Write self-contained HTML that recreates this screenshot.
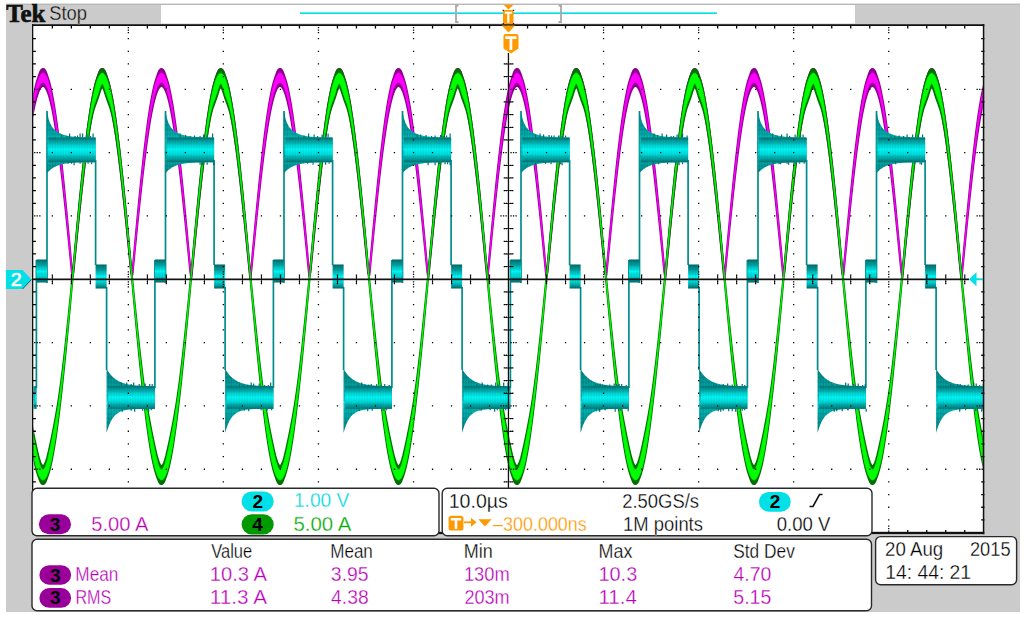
<!DOCTYPE html>
<html><head><meta charset="utf-8"><title>Tek</title><style>
html,body{margin:0;padding:0;background:#fff;width:1024px;height:617px;overflow:hidden}
svg{display:block}
</style></head><body>
<svg width="1024" height="617" viewBox="0 0 1024 617">
<rect x="6" y="4" width="1014" height="608" fill="#cbcbcb"/>
<rect x="6" y="3.6" width="1014" height="1.2" fill="#b4b4b4"/>
<rect x="161" y="5" width="694" height="18.5" fill="#fff"/>
<rect x="32" y="24" width="952.5" height="510" fill="#fff"/>
<clipPath id="gc"><rect x="33.3" y="26" width="949.5" height="506"/></clipPath>
<g clip-path="url(#gc)">
<path d="M31.3 109.9l1-6.2 1-5.7 1-5.1 1-4.7 1-4.1 1-3.6 1-3 1-2.9 1-2.7 1-1.8 1-0.9 1-0.1 1 0.5 1 1.4 1 2.4 1 2.9 1 3 1 3.3 1 3.9 1 4.4 1 5 1 5.5 1 6 1 6.4 1 7 1 7.3 1 7.8 1 8.2 1 8.6 1 9 1 9.2 1 9.6 1 9.9 1 10.1 1 10.3 1 10.5 1 10.7 1 10.8 1 10.9 1 11 1 11 1-3.8 1-11.1 1-10.9 1-10.9 1-10.8 1-10.6 1-10.5 1-10.2 1-10 1-9.8 1-9.5 1-9.1 1-8.8 1-8.5 1-8 1-7.7 1-7.2 1-6.8 1-6.3 1-5.8 1-5.3 1-4.8 1-4.2 1-3.7 1-3.2 1-2.9 1-2.8 1-2.1 1-1 1-0.3 1 0.3 1 1.2 1 2.1 1 2.9 1 2.9 1 3.2 1 3.8 1 4.3 1 4.8 1 5.4 1 5.8 1 6.4 1 6.8 1 7.3 1 7.6 1 8.2 1 8.4 1 8.9 1 9.2 1 9.5 1 9.8 1 10 1 10.3 1 10.4 1 10.7 1 10.8 1 10.9 1 10.9 1 11.1 1 1.6 1-11 1-11 1-10.9 1-10.8 1-10.7 1-10.5 1-10.3 1-10 1-9.9 1-9.5 1-9.3 1-8.9 1-8.5 1-8.2 1-7.7 1-7.4 1-6.8 1-6.5 1-5.9 1-5.4 1-4.9 1-4.4 1-3.9 1-3.2 1-3 1-2.9 1-2.3 1-1.2 1-0.5 1 0.2 1 0.9 1 1.9 1 2.8 1 2.9 1 3.1 1 3.6 1 4.2 1 4.7 1 5.2 1 5.7 1 6.2 1 6.7 1 7.2 1 7.6 1 8 1 8.4 1 8.7 1 9.2 1 9.4 1 9.7 1 10 1 10.2 1 10.4 1 10.6 1 10.8 1 10.8 1 11 1 11 1 7.2 1-11.1 1-11 1-10.9 1-10.8 1-10.7 1-10.6 1-10.3 1-10.1 1-9.9 1-9.7 1-9.3 1-9 1-8.6 1-8.3 1-7.8 1-7.5 1-7 1-6.5 1-6 1-5.6 1-5.1 1-4.5 1-3.9 1-3.5 1-3 1-2.9 1-2.5 1-1.5 1-0.6 1 0 1 0.7 1 1.6 1 2.6 1 2.9 1 3 1 3.5 1 4.1 1 4.5 1 5.1 1 5.6 1 6.1 1 6.6 1 7.1 1 7.4 1 7.9 1 8.3 1 8.7 1 9 1 9.4 1 9.6 1 10 1 10.1 1 10.4 1 10.5 1 10.8 1 10.8 1 10.9 1 11 1 11.1 1-9.4 1-11 1-11 1-10.8 1-10.8 1-10.5 1-10.4 1-10.2 1-10 1-9.7 1-9.4 1-9 1-8.8 1-8.3 1-8 1-7.5 1-7.2 1-6.6 1-6.2 1-5.7 1-5.1 1-4.7 1-4.1 1-3.6 1-3 1-2.9 1-2.7 1-1.8 1-0.9 1-0.1 1 0.5 1 1.4 1 2.4 1 2.9 1 3 1 3.3 1 3.9 1 4.4 1 5 1 5.5 1 6 1 6.4 1 7 1 7.3 1 7.8 1 8.2 1 8.6 1 9 1 9.2 1 9.6 1 9.9 1 10.1 1 10.3 1 10.5 1 10.7 1 10.8 1 10.9 1 11 1 11 1-3.8 1-11.1 1-10.9 1-10.9 1-10.8 1-10.6 1-10.5 1-10.2 1-10 1-9.8 1-9.5 1-9.1 1-8.8 1-8.5 1-8 1-7.7 1-7.2 1-6.8 1-6.3 1-5.8 1-5.3 1-4.8 1-4.2 1-3.7 1-3.2 1-2.9 1-2.8 1-2.1 1-1 1-0.3 1 0.3 1 1.2 1 2.1 1 2.9 1 2.9 1 3.2 1 3.8 1 4.3 1 4.8 1 5.4 1 5.8 1 6.4 1 6.8 1 7.3 1 7.6 1 8.2 1 8.4 1 8.9 1 9.2 1 9.5 1 9.8 1 10 1 10.3 1 10.4 1 10.7 1 10.8 1 10.9 1 10.9 1 11.1 1 1.6 1-11 1-11 1-10.9 1-10.8 1-10.7 1-10.5 1-10.3 1-10 1-9.9 1-9.5 1-9.3 1-8.9 1-8.5 1-8.2 1-7.7 1-7.4 1-6.8 1-6.5 1-5.9 1-5.4 1-4.9 1-4.4 1-3.9 1-3.2 1-3 1-2.9 1-2.3 1-1.2 1-0.5 1 0.2 1 0.9 1 1.9 1 2.8 1 2.9 1 3.1 1 3.6 1 4.2 1 4.7 1 5.2 1 5.7 1 6.2 1 6.7 1 7.2 1 7.6 1 8 1 8.4 1 8.7 1 9.2 1 9.4 1 9.7 1 10 1 10.2 1 10.4 1 10.6 1 10.8 1 10.8 1 11 1 11 1 7.2 1-11.1 1-11 1-10.9 1-10.8 1-10.7 1-10.6 1-10.3 1-10.1 1-9.9 1-9.7 1-9.3 1-9 1-8.6 1-8.3 1-7.8 1-7.5 1-7 1-6.5 1-6 1-5.6 1-5.1 1-4.5 1-3.9 1-3.5 1-3 1-2.9 1-2.5 1-1.5 1-0.6 1 0 1 0.7 1 1.6 1 2.6 1 2.9 1 3 1 3.5 1 4.1 1 4.5 1 5.1 1 5.6 1 6.1 1 6.6 1 7.1 1 7.4 1 7.9 1 8.3 1 8.7 1 9 1 9.4 1 9.6 1 10 1 10.1 1 10.4 1 10.5 1 10.8 1 10.8 1 10.9 1 11 1 11.1 1-9.4 1-11 1-11 1-10.8 1-10.8 1-10.5 1-10.4 1-10.2 1-10 1-9.7 1-9.4 1-9 1-8.8 1-8.3 1-8 1-7.5 1-7.2 1-6.6 1-6.2 1-5.7 1-5.1 1-4.7 1-4.1 1-3.6 1-3 1-2.9 1-2.7 1-1.8 1-0.9 1-0.1 1 0.5 1 1.4 1 2.4 1 2.9 1 3 1 3.3 1 3.9 1 4.4 1 5 1 5.5 1 6 1 6.4 1 7 1 7.3 1 7.8 1 8.2 1 8.6 1 9 1 9.2 1 9.6 1 9.9 1 10.1 1 10.3 1 10.5 1 10.7 1 10.8 1 10.9 1 11 1 11 1-3.8 1-11.1 1-10.9 1-10.9 1-10.8 1-10.6 1-10.5 1-10.2 1-10 1-9.8 1-9.5 1-9.1 1-8.8 1-8.5 1-8 1-7.7 1-7.2 1-6.8 1-6.3 1-5.8 1-5.3 1-4.8 1-4.2 1-3.7 1-3.2 1-2.9 1-2.8 1-2.1 1-1 1-0.3 1 0.3 1 1.2 1 2.1 1 2.9 1 2.9 1 3.2 1 3.8 1 4.3 1 4.8 1 5.4 1 5.8 1 6.4 1 6.8 1 7.3 1 7.6 1 8.2 1 8.4 1 8.9 1 9.2 1 9.5 1 9.8 1 10 1 10.3 1 10.4 1 10.7 1 10.8 1 10.9 1 10.9 1 11.1 1 1.6 1-11 1-11 1-10.9 1-10.8 1-10.7 1-10.5 1-10.3 1-10 1-9.9 1-9.5 1-9.3 1-8.9 1-8.5 1-8.2 1-7.7 1-7.4 1-6.8 1-6.5 1-5.9 1-5.4 1-4.9 1-4.4 1-3.9 1-3.2 1-3 1-2.9 1-2.3 1-1.2 1-0.5 1 0.2 1 0.9 1 1.9 1 2.8 1 2.9 1 3.1 1 3.6 1 4.2 1 4.7 1 5.2 1 5.7 1 6.2 1 6.7 1 7.2 1 7.6 1 8 1 8.4 1 8.7 1 9.2 1 9.4 1 9.7 1 10 1 10.2 1 10.4 1 10.6 1 10.8 1 10.8 1 11 1 11 1 7.2 1-11.1 1-11 1-10.9 1-10.8 1-10.7 1-10.6 1-10.3 1-10.1 1-9.9 1-9.7 1-9.3 1-9 1-8.6 1-8.3 1-7.8 1-7.5 1-7 1-6.5 1-6 1-5.6 1-5.1 1-4.5 1-3.9 1-3.5 1-3 1-2.9 1-2.5 1-1.5 1-0.6 1 0 1 0.7 1 1.6 1 2.6 1 2.9 1 3 1 3.5 1 4.1 1 4.5 1 5.1 1 5.6 1 6.1 1 6.6 1 7.1 1 7.4 1 7.9 1 8.3 1 8.7 1 9 1 9.4 1 9.6 1 10 1 10.1 1 10.4 1 10.5 1 10.8 1 10.8 1 10.9 1 11 1 11.1 1-9.4 1-11 1-11 1-10.8 1-10.8 1-10.5 1-10.4 1-10.2 1-10 1-9.7 1-9.4 1-9 1-8.8 1-8.3 1-8 1-7.5 1-7.2 1-6.6 1-6.2 1-5.7 1-5.1 1-4.7 1-4.1 1-3.6 1-3 1-2.9 1-2.7 1-1.8 1-0.9 1-0.1 1 0.5 1 1.4 1 2.4 1 2.9 1 3 1 3.3 1 3.9 1 4.4 1 5 1 5.5 1 6 1 6.4 1 7 1 7.3 1 7.8 1 8.2 1 8.6 1 9 1 9.2 1 9.6 1 9.9 1 10.1 1 10.3 1 10.5 1 10.7 1 10.8 1 10.9 1 11 1 11 1-3.8 1-11.1 1-10.9 1-10.9 1-10.8 1-10.6 1-10.5 1-10.2 1-10 1-9.8 1-9.5 1-9.1 1-8.8 1-8.5 1-8 1-7.7 1-7.2 1-6.8 1-6.3 1-5.8 1-5.3 1-4.8 1-4.2 1-3.7 1-3.2 1-2.9 1-2.8 1-2.1 1-1 1-0.3 1 0.3 1 1.2 1 2.1 1 2.9 1 2.9 1 3.2 1 3.8 1 4.3 1 4.8 1 5.4 1 5.8 1 6.4 1 6.8 1 7.3 1 7.6 1 8.2 1 8.4 1 8.9 1 9.2 1 9.5 1 9.8 1 10 1 10.3 1 10.4 1 10.7 1 10.8 1 10.9 1 10.9 1 11.1 1 1.6 1-11 1-11 1-10.9 1-10.8 1-10.7 1-10.5 1-10.3 1-10 1-9.9 1-9.5 1-9.3 1-8.9 1-8.5 1-8.2 1-7.7 1-7.4 1-6.8 1-6.5 1-5.9 1-5.4 1-4.9 1-4.4 1-3.9 1-3.2 1-3 1-2.9 1-2.3 1-1.2 1-0.5 1 0.2 1 0.9 1 1.9 1 2.8 1 2.9 1 3.1 1 3.6 1 4.2 1 4.7 1 5.2 1 5.7 1 6.2 1 6.7 1 7.2 1 7.6 1 8 1 8.4 1 8.7 1 9.2 1 9.4 1 9.7 1 10 1 10.2 1 10.4 1 10.6 1 10.8 1 10.8 1 11 1 11 1 7.2 1-11.1 1-11 1-10.9 1-10.8 1-10.7 1-10.6 1-10.3 1-10.1 1-9.9 1-9.7 1-9.3 1-9 1-8.6 1-8.3 1-7.8 1-7.5 1-7 1-6.5 1-6 1-5.6 1-5.1 1-4.5 1-3.9 1-3.5 1-3 1-2.9 1-2.5 1-1.5 1-0.6 1 0 1 0.7 1 1.6 1 2.6 1 2.9 1 3 1 3.5 1 4.1 1 4.5 1 5.1 1 5.6 1 6.1 1 6.6 1 7.1 1 7.4 1 7.9 1 8.3 1 8.7 1 9 1 9.4 1 9.6 1 10 1 10.1 1 10.4 1 10.5 1 10.8 1 10.8 1 10.9 1 11 1 11.1 1-9.4 1-11 1-11 1-10.8 1-10.8 1-10.5 1-10.4 1-10.2 1-10 1-9.7 1-9.4 1-9 1-8.8 1-8.3 1-8 1-7.5 1-7.2 1-6.6 1-6.2 1-5.7 1-5.1 1-4.7 1-4.1 1-3.6 0 14.1-1 3.3-1 3.8-1 4.3-1 4.8-1 5.3-1 5.8-1 6.1-1 6.6-1 7.1-1 7.4-1 7.7-1 8.1-1 8.5-1 8.7-1 9-1 9.3-1 9.4-1 9.7-1 9.8-1 10-1 10.1-1 10.2-1 10.2-1 8.7-1-10.2-1-10.2-1-10.2-1-10.1-1-9.9-1-9.9-1-9.6-1-9.4-1-9.3-1-8.9-1-8.7-1-8.4-1-8.1-1-7.7-1-7.3-1-7-1-6.5-1-6.1-1-5.7-1-5.2-1-4.8-1-4.2-1-3.7-1-3.3-1-2.7-1-2.2-1-1.6-1-1.1-1-0.6-1 0-1 0.5-1 1-1 1.6-1 2.2-1 2.6-1 3.2-1 3.7-1 4.2-1 4.7-1 5.2-1 5.6-1 6.1-1 6.5-1 6.9-1 7.3-1 7.7-1 8-1 8.3-1 8.7-1 8.9-1 9.2-1 9.4-1 9.7-1 9.8-1 9.9-1 10.1-1 10.1-1 10.3-1 10.2-1-6.7-1-10.2-1-10.2-1-10.1-1-10-1-9.8-1-9.7-1-9.5-1-9.3-1-9-1-8.8-1-8.4-1-8.2-1-7.8-1-7.4-1-7.1-1-6.6-1-6.2-1-5.8-1-5.4-1-4.8-1-4.4-1-3.9-1-3.3-1-2.9-1-2.3-1-1.8-1-1.2-1-0.7-1-0.2-1 0.4-1 0.9-1 1.5-1 2-1 2.5-1 3.1-1 3.5-1 4.1-1 4.6-1 5-1 5.5-1 6-1 6.4-1 6.8-1 7.2-1 7.6-1 7.9-1 8.3-1 8.6-1 8.9-1 9.1-1 9.4-1 9.5-1 9.8-1 9.9-1 10.1-1 10.1-1 10.2-1 10.2-1-1.5-1-10.2-1-10.2-1-10.2-1-10-1-9.9-1-9.7-1-9.5-1-9.4-1-9.1-1-8.8-1-8.5-1-8.3-1-7.9-1-7.5-1-7.1-1-6.8-1-6.3-1-5.9-1-5.5-1-4.9-1-4.5-1-4-1-3.5-1-3-1-2.5-1-1.9-1-1.4-1-0.8-1-0.3-1 0.2-1 0.8-1 1.4-1 1.8-1 2.4-1 2.9-1 3.5-1 3.9-1 4.5-1 4.9-1 5.4-1 5.9-1 6.3-1 6.7-1 7.1-1 7.5-1 7.8-1 8.2-1 8.5-1 8.8-1 9.1-1 9.3-1 9.5-1 9.7-1 9.9-1 10-1 10.1-1 10.2-1 10.3-1 3.6-1-10.3-1-10.2-1-10.1-1-10.1-1-9.9-1-9.8-1-9.6-1-9.4-1-9.1-1-8.9-1-8.6-1-8.3-1-8-1-7.6-1-7.3-1-6.8-1-6.5-1-6-1-5.6-1-5-1-4.7-1-4.1-1-3.6-1-3.1-1-2.6-1-2-1-1.6-1-0.9-1-0.5-1 0.1-1 0.7-1 1.2-1 1.7-1 2.3-1 2.8-1 3.3-1 3.8-1 4.3-1 4.8-1 5.3-1 5.8-1 6.1-1 6.6-1 7.1-1 7.4-1 7.7-1 8.1-1 8.5-1 8.7-1 9-1 9.3-1 9.4-1 9.7-1 9.8-1 10-1 10.1-1 10.2-1 10.2-1 8.7-1-10.2-1-10.2-1-10.2-1-10.1-1-9.9-1-9.9-1-9.6-1-9.4-1-9.3-1-8.9-1-8.7-1-8.4-1-8.1-1-7.7-1-7.3-1-7-1-6.5-1-6.1-1-5.7-1-5.2-1-4.8-1-4.2-1-3.7-1-3.3-1-2.7-1-2.2-1-1.6-1-1.1-1-0.6-1 0-1 0.5-1 1-1 1.6-1 2.2-1 2.6-1 3.2-1 3.7-1 4.2-1 4.7-1 5.2-1 5.6-1 6.1-1 6.5-1 6.9-1 7.3-1 7.7-1 8-1 8.3-1 8.7-1 8.9-1 9.2-1 9.4-1 9.7-1 9.8-1 9.9-1 10.1-1 10.1-1 10.3-1 10.2-1-6.7-1-10.2-1-10.2-1-10.1-1-10-1-9.8-1-9.7-1-9.5-1-9.3-1-9-1-8.8-1-8.4-1-8.2-1-7.8-1-7.4-1-7.1-1-6.6-1-6.2-1-5.8-1-5.4-1-4.8-1-4.4-1-3.9-1-3.3-1-2.9-1-2.3-1-1.8-1-1.2-1-0.7-1-0.2-1 0.4-1 0.9-1 1.5-1 2-1 2.5-1 3.1-1 3.5-1 4.1-1 4.6-1 5-1 5.5-1 6-1 6.4-1 6.8-1 7.2-1 7.6-1 7.9-1 8.3-1 8.6-1 8.9-1 9.1-1 9.4-1 9.5-1 9.8-1 9.9-1 10.1-1 10.1-1 10.2-1 10.2-1-1.5-1-10.2-1-10.2-1-10.2-1-10-1-9.9-1-9.7-1-9.5-1-9.4-1-9.1-1-8.8-1-8.5-1-8.3-1-7.9-1-7.5-1-7.1-1-6.8-1-6.3-1-5.9-1-5.5-1-4.9-1-4.5-1-4-1-3.5-1-3-1-2.5-1-1.9-1-1.4-1-0.8-1-0.3-1 0.2-1 0.8-1 1.4-1 1.8-1 2.4-1 2.9-1 3.5-1 3.9-1 4.5-1 4.9-1 5.4-1 5.9-1 6.3-1 6.7-1 7.1-1 7.5-1 7.8-1 8.2-1 8.5-1 8.8-1 9.1-1 9.3-1 9.5-1 9.7-1 9.9-1 10-1 10.1-1 10.2-1 10.3-1 3.6-1-10.3-1-10.2-1-10.1-1-10.1-1-9.9-1-9.8-1-9.6-1-9.4-1-9.1-1-8.9-1-8.6-1-8.3-1-8-1-7.6-1-7.3-1-6.8-1-6.5-1-6-1-5.6-1-5-1-4.7-1-4.1-1-3.6-1-3.1-1-2.6-1-2-1-1.6-1-0.9-1-0.5-1 0.1-1 0.7-1 1.2-1 1.7-1 2.3-1 2.8-1 3.3-1 3.8-1 4.3-1 4.8-1 5.3-1 5.8-1 6.1-1 6.6-1 7.1-1 7.4-1 7.7-1 8.1-1 8.5-1 8.7-1 9-1 9.3-1 9.4-1 9.7-1 9.8-1 10-1 10.1-1 10.2-1 10.2-1 8.7-1-10.2-1-10.2-1-10.2-1-10.1-1-9.9-1-9.9-1-9.6-1-9.4-1-9.3-1-8.9-1-8.7-1-8.4-1-8.1-1-7.7-1-7.3-1-7-1-6.5-1-6.1-1-5.7-1-5.2-1-4.8-1-4.2-1-3.7-1-3.3-1-2.7-1-2.2-1-1.6-1-1.1-1-0.6-1 0-1 0.5-1 1-1 1.6-1 2.2-1 2.6-1 3.2-1 3.7-1 4.2-1 4.7-1 5.2-1 5.6-1 6.1-1 6.5-1 6.9-1 7.3-1 7.7-1 8-1 8.3-1 8.7-1 8.9-1 9.2-1 9.4-1 9.7-1 9.8-1 9.9-1 10.1-1 10.1-1 10.3-1 10.2-1-6.7-1-10.2-1-10.2-1-10.1-1-10-1-9.8-1-9.7-1-9.5-1-9.3-1-9-1-8.8-1-8.4-1-8.2-1-7.8-1-7.4-1-7.1-1-6.6-1-6.2-1-5.8-1-5.4-1-4.8-1-4.4-1-3.9-1-3.3-1-2.9-1-2.3-1-1.8-1-1.2-1-0.7-1-0.2-1 0.4-1 0.9-1 1.5-1 2-1 2.5-1 3.1-1 3.5-1 4.1-1 4.6-1 5-1 5.5-1 6-1 6.4-1 6.8-1 7.2-1 7.6-1 7.9-1 8.3-1 8.6-1 8.9-1 9.1-1 9.4-1 9.5-1 9.8-1 9.9-1 10.1-1 10.1-1 10.2-1 10.2-1-1.5-1-10.2-1-10.2-1-10.2-1-10-1-9.9-1-9.7-1-9.5-1-9.4-1-9.1-1-8.8-1-8.5-1-8.3-1-7.9-1-7.5-1-7.1-1-6.8-1-6.3-1-5.9-1-5.5-1-4.9-1-4.5-1-4-1-3.5-1-3-1-2.5-1-1.9-1-1.4-1-0.8-1-0.3-1 0.2-1 0.8-1 1.4-1 1.8-1 2.4-1 2.9-1 3.5-1 3.9-1 4.5-1 4.9-1 5.4-1 5.9-1 6.3-1 6.7-1 7.1-1 7.5-1 7.8-1 8.2-1 8.5-1 8.8-1 9.1-1 9.3-1 9.5-1 9.7-1 9.9-1 10-1 10.1-1 10.2-1 10.3-1 3.6-1-10.3-1-10.2-1-10.1-1-10.1-1-9.9-1-9.8-1-9.6-1-9.4-1-9.1-1-8.9-1-8.6-1-8.3-1-8-1-7.6-1-7.3-1-6.8-1-6.5-1-6-1-5.6-1-5-1-4.7-1-4.1-1-3.6-1-3.1-1-2.6-1-2-1-1.6-1-0.9-1-0.5-1 0.1-1 0.7-1 1.2-1 1.7-1 2.3-1 2.8-1 3.3-1 3.8-1 4.3-1 4.8-1 5.3-1 5.8-1 6.1-1 6.6-1 7.1-1 7.4-1 7.7-1 8.1-1 8.5-1 8.7-1 9-1 9.3-1 9.4-1 9.7-1 9.8-1 10-1 10.1-1 10.2-1 10.2-1 8.7-1-10.2-1-10.2-1-10.2-1-10.1-1-9.9-1-9.9-1-9.6-1-9.4-1-9.3-1-8.9-1-8.7-1-8.4-1-8.1-1-7.7-1-7.3-1-7-1-6.5-1-6.1-1-5.7-1-5.2-1-4.8-1-4.2-1-3.7-1-3.3-1-2.7-1-2.2-1-1.6-1-1.1-1-0.6-1 0-1 0.5-1 1-1 1.6-1 2.2-1 2.6-1 3.2-1 3.7-1 4.2-1 4.7-1 5.2-1 5.6-1 6.1-1 6.5-1 6.9-1 7.3-1 7.7-1 8-1 8.3-1 8.7-1 8.9-1 9.2-1 9.4-1 9.7-1 9.8-1 9.9-1 10.1-1 10.1-1 10.3-1 10.2-1-6.7-1-10.2-1-10.2-1-10.1-1-10-1-9.8-1-9.7-1-9.5-1-9.3-1-9-1-8.8-1-8.4-1-8.2-1-7.8-1-7.4-1-7.1-1-6.6-1-6.2-1-5.8-1-5.4-1-4.8-1-4.4-1-3.9-1-3.3-1-2.9-1-2.3-1-1.8-1-1.2-1-0.7-1-0.2-1 0.4-1 0.9-1 1.5-1 2-1 2.5-1 3.1-1 3.5-1 4.1-1 4.6-1 5-1 5.5-1 6-1 6.4-1 6.8-1 7.2-1 7.6-1 7.9-1 8.3-1 8.6-1 8.9-1 9.1-1 9.4-1 9.5-1 9.8-1 9.9-1 10.1-1 10.1-1 10.2-1 10.2-1-1.5-1-10.2-1-10.2-1-10.2-1-10-1-9.9-1-9.7-1-9.5-1-9.4-1-9.1-1-8.8-1-8.5-1-8.3-1-7.9-1-7.5-1-7.1-1-6.8-1-6.3-1-5.9-1-5.5-1-4.9-1-4.5-1-4-1-3.5-1-3-1-2.5-1-1.9-1-1.4-1-0.8-1-0.3-1 0.2-1 0.8-1 1.4-1 1.8-1 2.4-1 2.9-1 3.5-1 3.9-1 4.5-1 4.9-1 5.4-1 5.9-1 6.3-1 6.7-1 7.1-1 7.5-1 7.8-1 8.2-1 8.5-1 8.8-1 9.1-1 9.3-1 9.5-1 9.7-1 9.9-1 10-1 10.1-1 10.2-1 10.3-1 3.6-1-10.3-1-10.2-1-10.1-1-10.1-1-9.9-1-9.8-1-9.6-1-9.4-1-9.1-1-8.9-1-8.6-1-8.3-1-8-1-7.6-1-7.3-1-6.8-1-6.5-1-6-1-5.6-1-5-1-4.7-1-4.1-1-3.6-1-3.1-1-2.6-1-2-1-1.6-1-0.9-1-0.5-1 0.1-1 0.7-1 1.2-1 1.7-1 2.3-1 2.8-1 3.3-1 3.8-1 4.3-1 4.8-1 5.3-1 5.8z" fill="#900090" stroke="#900090" stroke-width="2.2" stroke-linejoin="round"/>
<path d="M31.3 111.5l1-6.1 1-5.6 1-5.1 1-4.7 1-4 1-3.6 1-2.9 1-2.4 1-1.9 1-1.3 1-0.7 1-0.1 1 0.5 1 1 1 1.6 1 2.2 1 2.8 1 3.3 1 3.9 1 4.3 1 5 1 5.4 1 5.9 1 6.4 1 6.9 1 7.3 1 7.7 1 8.1 1 8.5 1 8.9 1 9.2 1 9.5 1 9.7 1 10 1 10.2 1 10.5 1 10.5 1 10.7 1 10.8 1 10.9 1 10.9 1-3.8 1-10.9 1-10.8 1-10.8 1-10.7 1-10.5 1-10.4 1-10.1 1-9.9 1-9.7 1-9.4 1-9 1-8.8 1-8.4 1-7.9 1-7.6 1-7.2 1-6.7 1-6.2 1-5.8 1-5.2 1-4.8 1-4.2 1-3.6 1-3.1 1-2.6 1-2 1-1.4 1-0.8 1-0.3 1 0.3 1 0.9 1 1.5 1 2 1 2.6 1 3.2 1 3.7 1 4.3 1 4.8 1 5.3 1 5.8 1 6.3 1 6.7 1 7.2 1 7.6 1 8.1 1 8.4 1 8.7 1 9.1 1 9.5 1 9.6 1 10 1 10.2 1 10.3 1 10.6 1 10.6 1 10.8 1 10.9 1 10.9 1 1.7 1-11 1-10.8 1-10.8 1-10.7 1-10.6 1-10.4 1-10.2 1-10 1-9.7 1-9.5 1-9.1 1-8.8 1-8.5 1-8.1 1-7.7 1-7.2 1-6.8 1-6.4 1-5.9 1-5.3 1-4.9 1-4.4 1-3.8 1-3.2 1-2.7 1-2.1 1-1.6 1-1 1-0.4 1 0.2 1 0.7 1 1.4 1 1.9 1 2.4 1 3.1 1 3.6 1 4.1 1 4.6 1 5.2 1 5.7 1 6.2 1 6.6 1 7.1 1 7.5 1 7.9 1 8.3 1 8.7 1 9 1 9.4 1 9.6 1 9.9 1 10.1 1 10.3 1 10.5 1 10.7 1 10.7 1 10.9 1 10.9 1 7.1 1-10.9 1-10.9 1-10.8 1-10.8 1-10.6 1-10.4 1-10.3 1-10 1-9.8 1-9.5 1-9.3 1-8.9 1-8.5 1-8.2 1-7.8 1-7.3 1-7 1-6.5 1-5.9 1-5.6 1-4.9 1-4.5 1-4 1-3.4 1-2.8 1-2.3 1-1.7 1-1.1 1-0.5 1 0 1 0.6 1 1.2 1 1.7 1 2.4 1 2.9 1 3.4 1 4 1 4.5 1 5.1 1 5.5 1 6.1 1 6.5 1 7 1 7.4 1 7.8 1 8.2 1 8.6 1 9 1 9.2 1 9.6 1 9.8 1 10 1 10.3 1 10.5 1 10.6 1 10.7 1 10.9 1 10.9 1 10.9 1-9.3 1-10.9 1-10.9 1-10.7 1-10.6 1-10.5 1-10.3 1-10.1 1-9.9 1-9.6 1-9.3 1-9 1-8.6 1-8.3 1-7.9 1-7.4 1-7.1 1-6.6 1-6.1 1-5.6 1-5.1 1-4.7 1-4 1-3.6 1-2.9 1-2.4 1-1.9 1-1.3 1-0.7 1-0.1 1 0.5 1 1 1 1.6 1 2.2 1 2.8 1 3.3 1 3.9 1 4.3 1 5 1 5.4 1 5.9 1 6.4 1 6.9 1 7.3 1 7.7 1 8.1 1 8.5 1 8.9 1 9.2 1 9.5 1 9.7 1 10 1 10.2 1 10.5 1 10.5 1 10.7 1 10.8 1 10.9 1 10.9 1-3.8 1-10.9 1-10.8 1-10.8 1-10.7 1-10.5 1-10.4 1-10.1 1-9.9 1-9.7 1-9.4 1-9 1-8.8 1-8.4 1-7.9 1-7.6 1-7.2 1-6.7 1-6.2 1-5.8 1-5.2 1-4.8 1-4.2 1-3.6 1-3.1 1-2.6 1-2 1-1.4 1-0.8 1-0.3 1 0.3 1 0.9 1 1.5 1 2 1 2.6 1 3.2 1 3.7 1 4.3 1 4.8 1 5.3 1 5.8 1 6.3 1 6.7 1 7.2 1 7.6 1 8.1 1 8.4 1 8.7 1 9.1 1 9.5 1 9.6 1 10 1 10.2 1 10.3 1 10.6 1 10.6 1 10.8 1 10.9 1 10.9 1 1.7 1-11 1-10.8 1-10.8 1-10.7 1-10.6 1-10.4 1-10.2 1-10 1-9.7 1-9.5 1-9.1 1-8.8 1-8.5 1-8.1 1-7.7 1-7.2 1-6.8 1-6.4 1-5.9 1-5.3 1-4.9 1-4.4 1-3.8 1-3.2 1-2.7 1-2.1 1-1.6 1-1 1-0.4 1 0.2 1 0.7 1 1.4 1 1.9 1 2.4 1 3.1 1 3.6 1 4.1 1 4.6 1 5.2 1 5.7 1 6.2 1 6.6 1 7.1 1 7.5 1 7.9 1 8.3 1 8.7 1 9 1 9.4 1 9.6 1 9.9 1 10.1 1 10.3 1 10.5 1 10.7 1 10.7 1 10.9 1 10.9 1 7.1 1-10.9 1-10.9 1-10.8 1-10.8 1-10.6 1-10.4 1-10.3 1-10 1-9.8 1-9.5 1-9.3 1-8.9 1-8.5 1-8.2 1-7.8 1-7.3 1-7 1-6.5 1-5.9 1-5.6 1-4.9 1-4.5 1-4 1-3.4 1-2.8 1-2.3 1-1.7 1-1.1 1-0.5 1 0 1 0.6 1 1.2 1 1.7 1 2.4 1 2.9 1 3.4 1 4 1 4.5 1 5.1 1 5.5 1 6.1 1 6.5 1 7 1 7.4 1 7.8 1 8.2 1 8.6 1 9 1 9.2 1 9.6 1 9.8 1 10 1 10.3 1 10.5 1 10.6 1 10.7 1 10.9 1 10.9 1 10.9 1-9.3 1-10.9 1-10.9 1-10.7 1-10.6 1-10.5 1-10.3 1-10.1 1-9.9 1-9.6 1-9.3 1-9 1-8.6 1-8.3 1-7.9 1-7.4 1-7.1 1-6.6 1-6.1 1-5.6 1-5.1 1-4.7 1-4 1-3.6 1-2.9 1-2.4 1-1.9 1-1.3 1-0.7 1-0.1 1 0.5 1 1 1 1.6 1 2.2 1 2.8 1 3.3 1 3.9 1 4.3 1 5 1 5.4 1 5.9 1 6.4 1 6.9 1 7.3 1 7.7 1 8.1 1 8.5 1 8.9 1 9.2 1 9.5 1 9.7 1 10 1 10.2 1 10.5 1 10.5 1 10.7 1 10.8 1 10.9 1 10.9 1-3.8 1-10.9 1-10.8 1-10.8 1-10.7 1-10.5 1-10.4 1-10.1 1-9.9 1-9.7 1-9.4 1-9 1-8.8 1-8.4 1-7.9 1-7.6 1-7.2 1-6.7 1-6.2 1-5.8 1-5.2 1-4.8 1-4.2 1-3.6 1-3.1 1-2.6 1-2 1-1.4 1-0.8 1-0.3 1 0.3 1 0.9 1 1.5 1 2 1 2.6 1 3.2 1 3.7 1 4.3 1 4.8 1 5.3 1 5.8 1 6.3 1 6.7 1 7.2 1 7.6 1 8.1 1 8.4 1 8.7 1 9.1 1 9.5 1 9.6 1 10 1 10.2 1 10.3 1 10.6 1 10.6 1 10.8 1 10.9 1 10.9 1 1.7 1-11 1-10.8 1-10.8 1-10.7 1-10.6 1-10.4 1-10.2 1-10 1-9.7 1-9.5 1-9.1 1-8.8 1-8.5 1-8.1 1-7.7 1-7.2 1-6.8 1-6.4 1-5.9 1-5.3 1-4.9 1-4.4 1-3.8 1-3.2 1-2.7 1-2.1 1-1.6 1-1 1-0.4 1 0.2 1 0.7 1 1.4 1 1.9 1 2.4 1 3.1 1 3.6 1 4.1 1 4.6 1 5.2 1 5.7 1 6.2 1 6.6 1 7.1 1 7.5 1 7.9 1 8.3 1 8.7 1 9 1 9.4 1 9.6 1 9.9 1 10.1 1 10.3 1 10.5 1 10.7 1 10.7 1 10.9 1 10.9 1 7.1 1-10.9 1-10.9 1-10.8 1-10.8 1-10.6 1-10.4 1-10.3 1-10 1-9.8 1-9.5 1-9.3 1-8.9 1-8.5 1-8.2 1-7.8 1-7.3 1-7 1-6.5 1-5.9 1-5.6 1-4.9 1-4.5 1-4 1-3.4 1-2.8 1-2.3 1-1.7 1-1.1 1-0.5 1 0 1 0.6 1 1.2 1 1.7 1 2.4 1 2.9 1 3.4 1 4 1 4.5 1 5.1 1 5.5 1 6.1 1 6.5 1 7 1 7.4 1 7.8 1 8.2 1 8.6 1 9 1 9.2 1 9.6 1 9.8 1 10 1 10.3 1 10.5 1 10.6 1 10.7 1 10.9 1 10.9 1 10.9 1-9.3 1-10.9 1-10.9 1-10.7 1-10.6 1-10.5 1-10.3 1-10.1 1-9.9 1-9.6 1-9.3 1-9 1-8.6 1-8.3 1-7.9 1-7.4 1-7.1 1-6.6 1-6.1 1-5.6 1-5.1 1-4.7 1-4 1-3.6 1-2.9 1-2.4 1-1.9 1-1.3 1-0.7 1-0.1 1 0.5 1 1 1 1.6 1 2.2 1 2.8 1 3.3 1 3.9 1 4.3 1 5 1 5.4 1 5.9 1 6.4 1 6.9 1 7.3 1 7.7 1 8.1 1 8.5 1 8.9 1 9.2 1 9.5 1 9.7 1 10 1 10.2 1 10.5 1 10.5 1 10.7 1 10.8 1 10.9 1 10.9 1-3.8 1-10.9 1-10.8 1-10.8 1-10.7 1-10.5 1-10.4 1-10.1 1-9.9 1-9.7 1-9.4 1-9 1-8.8 1-8.4 1-7.9 1-7.6 1-7.2 1-6.7 1-6.2 1-5.8 1-5.2 1-4.8 1-4.2 1-3.6 1-3.1 1-2.6 1-2 1-1.4 1-0.8 1-0.3 1 0.3 1 0.9 1 1.5 1 2 1 2.6 1 3.2 1 3.7 1 4.3 1 4.8 1 5.3 1 5.8 1 6.3 1 6.7 1 7.2 1 7.6 1 8.1 1 8.4 1 8.7 1 9.1 1 9.5 1 9.6 1 10 1 10.2 1 10.3 1 10.6 1 10.6 1 10.8 1 10.9 1 10.9 1 1.7 1-11 1-10.8 1-10.8 1-10.7 1-10.6 1-10.4 1-10.2 1-10 1-9.7 1-9.5 1-9.1 1-8.8 1-8.5 1-8.1 1-7.7 1-7.2 1-6.8 1-6.4 1-5.9 1-5.3 1-4.9 1-4.4 1-3.8 1-3.2 1-2.7 1-2.1 1-1.6 1-1 1-0.4 1 0.2 1 0.7 1 1.4 1 1.9 1 2.4 1 3.1 1 3.6 1 4.1 1 4.6 1 5.2 1 5.7 1 6.2 1 6.6 1 7.1 1 7.5 1 7.9 1 8.3 1 8.7 1 9 1 9.4 1 9.6 1 9.9 1 10.1 1 10.3 1 10.5 1 10.7 1 10.7 1 10.9 1 10.9 1 7.1 1-10.9 1-10.9 1-10.8 1-10.8 1-10.6 1-10.4 1-10.3 1-10 1-9.8 1-9.5 1-9.3 1-8.9 1-8.5 1-8.2 1-7.8 1-7.3 1-7 1-6.5 1-5.9 1-5.6 1-4.9 1-4.5 1-4 1-3.4 1-2.8 1-2.3 1-1.7 1-1.1 1-0.5 1 0 1 0.6 1 1.2 1 1.7 1 2.4 1 2.9 1 3.4 1 4 1 4.5 1 5.1 1 5.5 1 6.1 1 6.5 1 7 1 7.4 1 7.8 1 8.2 1 8.6 1 9 1 9.2 1 9.6 1 9.8 1 10 1 10.3 1 10.5 1 10.6 1 10.7 1 10.9 1 10.9 1 10.9 1-9.3 1-10.9 1-10.9 1-10.7 1-10.6 1-10.5 1-10.3 1-10.1 1-9.9 1-9.6 1-9.3 1-9 1-8.6 1-8.3 1-7.9 1-7.4 1-7.1 1-6.6 1-6.1 1-5.6 1-5.1 1-4.7 1-4 1-3.6 0 8.8-1 3.4-1 3.9-1 4.4-1 4.9-1 5.4-1 5.8-1 6.3-1 6.7-1 7.2-1 7.5-1 7.9-1 8.3-1 8.6-1 8.8-1 9.2-1 9.4-1 9.7-1 9.8-1 10-1 10.2-1 10.3-1 10.3-1 10.4-1 8.9-1-10.4-1-10.4-1-10.4-1-10.2-1-10.2-1-10-1-9.8-1-9.6-1-9.4-1-9.1-1-8.8-1-8.6-1-8.2-1-7.8-1-7.5-1-7.1-1-6.7-1-6.2-1-5.8-1-5.3-1-4.8-1-4.3-1-3.8-1-3.3-1-2.8-1-2.2-1-1.7-1-1.1-1-0.6-1 0-1 0.5-1 1.1-1 1.6-1 2.2-1 2.7-1 3.2-1 3.8-1 4.2-1 4.8-1 5.3-1 5.7-1 6.2-1 6.6-1 7-1 7.5-1 7.8-1 8.2-1 8.5-1 8.8-1 9.1-1 9.4-1 9.5-1 9.8-1 10-1 10.1-1 10.3-1 10.3-1 10.4-1 10.5-1-6.8-1-10.4-1-10.4-1-10.3-1-10.2-1-10-1-9.8-1-9.7-1-9.5-1-9.1-1-9-1-8.6-1-8.3-1-7.9-1-7.6-1-7.2-1-6.7-1-6.4-1-5.9-1-5.4-1-4.9-1-4.5-1-3.9-1-3.5-1-2.9-1-2.3-1-1.8-1-1.3-1-0.7-1-0.2-1 0.4-1 0.9-1 1.5-1 2.1-1 2.5-1 3.1-1 3.7-1 4.1-1 4.7-1 5.1-1 5.6-1 6.1-1 6.5-1 7-1 7.3-1 7.7-1 8.1-1 8.4-1 8.8-1 9-1 9.3-1 9.5-1 9.8-1 9.9-1 10.1-1 10.2-1 10.3-1 10.4-1 10.5-1-1.6-1-10.4-1-10.4-1-10.3-1-10.2-1-10.1-1-9.9-1-9.7-1-9.5-1-9.3-1-9-1-8.7-1-8.3-1-8.1-1-7.6-1-7.3-1-6.9-1-6.4-1-6-1-5.6-1-5.1-1-4.5-1-4.1-1-3.6-1-3-1-2.5-1-1.9-1-1.4-1-0.9-1-0.3-1 0.2-1 0.9-1 1.3-1 1.9-1 2.4-1 3-1 3.5-1 4-1 4.6-1 5-1 5.5-1 5.9-1 6.4-1 6.9-1 7.2-1 7.6-1 8-1 8.4-1 8.7-1 8.9-1 9.2-1 9.5-1 9.7-1 9.9-1 10.1-1 10.2-1 10.3-1 10.3-1 10.5-1 3.6-1-10.4-1-10.4-1-10.4-1-10.2-1-10.1-1-9.9-1-9.8-1-9.6-1-9.3-1-9-1-8.8-1-8.5-1-8.1-1-7.8-1-7.3-1-7-1-6.6-1-6.1-1-5.6-1-5.2-1-4.7-1-4.2-1-3.7-1-3.2-1-2.6-1-2.1-1-1.5-1-1-1-0.5-1 0.1-1 0.7-1 1.2-1 1.8-1 2.3-1 2.8-1 3.4-1 3.9-1 4.4-1 4.9-1 5.4-1 5.8-1 6.3-1 6.7-1 7.2-1 7.5-1 7.9-1 8.3-1 8.6-1 8.8-1 9.2-1 9.4-1 9.7-1 9.8-1 10-1 10.2-1 10.3-1 10.3-1 10.4-1 8.9-1-10.4-1-10.4-1-10.4-1-10.2-1-10.2-1-10-1-9.8-1-9.6-1-9.4-1-9.1-1-8.8-1-8.6-1-8.2-1-7.8-1-7.5-1-7.1-1-6.7-1-6.2-1-5.8-1-5.3-1-4.8-1-4.3-1-3.8-1-3.3-1-2.8-1-2.2-1-1.7-1-1.1-1-0.6-1 0-1 0.5-1 1.1-1 1.6-1 2.2-1 2.7-1 3.2-1 3.8-1 4.2-1 4.8-1 5.3-1 5.7-1 6.2-1 6.6-1 7-1 7.5-1 7.8-1 8.2-1 8.5-1 8.8-1 9.1-1 9.4-1 9.5-1 9.8-1 10-1 10.1-1 10.3-1 10.3-1 10.4-1 10.5-1-6.8-1-10.4-1-10.4-1-10.3-1-10.2-1-10-1-9.8-1-9.7-1-9.5-1-9.1-1-9-1-8.6-1-8.3-1-7.9-1-7.6-1-7.2-1-6.7-1-6.4-1-5.9-1-5.4-1-4.9-1-4.5-1-3.9-1-3.5-1-2.9-1-2.3-1-1.8-1-1.3-1-0.7-1-0.2-1 0.4-1 0.9-1 1.5-1 2.1-1 2.5-1 3.1-1 3.7-1 4.1-1 4.7-1 5.1-1 5.6-1 6.1-1 6.5-1 7-1 7.3-1 7.7-1 8.1-1 8.4-1 8.8-1 9-1 9.3-1 9.5-1 9.8-1 9.9-1 10.1-1 10.2-1 10.3-1 10.4-1 10.5-1-1.6-1-10.4-1-10.4-1-10.3-1-10.2-1-10.1-1-9.9-1-9.7-1-9.5-1-9.3-1-9-1-8.7-1-8.3-1-8.1-1-7.6-1-7.3-1-6.9-1-6.4-1-6-1-5.6-1-5.1-1-4.5-1-4.1-1-3.6-1-3-1-2.5-1-1.9-1-1.4-1-0.9-1-0.3-1 0.2-1 0.9-1 1.3-1 1.9-1 2.4-1 3-1 3.5-1 4-1 4.6-1 5-1 5.5-1 5.9-1 6.4-1 6.9-1 7.2-1 7.6-1 8-1 8.4-1 8.7-1 8.9-1 9.2-1 9.5-1 9.7-1 9.9-1 10.1-1 10.2-1 10.3-1 10.3-1 10.5-1 3.6-1-10.4-1-10.4-1-10.4-1-10.2-1-10.1-1-9.9-1-9.8-1-9.6-1-9.3-1-9-1-8.8-1-8.5-1-8.1-1-7.8-1-7.3-1-7-1-6.6-1-6.1-1-5.6-1-5.2-1-4.7-1-4.2-1-3.7-1-3.2-1-2.6-1-2.1-1-1.5-1-1-1-0.5-1 0.1-1 0.7-1 1.2-1 1.8-1 2.3-1 2.8-1 3.4-1 3.9-1 4.4-1 4.9-1 5.4-1 5.8-1 6.3-1 6.7-1 7.2-1 7.5-1 7.9-1 8.3-1 8.6-1 8.8-1 9.2-1 9.4-1 9.7-1 9.8-1 10-1 10.2-1 10.3-1 10.3-1 10.4-1 8.9-1-10.4-1-10.4-1-10.4-1-10.2-1-10.2-1-10-1-9.8-1-9.6-1-9.4-1-9.1-1-8.8-1-8.6-1-8.2-1-7.8-1-7.5-1-7.1-1-6.7-1-6.2-1-5.8-1-5.3-1-4.8-1-4.3-1-3.8-1-3.3-1-2.8-1-2.2-1-1.7-1-1.1-1-0.6-1 0-1 0.5-1 1.1-1 1.6-1 2.2-1 2.7-1 3.2-1 3.8-1 4.2-1 4.8-1 5.3-1 5.7-1 6.2-1 6.6-1 7-1 7.5-1 7.8-1 8.2-1 8.5-1 8.8-1 9.1-1 9.4-1 9.5-1 9.8-1 10-1 10.1-1 10.3-1 10.3-1 10.4-1 10.5-1-6.8-1-10.4-1-10.4-1-10.3-1-10.2-1-10-1-9.8-1-9.7-1-9.5-1-9.1-1-9-1-8.6-1-8.3-1-7.9-1-7.6-1-7.2-1-6.7-1-6.4-1-5.9-1-5.4-1-4.9-1-4.5-1-3.9-1-3.5-1-2.9-1-2.3-1-1.8-1-1.3-1-0.7-1-0.2-1 0.4-1 0.9-1 1.5-1 2.1-1 2.5-1 3.1-1 3.7-1 4.1-1 4.7-1 5.1-1 5.6-1 6.1-1 6.5-1 7-1 7.3-1 7.7-1 8.1-1 8.4-1 8.8-1 9-1 9.3-1 9.5-1 9.8-1 9.9-1 10.1-1 10.2-1 10.3-1 10.4-1 10.5-1-1.6-1-10.4-1-10.4-1-10.3-1-10.2-1-10.1-1-9.9-1-9.7-1-9.5-1-9.3-1-9-1-8.7-1-8.3-1-8.1-1-7.6-1-7.3-1-6.9-1-6.4-1-6-1-5.6-1-5.1-1-4.5-1-4.1-1-3.6-1-3-1-2.5-1-1.9-1-1.4-1-0.9-1-0.3-1 0.2-1 0.9-1 1.3-1 1.9-1 2.4-1 3-1 3.5-1 4-1 4.6-1 5-1 5.5-1 5.9-1 6.4-1 6.9-1 7.2-1 7.6-1 8-1 8.4-1 8.7-1 8.9-1 9.2-1 9.5-1 9.7-1 9.9-1 10.1-1 10.2-1 10.3-1 10.3-1 10.5-1 3.6-1-10.4-1-10.4-1-10.4-1-10.2-1-10.1-1-9.9-1-9.8-1-9.6-1-9.3-1-9-1-8.8-1-8.5-1-8.1-1-7.8-1-7.3-1-7-1-6.6-1-6.1-1-5.6-1-5.2-1-4.7-1-4.2-1-3.7-1-3.2-1-2.6-1-2.1-1-1.5-1-1-1-0.5-1 0.1-1 0.7-1 1.2-1 1.8-1 2.3-1 2.8-1 3.4-1 3.9-1 4.4-1 4.9-1 5.4-1 5.8-1 6.3-1 6.7-1 7.2-1 7.5-1 7.9-1 8.3-1 8.6-1 8.8-1 9.2-1 9.4-1 9.7-1 9.8-1 10-1 10.2-1 10.3-1 10.3-1 10.4-1 8.9-1-10.4-1-10.4-1-10.4-1-10.2-1-10.2-1-10-1-9.8-1-9.6-1-9.4-1-9.1-1-8.8-1-8.6-1-8.2-1-7.8-1-7.5-1-7.1-1-6.7-1-6.2-1-5.8-1-5.3-1-4.8-1-4.3-1-3.8-1-3.3-1-2.8-1-2.2-1-1.7-1-1.1-1-0.6-1 0-1 0.5-1 1.1-1 1.6-1 2.2-1 2.7-1 3.2-1 3.8-1 4.2-1 4.8-1 5.3-1 5.7-1 6.2-1 6.6-1 7-1 7.5-1 7.8-1 8.2-1 8.5-1 8.8-1 9.1-1 9.4-1 9.5-1 9.8-1 10-1 10.1-1 10.3-1 10.3-1 10.4-1 10.5-1-6.8-1-10.4-1-10.4-1-10.3-1-10.2-1-10-1-9.8-1-9.7-1-9.5-1-9.1-1-9-1-8.6-1-8.3-1-7.9-1-7.6-1-7.2-1-6.7-1-6.4-1-5.9-1-5.4-1-4.9-1-4.5-1-3.9-1-3.5-1-2.9-1-2.3-1-1.8-1-1.3-1-0.7-1-0.2-1 0.4-1 0.9-1 1.5-1 2.1-1 2.5-1 3.1-1 3.7-1 4.1-1 4.7-1 5.1-1 5.6-1 6.1-1 6.5-1 7-1 7.3-1 7.7-1 8.1-1 8.4-1 8.8-1 9-1 9.3-1 9.5-1 9.8-1 9.9-1 10.1-1 10.2-1 10.3-1 10.4-1 10.5-1-1.6-1-10.4-1-10.4-1-10.3-1-10.2-1-10.1-1-9.9-1-9.7-1-9.5-1-9.3-1-9-1-8.7-1-8.3-1-8.1-1-7.6-1-7.3-1-6.9-1-6.4-1-6-1-5.6-1-5.1-1-4.5-1-4.1-1-3.6-1-3-1-2.5-1-1.9-1-1.4-1-0.9-1-0.3-1 0.2-1 0.9-1 1.3-1 1.9-1 2.4-1 3-1 3.5-1 4-1 4.6-1 5-1 5.5-1 5.9-1 6.4-1 6.9-1 7.2-1 7.6-1 8-1 8.4-1 8.7-1 8.9-1 9.2-1 9.5-1 9.7-1 9.9-1 10.1-1 10.2-1 10.3-1 10.3-1 10.5-1 3.6-1-10.4-1-10.4-1-10.4-1-10.2-1-10.1-1-9.9-1-9.8-1-9.6-1-9.3-1-9-1-8.8-1-8.5-1-8.1-1-7.8-1-7.3-1-7-1-6.6-1-6.1-1-5.6-1-5.2-1-4.7-1-4.2-1-3.7-1-3.2-1-2.6-1-2.1-1-1.5-1-1-1-0.5-1 0.1-1 0.7-1 1.2-1 1.8-1 2.3-1 2.8-1 3.4-1 3.9-1 4.4-1 4.9-1 5.4-1 5.8z" fill="#ff00ff" stroke="#ff00ff" stroke-width="0.8" stroke-linejoin="round"/>
<path d="M31.3 443.6l1 6.1 1 5.6 1 5.1 1 4.6 1 4.1 1 3.5 1 3 1 2.9 1 2.7 1 1.8 1 0.8 1 0.1 1-0.5 1-1.4 1-2.4 1-2.8 1-2.9 1-3.3 1-3.9 1-4.4 1-4.9 1-5.4 1-5.9 1-6.3 1-6.9 1-7.2 1-7.7 1-8.1 1-8.5 1-8.8 1-9.1 1-9.5 1-9.7 1-10 1-10.1 1-10.4 1-10.5 1-10.7 1-10.8 1-10.8 1-10.9 1-10.8 1-10.9 1-10.8 1-10.8 1-10.6 1-10.4 1-10.4 1-10.1 1-9.8 1-9.7 1-9.3 1-9 1-8.7 1-8.4 1-7.9 1-7.6 1-7.1 1-6.6 1-6.3 1-5.7 1-5.2 1-4.7 1-4.2 1-3.7 1-3.1 1-2.9 1-2.8 1-2 1-1 1-0.3 1 0.3 1 1.1 1 2.2 1 2.8 1 2.9 1 3.2 1 3.7 1 4.2 1 4.8 1 5.3 1 5.7 1 6.3 1 6.7 1 7.2 1 7.6 1 8 1 8.3 1 8.8 1 9 1 9.4 1 9.6 1 9.9 1 10.2 1 10.3 1 10.5 1 10.6 1 10.8 1 10.8 1 10.8 1 10.9 1 10.9 1 10.8 1 10.8 1 10.6 1 10.5 1 10.4 1 10.2 1 9.9 1 9.7 1 9.4 1 9.1 1 8.8 1 8.4 1 8.1 1 7.6 1 7.2 1 6.8 1 6.4 1 5.8 1 5.4 1 4.8 1 4.3 1 3.8 1 3.3 1 2.9 1 2.8 1 2.3 1 1.3 1 0.4 1-0.2 1-0.9 1-1.9 1-2.7 1-2.9 1-3 1-3.6 1-4.1 1-4.6 1-5.2 1-5.7 1-6.1 1-6.6 1-7.1 1-7.4 1-7.9 1-8.3 1-8.6 1-9 1-9.3 1-9.6 1-9.8 1-10.1 1-10.3 1-10.4 1-10.6 1-10.8 1-10.8 1-10.8 1-10.9 1-10.9 1-10.8 1-10.8 1-10.7 1-10.5 1-10.4 1-10.2 1-10 1-9.8 1-9.5 1-9.2 1-8.8 1-8.5 1-8.2 1-7.7 1-7.4 1-6.9 1-6.4 1-6 1-5.5 1-4.9 1-4.5 1-3.9 1-3.4 1-2.9 1-2.9 1-2.5 1-1.5 1-0.6 1 0 1 0.7 1 1.6 1 2.6 1 2.8 1 3 1 3.5 1 3.9 1 4.5 1 5.1 1 5.5 1 6 1 6.5 1 6.9 1 7.4 1 7.8 1 8.2 1 8.6 1 8.9 1 9.2 1 9.5 1 9.8 1 10 1 10.2 1 10.4 1 10.6 1 10.7 1 10.8 1 10.8 1 10.9 1 10.9 1 10.8 1 10.8 1 10.7 1 10.6 1 10.4 1 10.3 1 10.1 1 9.8 1 9.5 1 9.3 1 8.9 1 8.6 1 8.3 1 7.8 1 7.5 1 7 1 6.5 1 6.1 1 5.6 1 5.1 1 4.6 1 4.1 1 3.5 1 3 1 2.9 1 2.7 1 1.8 1 0.8 1 0.1 1-0.5 1-1.4 1-2.4 1-2.8 1-2.9 1-3.3 1-3.9 1-4.4 1-4.9 1-5.4 1-5.9 1-6.3 1-6.9 1-7.2 1-7.7 1-8.1 1-8.5 1-8.8 1-9.1 1-9.5 1-9.7 1-10 1-10.1 1-10.4 1-10.5 1-10.7 1-10.8 1-10.8 1-10.9 1-10.8 1-10.9 1-10.8 1-10.8 1-10.6 1-10.4 1-10.4 1-10.1 1-9.8 1-9.7 1-9.3 1-9 1-8.7 1-8.4 1-7.9 1-7.6 1-7.1 1-6.6 1-6.3 1-5.7 1-5.2 1-4.7 1-4.2 1-3.7 1-3.1 1-2.9 1-2.8 1-2 1-1 1-0.3 1 0.3 1 1.1 1 2.2 1 2.8 1 2.9 1 3.2 1 3.7 1 4.2 1 4.8 1 5.3 1 5.7 1 6.3 1 6.7 1 7.2 1 7.6 1 8 1 8.3 1 8.8 1 9 1 9.4 1 9.6 1 9.9 1 10.2 1 10.3 1 10.5 1 10.6 1 10.8 1 10.8 1 10.8 1 10.9 1 10.9 1 10.8 1 10.8 1 10.6 1 10.5 1 10.4 1 10.2 1 9.9 1 9.7 1 9.4 1 9.1 1 8.8 1 8.4 1 8.1 1 7.6 1 7.2 1 6.8 1 6.4 1 5.8 1 5.4 1 4.8 1 4.3 1 3.8 1 3.3 1 2.9 1 2.8 1 2.3 1 1.3 1 0.4 1-0.2 1-0.9 1-1.9 1-2.7 1-2.9 1-3 1-3.6 1-4.1 1-4.6 1-5.2 1-5.7 1-6.1 1-6.6 1-7.1 1-7.4 1-7.9 1-8.3 1-8.6 1-9 1-9.3 1-9.6 1-9.8 1-10.1 1-10.3 1-10.4 1-10.6 1-10.8 1-10.8 1-10.8 1-10.9 1-10.9 1-10.8 1-10.8 1-10.7 1-10.5 1-10.4 1-10.2 1-10 1-9.8 1-9.5 1-9.2 1-8.8 1-8.5 1-8.2 1-7.7 1-7.4 1-6.9 1-6.4 1-6 1-5.5 1-4.9 1-4.5 1-3.9 1-3.4 1-2.9 1-2.9 1-2.5 1-1.5 1-0.6 1 0 1 0.7 1 1.6 1 2.6 1 2.8 1 3 1 3.5 1 3.9 1 4.5 1 5.1 1 5.5 1 6 1 6.5 1 6.9 1 7.4 1 7.8 1 8.2 1 8.6 1 8.9 1 9.2 1 9.5 1 9.8 1 10 1 10.2 1 10.4 1 10.6 1 10.7 1 10.8 1 10.8 1 10.9 1 10.9 1 10.8 1 10.8 1 10.7 1 10.6 1 10.4 1 10.3 1 10.1 1 9.8 1 9.5 1 9.3 1 8.9 1 8.6 1 8.3 1 7.8 1 7.5 1 7 1 6.5 1 6.1 1 5.6 1 5.1 1 4.6 1 4.1 1 3.5 1 3 1 2.9 1 2.7 1 1.8 1 0.8 1 0.1 1-0.5 1-1.4 1-2.4 1-2.8 1-2.9 1-3.3 1-3.9 1-4.4 1-4.9 1-5.4 1-5.9 1-6.3 1-6.9 1-7.2 1-7.7 1-8.1 1-8.5 1-8.8 1-9.1 1-9.5 1-9.7 1-10 1-10.1 1-10.4 1-10.5 1-10.7 1-10.8 1-10.8 1-10.9 1-10.8 1-10.9 1-10.8 1-10.8 1-10.6 1-10.4 1-10.4 1-10.1 1-9.8 1-9.7 1-9.3 1-9 1-8.7 1-8.4 1-7.9 1-7.6 1-7.1 1-6.6 1-6.3 1-5.7 1-5.2 1-4.7 1-4.2 1-3.7 1-3.1 1-2.9 1-2.8 1-2 1-1 1-0.3 1 0.3 1 1.1 1 2.2 1 2.8 1 2.9 1 3.2 1 3.7 1 4.2 1 4.8 1 5.3 1 5.7 1 6.3 1 6.7 1 7.2 1 7.6 1 8 1 8.3 1 8.8 1 9 1 9.4 1 9.6 1 9.9 1 10.2 1 10.3 1 10.5 1 10.6 1 10.8 1 10.8 1 10.8 1 10.9 1 10.9 1 10.8 1 10.8 1 10.6 1 10.5 1 10.4 1 10.2 1 9.9 1 9.7 1 9.4 1 9.1 1 8.8 1 8.4 1 8.1 1 7.6 1 7.2 1 6.8 1 6.4 1 5.8 1 5.4 1 4.8 1 4.3 1 3.8 1 3.3 1 2.9 1 2.8 1 2.3 1 1.3 1 0.4 1-0.2 1-0.9 1-1.9 1-2.7 1-2.9 1-3 1-3.6 1-4.1 1-4.6 1-5.2 1-5.7 1-6.1 1-6.6 1-7.1 1-7.4 1-7.9 1-8.3 1-8.6 1-9 1-9.3 1-9.6 1-9.8 1-10.1 1-10.3 1-10.4 1-10.6 1-10.8 1-10.8 1-10.8 1-10.9 1-10.9 1-10.8 1-10.8 1-10.7 1-10.5 1-10.4 1-10.2 1-10 1-9.8 1-9.5 1-9.2 1-8.8 1-8.5 1-8.2 1-7.7 1-7.4 1-6.9 1-6.4 1-6 1-5.5 1-4.9 1-4.5 1-3.9 1-3.4 1-2.9 1-2.9 1-2.5 1-1.5 1-0.6 1 0 1 0.7 1 1.6 1 2.6 1 2.8 1 3 1 3.5 1 3.9 1 4.5 1 5.1 1 5.5 1 6 1 6.5 1 6.9 1 7.4 1 7.8 1 8.2 1 8.6 1 8.9 1 9.2 1 9.5 1 9.8 1 10 1 10.2 1 10.4 1 10.6 1 10.7 1 10.8 1 10.8 1 10.9 1 10.9 1 10.8 1 10.8 1 10.7 1 10.6 1 10.4 1 10.3 1 10.1 1 9.8 1 9.5 1 9.3 1 8.9 1 8.6 1 8.3 1 7.8 1 7.5 1 7 1 6.5 1 6.1 1 5.6 1 5.1 1 4.6 1 4.1 1 3.5 1 3 1 2.9 1 2.7 1 1.8 1 0.8 1 0.1 1-0.5 1-1.4 1-2.4 1-2.8 1-2.9 1-3.3 1-3.9 1-4.4 1-4.9 1-5.4 1-5.9 1-6.3 1-6.9 1-7.2 1-7.7 1-8.1 1-8.5 1-8.8 1-9.1 1-9.5 1-9.7 1-10 1-10.1 1-10.4 1-10.5 1-10.7 1-10.8 1-10.8 1-10.9 1-10.8 1-10.9 1-10.8 1-10.8 1-10.6 1-10.4 1-10.4 1-10.1 1-9.8 1-9.7 1-9.3 1-9 1-8.7 1-8.4 1-7.9 1-7.6 1-7.1 1-6.6 1-6.3 1-5.7 1-5.2 1-4.7 1-4.2 1-3.7 1-3.1 1-2.9 1-2.8 1-2 1-1 1-0.3 1 0.3 1 1.1 1 2.2 1 2.8 1 2.9 1 3.2 1 3.7 1 4.2 1 4.8 1 5.3 1 5.7 1 6.3 1 6.7 1 7.2 1 7.6 1 8 1 8.3 1 8.8 1 9 1 9.4 1 9.6 1 9.9 1 10.2 1 10.3 1 10.5 1 10.6 1 10.8 1 10.8 1 10.8 1 10.9 1 10.9 1 10.8 1 10.8 1 10.6 1 10.5 1 10.4 1 10.2 1 9.9 1 9.7 1 9.4 1 9.1 1 8.8 1 8.4 1 8.1 1 7.6 1 7.2 1 6.8 1 6.4 1 5.8 1 5.4 1 4.8 1 4.3 1 3.8 1 3.3 1 2.9 1 2.8 1 2.3 1 1.3 1 0.4 1-0.2 1-0.9 1-1.9 1-2.7 1-2.9 1-3 1-3.6 1-4.1 1-4.6 1-5.2 1-5.7 1-6.1 1-6.6 1-7.1 1-7.4 1-7.9 1-8.3 1-8.6 1-9 1-9.3 1-9.6 1-9.8 1-10.1 1-10.3 1-10.4 1-10.6 1-10.8 1-10.8 1-10.8 1-10.9 1-10.9 1-10.8 1-10.8 1-10.7 1-10.5 1-10.4 1-10.2 1-10 1-9.8 1-9.5 1-9.2 1-8.8 1-8.5 1-8.2 1-7.7 1-7.4 1-6.9 1-6.4 1-6 1-5.5 1-4.9 1-4.5 1-3.9 1-3.4 1-2.9 1-2.9 1-2.5 1-1.5 1-0.6 1 0 1 0.7 1 1.6 1 2.6 1 2.8 1 3 1 3.5 1 3.9 1 4.5 1 5.1 1 5.5 1 6 1 6.5 1 6.9 1 7.4 1 7.8 1 8.2 1 8.6 1 8.9 1 9.2 1 9.5 1 9.8 1 10 1 10.2 1 10.4 1 10.6 1 10.7 1 10.8 1 10.8 1 10.9 1 10.9 1 10.8 1 10.8 1 10.7 1 10.6 1 10.4 1 10.3 1 10.1 1 9.8 1 9.5 1 9.3 1 8.9 1 8.6 1 8.3 1 7.8 1 7.5 1 7 1 6.5 1 6.1 1 5.6 1 5.1 1 4.6 1 4.1 1 3.5 0-20.7-1-4.4-1-4.6-1-4.8-1-4.9-1-5.1-1-5.2-1-5.4-1-5.7-1-6-1-6.3-1-6.8-1-7.1-1-7.6-1-8-1-8.3-1-8.7-1-9-1-9.3-1-9.5-1-9.6-1-9.8-1-10-1-10-1-10-1-10-1-10-1-10-1-9.9-1-9.7-1-9.7-1-9.4-1-9.3-1-9-1-8.8-1-8.5-1-8.2-1-7.9-1-7.5-1-7.2-1-6.7-1-6.2-1-5.6-1-4.9-1-4.3-1-3.7-1-3-1-2.8-1-2.6-1-2.8-1-3.2-1-3.2-1-2.8-1-1.7-1-0.1-1 1.5-1 2.8-1 3.2-1 3.2-1 2.8-1 2.7-1 2.7-1 3-1 3.6-1 4.2-1 4.9-1 5.6-1 6.1-1 6.6-1 7.1-1 7.5-1 7.9-1 8.2-1 8.4-1 8.8-1 9-1 9.3-1 9.4-1 9.6-1 9.7-1 9.9-1 10-1 10-1 10-1 10-1 10-1 10-1 9.8-1 9.7-1 9.5-1 9.3-1 9-1 8.7-1 8.4-1 8-1 7.6-1 7.2-1 6.8-1 6.4-1 6.1-1 5.7-1 5.4-1 5.2-1 5.1-1 4.9-1 4.8-1 4.7-1 4.4-1 4.1-1 3.7-1 3.1-1 2.2-1 1.4-1 0.3-1-0.7-1-1.8-1-2.6-1-3.3-1-3.9-1-4.2-1-4.6-1-4.7-1-4.9-1-4.9-1-5.2-1-5.3-1-5.5-1-5.8-1-6.2-1-6.5-1-7-1-7.4-1-7.7-1-8.2-1-8.5-1-8.9-1-9.1-1-9.4-1-9.6-1-9.7-1-9.9-1-10-1-10-1-10-1-10-1-10-1-9.9-1-9.9-1-9.7-1-9.5-1-9.4-1-9.1-1-8.9-1-8.7-1-8.3-1-8.1-1-7.7-1-7.4-1-6.9-1-6.4-1-5.9-1-5.3-1-4.7-1-3.9-1-3.4-1-2.8-1-2.7-1-2.7-1-3-1-3.2-1-3.1-1-2.4-1-0.9-1 0.8-1 2.2-1 3.1-1 3.2-1 3-1 2.8-1 2.6-1 2.8-1 3.3-1 3.9-1 4.6-1 5.2-1 5.9-1 6.3-1 6.9-1 7.3-1 7.7-1 8-1 8.4-1 8.6-1 8.9-1 9.1-1 9.4-1 9.5-1 9.7-1 9.8-1 9.9-1 10-1 10-1 10-1 10-1 10-1 9.9-1 9.8-1 9.6-1 9.4-1 9.1-1 8.9-1 8.6-1 8.2-1 7.8-1 7.4-1 7-1 6.6-1 6.2-1 5.8-1 5.6-1 5.3-1 5.1-1 5-1 4.9-1 4.7-1 4.6-1 4.3-1 4-1 3.3-1 2.7-1 1.8-1 0.9-1-0.3-1-1.2-1-2.2-1-2.9-1-3.7-1-4.1-1-4.4-1-4.6-1-4.8-1-4.9-1-5.1-1-5.2-1-5.4-1-5.7-1-6-1-6.3-1-6.8-1-7.1-1-7.6-1-8-1-8.3-1-8.7-1-9-1-9.3-1-9.5-1-9.6-1-9.8-1-10-1-10-1-10-1-10-1-10-1-10-1-9.9-1-9.7-1-9.7-1-9.4-1-9.3-1-9-1-8.8-1-8.5-1-8.2-1-7.9-1-7.5-1-7.2-1-6.7-1-6.2-1-5.6-1-4.9-1-4.3-1-3.7-1-3-1-2.8-1-2.6-1-2.8-1-3.2-1-3.2-1-2.8-1-1.7-1-0.1-1 1.5-1 2.8-1 3.2-1 3.2-1 2.8-1 2.7-1 2.7-1 3-1 3.6-1 4.2-1 4.9-1 5.6-1 6.1-1 6.6-1 7.1-1 7.5-1 7.9-1 8.2-1 8.4-1 8.8-1 9-1 9.3-1 9.4-1 9.6-1 9.7-1 9.9-1 10-1 10-1 10-1 10-1 10-1 10-1 9.8-1 9.7-1 9.5-1 9.3-1 9-1 8.7-1 8.4-1 8-1 7.6-1 7.2-1 6.8-1 6.4-1 6.1-1 5.7-1 5.4-1 5.2-1 5.1-1 4.9-1 4.8-1 4.7-1 4.4-1 4.1-1 3.7-1 3.1-1 2.2-1 1.4-1 0.3-1-0.7-1-1.8-1-2.6-1-3.3-1-3.9-1-4.2-1-4.6-1-4.7-1-4.9-1-4.9-1-5.2-1-5.3-1-5.5-1-5.8-1-6.2-1-6.5-1-7-1-7.4-1-7.7-1-8.2-1-8.5-1-8.9-1-9.1-1-9.4-1-9.6-1-9.7-1-9.9-1-10-1-10-1-10-1-10-1-10-1-9.9-1-9.9-1-9.7-1-9.5-1-9.4-1-9.1-1-8.9-1-8.7-1-8.3-1-8.1-1-7.7-1-7.4-1-6.9-1-6.4-1-5.9-1-5.3-1-4.7-1-3.9-1-3.4-1-2.8-1-2.7-1-2.7-1-3-1-3.2-1-3.1-1-2.4-1-0.9-1 0.8-1 2.2-1 3.1-1 3.2-1 3-1 2.8-1 2.6-1 2.8-1 3.3-1 3.9-1 4.6-1 5.2-1 5.9-1 6.3-1 6.9-1 7.3-1 7.7-1 8-1 8.4-1 8.6-1 8.9-1 9.1-1 9.4-1 9.5-1 9.7-1 9.8-1 9.9-1 10-1 10-1 10-1 10-1 10-1 9.9-1 9.8-1 9.6-1 9.4-1 9.1-1 8.9-1 8.6-1 8.2-1 7.8-1 7.4-1 7-1 6.6-1 6.2-1 5.8-1 5.6-1 5.3-1 5.1-1 5-1 4.9-1 4.7-1 4.6-1 4.3-1 4-1 3.3-1 2.7-1 1.8-1 0.9-1-0.3-1-1.2-1-2.2-1-2.9-1-3.7-1-4.1-1-4.4-1-4.6-1-4.8-1-4.9-1-5.1-1-5.2-1-5.4-1-5.7-1-6-1-6.3-1-6.8-1-7.1-1-7.6-1-8-1-8.3-1-8.7-1-9-1-9.3-1-9.5-1-9.6-1-9.8-1-10-1-10-1-10-1-10-1-10-1-10-1-9.9-1-9.7-1-9.7-1-9.4-1-9.3-1-9-1-8.8-1-8.5-1-8.2-1-7.9-1-7.5-1-7.2-1-6.7-1-6.2-1-5.6-1-4.9-1-4.3-1-3.7-1-3-1-2.8-1-2.6-1-2.8-1-3.2-1-3.2-1-2.8-1-1.7-1-0.1-1 1.5-1 2.8-1 3.2-1 3.2-1 2.8-1 2.7-1 2.7-1 3-1 3.6-1 4.2-1 4.9-1 5.6-1 6.1-1 6.6-1 7.1-1 7.5-1 7.9-1 8.2-1 8.4-1 8.8-1 9-1 9.3-1 9.4-1 9.6-1 9.7-1 9.9-1 10-1 10-1 10-1 10-1 10-1 10-1 9.8-1 9.7-1 9.5-1 9.3-1 9-1 8.7-1 8.4-1 8-1 7.6-1 7.2-1 6.8-1 6.4-1 6.1-1 5.7-1 5.4-1 5.2-1 5.1-1 4.9-1 4.8-1 4.7-1 4.4-1 4.1-1 3.7-1 3.1-1 2.2-1 1.4-1 0.3-1-0.7-1-1.8-1-2.6-1-3.3-1-3.9-1-4.2-1-4.6-1-4.7-1-4.9-1-4.9-1-5.2-1-5.3-1-5.5-1-5.8-1-6.2-1-6.5-1-7-1-7.4-1-7.7-1-8.2-1-8.5-1-8.9-1-9.1-1-9.4-1-9.6-1-9.7-1-9.9-1-10-1-10-1-10-1-10-1-10-1-9.9-1-9.9-1-9.7-1-9.5-1-9.4-1-9.1-1-8.9-1-8.7-1-8.3-1-8.1-1-7.7-1-7.4-1-6.9-1-6.4-1-5.9-1-5.3-1-4.7-1-3.9-1-3.4-1-2.8-1-2.7-1-2.7-1-3-1-3.2-1-3.1-1-2.4-1-0.9-1 0.8-1 2.2-1 3.1-1 3.2-1 3-1 2.8-1 2.6-1 2.8-1 3.3-1 3.9-1 4.6-1 5.2-1 5.9-1 6.3-1 6.9-1 7.3-1 7.7-1 8-1 8.4-1 8.6-1 8.9-1 9.1-1 9.4-1 9.5-1 9.7-1 9.8-1 9.9-1 10-1 10-1 10-1 10-1 10-1 9.9-1 9.8-1 9.6-1 9.4-1 9.1-1 8.9-1 8.6-1 8.2-1 7.8-1 7.4-1 7-1 6.6-1 6.2-1 5.8-1 5.6-1 5.3-1 5.1-1 5-1 4.9-1 4.7-1 4.6-1 4.3-1 4-1 3.3-1 2.7-1 1.8-1 0.9-1-0.3-1-1.2-1-2.2-1-2.9-1-3.7-1-4.1-1-4.4-1-4.6-1-4.8-1-4.9-1-5.1-1-5.2-1-5.4-1-5.7-1-6-1-6.3-1-6.8-1-7.1-1-7.6-1-8-1-8.3-1-8.7-1-9-1-9.3-1-9.5-1-9.6-1-9.8-1-10-1-10-1-10-1-10-1-10-1-10-1-9.9-1-9.7-1-9.7-1-9.4-1-9.3-1-9-1-8.8-1-8.5-1-8.2-1-7.9-1-7.5-1-7.2-1-6.7-1-6.2-1-5.6-1-4.9-1-4.3-1-3.7-1-3-1-2.8-1-2.6-1-2.8-1-3.2-1-3.2-1-2.8-1-1.7-1-0.1-1 1.5-1 2.8-1 3.2-1 3.2-1 2.8-1 2.7-1 2.7-1 3-1 3.6-1 4.2-1 4.9-1 5.6-1 6.1-1 6.6-1 7.1-1 7.5-1 7.9-1 8.2-1 8.4-1 8.8-1 9-1 9.3-1 9.4-1 9.6-1 9.7-1 9.9-1 10-1 10-1 10-1 10-1 10-1 10-1 9.8-1 9.7-1 9.5-1 9.3-1 9-1 8.7-1 8.4-1 8-1 7.6-1 7.2-1 6.8-1 6.4-1 6.1-1 5.7-1 5.4-1 5.2-1 5.1-1 4.9-1 4.8-1 4.7-1 4.4-1 4.1-1 3.7-1 3.1-1 2.2-1 1.4-1 0.3-1-0.7-1-1.8-1-2.6-1-3.3-1-3.9-1-4.2-1-4.6-1-4.7-1-4.9-1-4.9-1-5.2-1-5.3-1-5.5-1-5.8-1-6.2-1-6.5-1-7-1-7.4-1-7.7-1-8.2-1-8.5-1-8.9-1-9.1-1-9.4-1-9.6-1-9.7-1-9.9-1-10-1-10-1-10-1-10-1-10-1-9.9-1-9.9-1-9.7-1-9.5-1-9.4-1-9.1-1-8.9-1-8.7-1-8.3-1-8.1-1-7.7-1-7.4-1-6.9-1-6.4-1-5.9-1-5.3-1-4.7-1-3.9-1-3.4-1-2.8-1-2.7-1-2.7-1-3-1-3.2-1-3.1-1-2.4-1-0.9-1 0.8-1 2.2-1 3.1-1 3.2-1 3-1 2.8-1 2.6-1 2.8-1 3.3-1 3.9-1 4.6-1 5.2-1 5.9-1 6.3-1 6.9-1 7.3-1 7.7-1 8-1 8.4-1 8.6-1 8.9-1 9.1-1 9.4-1 9.5-1 9.7-1 9.8-1 9.9-1 10-1 10-1 10-1 10-1 10-1 9.9-1 9.8-1 9.6-1 9.4-1 9.1-1 8.9-1 8.6-1 8.2-1 7.8-1 7.4-1 7-1 6.6-1 6.2-1 5.8-1 5.6-1 5.3-1 5.1-1 5-1 4.9-1 4.7-1 4.6-1 4.3-1 4-1 3.3-1 2.7-1 1.8-1 0.9-1-0.3-1-1.2-1-2.2-1-2.9-1-3.7-1-4.1-1-4.4-1-4.6-1-4.8-1-4.9-1-5.1-1-5.2z" fill="#007000" stroke="#007000" stroke-width="2.2" stroke-linejoin="round"/>
<path d="M31.3 442l1 6 1 5.6 1 5.1 1 4.5 1 4 1 3.5 1 2.9 1 2.4 1 1.8 1 1.3 1 0.7 1 0.1 1-0.5 1-1 1-1.6 1-2.2 1-2.7 1-3.2 1-3.8 1-4.4 1-4.8 1-5.4 1-5.8 1-6.3 1-6.8 1-7.2 1-7.6 1-8 1-8.4 1-8.7 1-9.1 1-9.3 1-9.6 1-9.9 1-10.1 1-10.3 1-10.4 1-10.5 1-10.7 1-10.7 1-10.8 1-10.8 1-10.7 1-10.7 1-10.7 1-10.5 1-10.4 1-10.2 1-10 1-9.7 1-9.6 1-9.2 1-9 1-8.6 1-8.2 1-7.9 1-7.5 1-7 1-6.6 1-6.2 1-5.7 1-5.1 1-4.7 1-4.2 1-3.6 1-3 1-2.6 1-1.9 1-1.4 1-0.8 1-0.3 1 0.3 1 0.9 1 1.5 1 2 1 2.5 1 3.2 1 3.6 1 4.2 1 4.8 1 5.2 1 5.7 1 6.2 1 6.7 1 7.1 1 7.5 1 7.9 1 8.3 1 8.6 1 9 1 9.3 1 9.5 1 9.8 1 10.1 1 10.2 1 10.4 1 10.5 1 10.6 1 10.7 1 10.8 1 10.8 1 10.7 1 10.8 1 10.6 1 10.6 1 10.4 1 10.2 1 10.1 1 9.8 1 9.6 1 9.3 1 9.1 1 8.7 1 8.3 1 8 1 7.5 1 7.2 1 6.7 1 6.3 1 5.8 1 5.3 1 4.8 1 4.3 1 3.7 1 3.2 1 2.7 1 2.1 1 1.5 1 1 1 0.4 1-0.2 1-0.7 1-1.3 1-1.9 1-2.4 1-3 1-3.6 1-4 1-4.6 1-5.1 1-5.6 1-6.1 1-6.6 1-6.9 1-7.4 1-7.9 1-8.2 1-8.5 1-8.9 1-9.2 1-9.5 1-9.7 1-10 1-10.2 1-10.4 1-10.5 1-10.6 1-10.7 1-10.7 1-10.8 1-10.8 1-10.7 1-10.7 1-10.5 1-10.5 1-10.3 1-10.1 1-9.9 1-9.6 1-9.4 1-9.1 1-8.8 1-8.4 1-8.1 1-7.7 1-7.3 1-6.8 1-6.4 1-5.9 1-5.4 1-4.9 1-4.4 1-3.9 1-3.4 1-2.8 1-2.2 1-1.7 1-1.1 1-0.5 1 0 1 0.6 1 1.2 1 1.7 1 2.3 1 2.8 1 3.4 1 4 1 4.4 1 5 1 5.5 1 5.9 1 6.5 1 6.9 1 7.3 1 7.7 1 8.1 1 8.4 1 8.9 1 9.1 1 9.4 1 9.7 1 9.9 1 10.1 1 10.4 1 10.4 1 10.6 1 10.7 1 10.7 1 10.8 1 10.8 1 10.7 1 10.7 1 10.6 1 10.5 1 10.3 1 10.2 1 9.9 1 9.8 1 9.4 1 9.2 1 8.8 1 8.6 1 8.1 1 7.8 1 7.4 1 6.9 1 6.5 1 6 1 5.6 1 5.1 1 4.5 1 4 1 3.5 1 2.9 1 2.4 1 1.8 1 1.3 1 0.7 1 0.1 1-0.5 1-1 1-1.6 1-2.2 1-2.7 1-3.2 1-3.8 1-4.4 1-4.8 1-5.4 1-5.8 1-6.3 1-6.8 1-7.2 1-7.6 1-8 1-8.4 1-8.7 1-9.1 1-9.3 1-9.6 1-9.9 1-10.1 1-10.3 1-10.4 1-10.5 1-10.7 1-10.7 1-10.8 1-10.8 1-10.7 1-10.7 1-10.7 1-10.5 1-10.4 1-10.2 1-10 1-9.7 1-9.6 1-9.2 1-9 1-8.6 1-8.2 1-7.9 1-7.5 1-7 1-6.6 1-6.2 1-5.7 1-5.1 1-4.7 1-4.2 1-3.6 1-3 1-2.6 1-1.9 1-1.4 1-0.8 1-0.3 1 0.3 1 0.9 1 1.5 1 2 1 2.5 1 3.2 1 3.6 1 4.2 1 4.8 1 5.2 1 5.7 1 6.2 1 6.7 1 7.1 1 7.5 1 7.9 1 8.3 1 8.6 1 9 1 9.3 1 9.5 1 9.8 1 10.1 1 10.2 1 10.4 1 10.5 1 10.6 1 10.7 1 10.8 1 10.8 1 10.7 1 10.8 1 10.6 1 10.6 1 10.4 1 10.2 1 10.1 1 9.8 1 9.6 1 9.3 1 9.1 1 8.7 1 8.3 1 8 1 7.5 1 7.2 1 6.7 1 6.3 1 5.8 1 5.3 1 4.8 1 4.3 1 3.7 1 3.2 1 2.7 1 2.1 1 1.5 1 1 1 0.4 1-0.2 1-0.7 1-1.3 1-1.9 1-2.4 1-3 1-3.6 1-4 1-4.6 1-5.1 1-5.6 1-6.1 1-6.6 1-6.9 1-7.4 1-7.9 1-8.2 1-8.5 1-8.9 1-9.2 1-9.5 1-9.7 1-10 1-10.2 1-10.4 1-10.5 1-10.6 1-10.7 1-10.7 1-10.8 1-10.8 1-10.7 1-10.7 1-10.5 1-10.5 1-10.3 1-10.1 1-9.9 1-9.6 1-9.4 1-9.1 1-8.8 1-8.4 1-8.1 1-7.7 1-7.3 1-6.8 1-6.4 1-5.9 1-5.4 1-4.9 1-4.4 1-3.9 1-3.4 1-2.8 1-2.2 1-1.7 1-1.1 1-0.5 1 0 1 0.6 1 1.2 1 1.7 1 2.3 1 2.8 1 3.4 1 4 1 4.4 1 5 1 5.5 1 5.9 1 6.5 1 6.9 1 7.3 1 7.7 1 8.1 1 8.4 1 8.9 1 9.1 1 9.4 1 9.7 1 9.9 1 10.1 1 10.4 1 10.4 1 10.6 1 10.7 1 10.7 1 10.8 1 10.8 1 10.7 1 10.7 1 10.6 1 10.5 1 10.3 1 10.2 1 9.9 1 9.8 1 9.4 1 9.2 1 8.8 1 8.6 1 8.1 1 7.8 1 7.4 1 6.9 1 6.5 1 6 1 5.6 1 5.1 1 4.5 1 4 1 3.5 1 2.9 1 2.4 1 1.8 1 1.3 1 0.7 1 0.1 1-0.5 1-1 1-1.6 1-2.2 1-2.7 1-3.2 1-3.8 1-4.4 1-4.8 1-5.4 1-5.8 1-6.3 1-6.8 1-7.2 1-7.6 1-8 1-8.4 1-8.7 1-9.1 1-9.3 1-9.6 1-9.9 1-10.1 1-10.3 1-10.4 1-10.5 1-10.7 1-10.7 1-10.8 1-10.8 1-10.7 1-10.7 1-10.7 1-10.5 1-10.4 1-10.2 1-10 1-9.7 1-9.6 1-9.2 1-9 1-8.6 1-8.2 1-7.9 1-7.5 1-7 1-6.6 1-6.2 1-5.7 1-5.1 1-4.7 1-4.2 1-3.6 1-3 1-2.6 1-1.9 1-1.4 1-0.8 1-0.3 1 0.3 1 0.9 1 1.5 1 2 1 2.5 1 3.2 1 3.6 1 4.2 1 4.8 1 5.2 1 5.7 1 6.2 1 6.7 1 7.1 1 7.5 1 7.9 1 8.3 1 8.6 1 9 1 9.3 1 9.5 1 9.8 1 10.1 1 10.2 1 10.4 1 10.5 1 10.6 1 10.7 1 10.8 1 10.8 1 10.7 1 10.8 1 10.6 1 10.6 1 10.4 1 10.2 1 10.1 1 9.8 1 9.6 1 9.3 1 9.1 1 8.7 1 8.3 1 8 1 7.5 1 7.2 1 6.7 1 6.3 1 5.8 1 5.3 1 4.8 1 4.3 1 3.7 1 3.2 1 2.7 1 2.1 1 1.5 1 1 1 0.4 1-0.2 1-0.7 1-1.3 1-1.9 1-2.4 1-3 1-3.6 1-4 1-4.6 1-5.1 1-5.6 1-6.1 1-6.6 1-6.9 1-7.4 1-7.9 1-8.2 1-8.5 1-8.9 1-9.2 1-9.5 1-9.7 1-10 1-10.2 1-10.4 1-10.5 1-10.6 1-10.7 1-10.7 1-10.8 1-10.8 1-10.7 1-10.7 1-10.5 1-10.5 1-10.3 1-10.1 1-9.9 1-9.6 1-9.4 1-9.1 1-8.8 1-8.4 1-8.1 1-7.7 1-7.3 1-6.8 1-6.4 1-5.9 1-5.4 1-4.9 1-4.4 1-3.9 1-3.4 1-2.8 1-2.2 1-1.7 1-1.1 1-0.5 1 0 1 0.6 1 1.2 1 1.7 1 2.3 1 2.8 1 3.4 1 4 1 4.4 1 5 1 5.5 1 5.9 1 6.5 1 6.9 1 7.3 1 7.7 1 8.1 1 8.4 1 8.9 1 9.1 1 9.4 1 9.7 1 9.9 1 10.1 1 10.4 1 10.4 1 10.6 1 10.7 1 10.7 1 10.8 1 10.8 1 10.7 1 10.7 1 10.6 1 10.5 1 10.3 1 10.2 1 9.9 1 9.8 1 9.4 1 9.2 1 8.8 1 8.6 1 8.1 1 7.8 1 7.4 1 6.9 1 6.5 1 6 1 5.6 1 5.1 1 4.5 1 4 1 3.5 1 2.9 1 2.4 1 1.8 1 1.3 1 0.7 1 0.1 1-0.5 1-1 1-1.6 1-2.2 1-2.7 1-3.2 1-3.8 1-4.4 1-4.8 1-5.4 1-5.8 1-6.3 1-6.8 1-7.2 1-7.6 1-8 1-8.4 1-8.7 1-9.1 1-9.3 1-9.6 1-9.9 1-10.1 1-10.3 1-10.4 1-10.5 1-10.7 1-10.7 1-10.8 1-10.8 1-10.7 1-10.7 1-10.7 1-10.5 1-10.4 1-10.2 1-10 1-9.7 1-9.6 1-9.2 1-9 1-8.6 1-8.2 1-7.9 1-7.5 1-7 1-6.6 1-6.2 1-5.7 1-5.1 1-4.7 1-4.2 1-3.6 1-3 1-2.6 1-1.9 1-1.4 1-0.8 1-0.3 1 0.3 1 0.9 1 1.5 1 2 1 2.5 1 3.2 1 3.6 1 4.2 1 4.8 1 5.2 1 5.7 1 6.2 1 6.7 1 7.1 1 7.5 1 7.9 1 8.3 1 8.6 1 9 1 9.3 1 9.5 1 9.8 1 10.1 1 10.2 1 10.4 1 10.5 1 10.6 1 10.7 1 10.8 1 10.8 1 10.7 1 10.8 1 10.6 1 10.6 1 10.4 1 10.2 1 10.1 1 9.8 1 9.6 1 9.3 1 9.1 1 8.7 1 8.3 1 8 1 7.5 1 7.2 1 6.7 1 6.3 1 5.8 1 5.3 1 4.8 1 4.3 1 3.7 1 3.2 1 2.7 1 2.1 1 1.5 1 1 1 0.4 1-0.2 1-0.7 1-1.3 1-1.9 1-2.4 1-3 1-3.6 1-4 1-4.6 1-5.1 1-5.6 1-6.1 1-6.6 1-6.9 1-7.4 1-7.9 1-8.2 1-8.5 1-8.9 1-9.2 1-9.5 1-9.7 1-10 1-10.2 1-10.4 1-10.5 1-10.6 1-10.7 1-10.7 1-10.8 1-10.8 1-10.7 1-10.7 1-10.5 1-10.5 1-10.3 1-10.1 1-9.9 1-9.6 1-9.4 1-9.1 1-8.8 1-8.4 1-8.1 1-7.7 1-7.3 1-6.8 1-6.4 1-5.9 1-5.4 1-4.9 1-4.4 1-3.9 1-3.4 1-2.8 1-2.2 1-1.7 1-1.1 1-0.5 1 0 1 0.6 1 1.2 1 1.7 1 2.3 1 2.8 1 3.4 1 4 1 4.4 1 5 1 5.5 1 5.9 1 6.5 1 6.9 1 7.3 1 7.7 1 8.1 1 8.4 1 8.9 1 9.1 1 9.4 1 9.7 1 9.9 1 10.1 1 10.4 1 10.4 1 10.6 1 10.7 1 10.7 1 10.8 1 10.8 1 10.7 1 10.7 1 10.6 1 10.5 1 10.3 1 10.2 1 9.9 1 9.8 1 9.4 1 9.2 1 8.8 1 8.6 1 8.1 1 7.8 1 7.4 1 6.9 1 6.5 1 6 1 5.6 1 5.1 1 4.5 1 4 1 3.5 0-15.5-1-4.5-1-4.8-1-4.9-1-5-1-5.1-1-5.3-1-5.5-1-5.8-1-6.1-1-6.5-1-6.8-1-7.3-1-7.7-1-8.2-1-8.5-1-8.8-1-9.2-1-9.4-1-9.7-1-9.8-1-10-1-10.1-1-10.2-1-10.2-1-10.2-1-10.2-1-10.2-1-10-1-10-1-9.8-1-9.6-1-9.4-1-9.2-1-9-1-8.6-1-8.4-1-8-1-7.7-1-7.3-1-6.8-1-6.3-1-5.7-1-5.1-1-4.4-1-3.7-1-3.1-1-2.8-1-2.7-1-2.8-1-3.2-1-3.3-1-2.9-1-1.7-1-0.1-1 1.6-1 2.8-1 3.3-1 3.2-1 2.9-1 2.7-1 2.7-1 3.1-1 3.6-1 4.3-1 5-1 5.7-1 6.2-1 6.8-1 7.2-1 7.7-1 8-1 8.3-1 8.7-1 8.9-1 9.2-1 9.4-1 9.6-1 9.8-1 9.9-1 10-1 10.2-1 10.2-1 10.2-1 10.2-1 10.2-1 10.1-1 10-1 9.9-1 9.6-1 9.5-1 9.2-1 8.9-1 8.5-1 8.2-1 7.7-1 7.4-1 6.9-1 6.5-1 6.1-1 5.8-1 5.6-1 5.3-1 5.1-1 5-1 4.9-1 4.8-1 4.5-1 4.3-1 3.7-1 3.1-1 2.3-1 1.4-1 0.3-1-0.8-1-1.7-1-2.6-1-3.4-1-4-1-4.3-1-4.7-1-4.8-1-4.9-1-5.1-1-5.2-1-5.4-1-5.6-1-6-1-6.3-1-6.6-1-7.1-1-7.5-1-7.9-1-8.4-1-8.6-1-9.1-1-9.3-1-9.5-1-9.8-1-9.9-1-10-1-10.2-1-10.2-1-10.2-1-10.2-1-10.2-1-10.1-1-10-1-9.9-1-9.7-1-9.5-1-9.3-1-9.1-1-8.8-1-8.6-1-8.2-1-7.8-1-7.5-1-7.1-1-6.5-1-6-1-5.4-1-4.8-1-4-1-3.4-1-2.9-1-2.7-1-2.8-1-3-1-3.3-1-3.1-1-2.4-1-1-1 0.8-1 2.3-1 3.1-1 3.3-1 3.1-1 2.7-1 2.7-1 2.9-1 3.3-1 4-1 4.7-1 5.3-1 5.9-1 6.6-1 7-1 7.4-1 7.8-1 8.2-1 8.5-1 8.8-1 9-1 9.3-1 9.5-1 9.7-1 9.9-1 10-1 10.1-1 10.2-1 10.2-1 10.2-1 10.2-1 10.1-1 10.1-1 10-1 9.7-1 9.6-1 9.3-1 9.1-1 8.7-1 8.3-1 8-1 7.5-1 7.2-1 6.7-1 6.3-1 6-1 5.6-1 5.5-1 5.2-1 5.1-1 4.9-1 4.8-1 4.7-1 4.4-1 4-1 3.4-1 2.8-1 1.8-1 0.9-1-0.3-1-1.2-1-2.2-1-3.1-1-3.6-1-4.2-1-4.5-1-4.8-1-4.9-1-5-1-5.1-1-5.3-1-5.5-1-5.8-1-6.1-1-6.5-1-6.8-1-7.3-1-7.7-1-8.2-1-8.5-1-8.8-1-9.2-1-9.4-1-9.7-1-9.8-1-10-1-10.1-1-10.2-1-10.2-1-10.2-1-10.2-1-10.2-1-10-1-10-1-9.8-1-9.6-1-9.4-1-9.2-1-9-1-8.6-1-8.4-1-8-1-7.7-1-7.3-1-6.8-1-6.3-1-5.7-1-5.1-1-4.4-1-3.7-1-3.1-1-2.8-1-2.7-1-2.8-1-3.2-1-3.3-1-2.9-1-1.7-1-0.1-1 1.6-1 2.8-1 3.3-1 3.2-1 2.9-1 2.7-1 2.7-1 3.1-1 3.6-1 4.3-1 5-1 5.7-1 6.2-1 6.8-1 7.2-1 7.7-1 8-1 8.3-1 8.7-1 8.9-1 9.2-1 9.4-1 9.6-1 9.8-1 9.9-1 10-1 10.2-1 10.2-1 10.2-1 10.2-1 10.2-1 10.1-1 10-1 9.9-1 9.6-1 9.5-1 9.2-1 8.9-1 8.5-1 8.2-1 7.7-1 7.4-1 6.9-1 6.5-1 6.1-1 5.8-1 5.6-1 5.3-1 5.1-1 5-1 4.9-1 4.8-1 4.5-1 4.3-1 3.7-1 3.1-1 2.3-1 1.4-1 0.3-1-0.8-1-1.7-1-2.6-1-3.4-1-4-1-4.3-1-4.7-1-4.8-1-4.9-1-5.1-1-5.2-1-5.4-1-5.6-1-6-1-6.3-1-6.6-1-7.1-1-7.5-1-7.9-1-8.4-1-8.6-1-9.1-1-9.3-1-9.5-1-9.8-1-9.9-1-10-1-10.2-1-10.2-1-10.2-1-10.2-1-10.2-1-10.1-1-10-1-9.9-1-9.7-1-9.5-1-9.3-1-9.1-1-8.8-1-8.6-1-8.2-1-7.8-1-7.5-1-7.1-1-6.5-1-6-1-5.4-1-4.8-1-4-1-3.4-1-2.9-1-2.7-1-2.8-1-3-1-3.3-1-3.1-1-2.4-1-1-1 0.8-1 2.3-1 3.1-1 3.3-1 3.1-1 2.7-1 2.7-1 2.9-1 3.3-1 4-1 4.7-1 5.3-1 5.9-1 6.6-1 7-1 7.4-1 7.8-1 8.2-1 8.5-1 8.8-1 9-1 9.3-1 9.5-1 9.7-1 9.9-1 10-1 10.1-1 10.2-1 10.2-1 10.2-1 10.2-1 10.1-1 10.1-1 10-1 9.7-1 9.6-1 9.3-1 9.1-1 8.7-1 8.3-1 8-1 7.5-1 7.2-1 6.7-1 6.3-1 6-1 5.6-1 5.5-1 5.2-1 5.1-1 4.9-1 4.8-1 4.7-1 4.4-1 4-1 3.4-1 2.8-1 1.8-1 0.9-1-0.3-1-1.2-1-2.2-1-3.1-1-3.6-1-4.2-1-4.5-1-4.8-1-4.9-1-5-1-5.1-1-5.3-1-5.5-1-5.8-1-6.1-1-6.5-1-6.8-1-7.3-1-7.7-1-8.2-1-8.5-1-8.8-1-9.2-1-9.4-1-9.7-1-9.8-1-10-1-10.1-1-10.2-1-10.2-1-10.2-1-10.2-1-10.2-1-10-1-10-1-9.8-1-9.6-1-9.4-1-9.2-1-9-1-8.6-1-8.4-1-8-1-7.7-1-7.3-1-6.8-1-6.3-1-5.7-1-5.1-1-4.4-1-3.7-1-3.1-1-2.8-1-2.7-1-2.8-1-3.2-1-3.3-1-2.9-1-1.7-1-0.1-1 1.6-1 2.8-1 3.3-1 3.2-1 2.9-1 2.7-1 2.7-1 3.1-1 3.6-1 4.3-1 5-1 5.7-1 6.2-1 6.8-1 7.2-1 7.7-1 8-1 8.3-1 8.7-1 8.9-1 9.2-1 9.4-1 9.6-1 9.8-1 9.9-1 10-1 10.2-1 10.2-1 10.2-1 10.2-1 10.2-1 10.1-1 10-1 9.9-1 9.6-1 9.5-1 9.2-1 8.9-1 8.5-1 8.2-1 7.7-1 7.4-1 6.9-1 6.5-1 6.1-1 5.8-1 5.6-1 5.3-1 5.1-1 5-1 4.9-1 4.8-1 4.5-1 4.3-1 3.7-1 3.1-1 2.3-1 1.4-1 0.3-1-0.8-1-1.7-1-2.6-1-3.4-1-4-1-4.3-1-4.7-1-4.8-1-4.9-1-5.1-1-5.2-1-5.4-1-5.6-1-6-1-6.3-1-6.6-1-7.1-1-7.5-1-7.9-1-8.4-1-8.6-1-9.1-1-9.3-1-9.5-1-9.8-1-9.9-1-10-1-10.2-1-10.2-1-10.2-1-10.2-1-10.2-1-10.1-1-10-1-9.9-1-9.7-1-9.5-1-9.3-1-9.1-1-8.8-1-8.6-1-8.2-1-7.8-1-7.5-1-7.1-1-6.5-1-6-1-5.4-1-4.8-1-4-1-3.4-1-2.9-1-2.7-1-2.8-1-3-1-3.3-1-3.1-1-2.4-1-1-1 0.8-1 2.3-1 3.1-1 3.3-1 3.1-1 2.7-1 2.7-1 2.9-1 3.3-1 4-1 4.7-1 5.3-1 5.9-1 6.6-1 7-1 7.4-1 7.8-1 8.2-1 8.5-1 8.8-1 9-1 9.3-1 9.5-1 9.7-1 9.9-1 10-1 10.1-1 10.2-1 10.2-1 10.2-1 10.2-1 10.1-1 10.1-1 10-1 9.7-1 9.6-1 9.3-1 9.1-1 8.7-1 8.3-1 8-1 7.5-1 7.2-1 6.7-1 6.3-1 6-1 5.6-1 5.5-1 5.2-1 5.1-1 4.9-1 4.8-1 4.7-1 4.4-1 4-1 3.4-1 2.8-1 1.8-1 0.9-1-0.3-1-1.2-1-2.2-1-3.1-1-3.6-1-4.2-1-4.5-1-4.8-1-4.9-1-5-1-5.1-1-5.3-1-5.5-1-5.8-1-6.1-1-6.5-1-6.8-1-7.3-1-7.7-1-8.2-1-8.5-1-8.8-1-9.2-1-9.4-1-9.7-1-9.8-1-10-1-10.1-1-10.2-1-10.2-1-10.2-1-10.2-1-10.2-1-10-1-10-1-9.8-1-9.6-1-9.4-1-9.2-1-9-1-8.6-1-8.4-1-8-1-7.7-1-7.3-1-6.8-1-6.3-1-5.7-1-5.1-1-4.4-1-3.7-1-3.1-1-2.8-1-2.7-1-2.8-1-3.2-1-3.3-1-2.9-1-1.7-1-0.1-1 1.6-1 2.8-1 3.3-1 3.2-1 2.9-1 2.7-1 2.7-1 3.1-1 3.6-1 4.3-1 5-1 5.7-1 6.2-1 6.8-1 7.2-1 7.7-1 8-1 8.3-1 8.7-1 8.9-1 9.2-1 9.4-1 9.6-1 9.8-1 9.9-1 10-1 10.2-1 10.2-1 10.2-1 10.2-1 10.2-1 10.1-1 10-1 9.9-1 9.6-1 9.5-1 9.2-1 8.9-1 8.5-1 8.2-1 7.7-1 7.4-1 6.9-1 6.5-1 6.1-1 5.8-1 5.6-1 5.3-1 5.1-1 5-1 4.9-1 4.8-1 4.5-1 4.3-1 3.7-1 3.1-1 2.3-1 1.4-1 0.3-1-0.8-1-1.7-1-2.6-1-3.4-1-4-1-4.3-1-4.7-1-4.8-1-4.9-1-5.1-1-5.2-1-5.4-1-5.6-1-6-1-6.3-1-6.6-1-7.1-1-7.5-1-7.9-1-8.4-1-8.6-1-9.1-1-9.3-1-9.5-1-9.8-1-9.9-1-10-1-10.2-1-10.2-1-10.2-1-10.2-1-10.2-1-10.1-1-10-1-9.9-1-9.7-1-9.5-1-9.3-1-9.1-1-8.8-1-8.6-1-8.2-1-7.8-1-7.5-1-7.1-1-6.5-1-6-1-5.4-1-4.8-1-4-1-3.4-1-2.9-1-2.7-1-2.8-1-3-1-3.3-1-3.1-1-2.4-1-1-1 0.8-1 2.3-1 3.1-1 3.3-1 3.1-1 2.7-1 2.7-1 2.9-1 3.3-1 4-1 4.7-1 5.3-1 5.9-1 6.6-1 7-1 7.4-1 7.8-1 8.2-1 8.5-1 8.8-1 9-1 9.3-1 9.5-1 9.7-1 9.9-1 10-1 10.1-1 10.2-1 10.2-1 10.2-1 10.2-1 10.1-1 10.1-1 10-1 9.7-1 9.6-1 9.3-1 9.1-1 8.7-1 8.3-1 8-1 7.5-1 7.2-1 6.7-1 6.3-1 6-1 5.6-1 5.5-1 5.2-1 5.1-1 4.9-1 4.8-1 4.7-1 4.4-1 4-1 3.4-1 2.8-1 1.8-1 0.9-1-0.3-1-1.2-1-2.2-1-3.1-1-3.6-1-4.2-1-4.5-1-4.8-1-4.9-1-5-1-5.1-1-5.3z" fill="#00ff00" stroke="#00ff00" stroke-width="0.8" stroke-linejoin="round"/>
<defs><linearGradient id="hs" gradientUnits="userSpaceOnUse" x1="0" y1="108" x2="0" y2="178"><stop offset="0" stop-color="#008a8a"/><stop offset="0.3" stop-color="#00a8a8"/><stop offset="0.45" stop-color="#00c4c4"/><stop offset="0.58" stop-color="#00e8e8"/><stop offset="0.7" stop-color="#00bcbc"/><stop offset="1" stop-color="#008282"/></linearGradient><linearGradient id="ls" gradientUnits="userSpaceOnUse" x1="0" y1="368" x2="0" y2="434"><stop offset="0" stop-color="#008a8a"/><stop offset="0.28" stop-color="#00a8a8"/><stop offset="0.42" stop-color="#00c4c4"/><stop offset="0.52" stop-color="#00e8e8"/><stop offset="0.65" stop-color="#00b8b8"/><stop offset="1" stop-color="#008282"/></linearGradient><linearGradient id="cg" x1="0" y1="0" x2="0" y2="1"><stop offset="0" stop-color="#007272"/><stop offset="0.1" stop-color="#009696"/><stop offset="0.28" stop-color="#00cccc"/><stop offset="0.45" stop-color="#00fafa"/><stop offset="0.62" stop-color="#00f0f0"/><stop offset="0.82" stop-color="#00b0b0"/><stop offset="1" stop-color="#007474"/></linearGradient><pattern id="tx" patternUnits="userSpaceOnUse" width="1.6" height="1.285"><rect x="1.1" y="0" width="0.5" height="1.285" fill="#004848" fill-opacity="0.35"/><rect x="0" y="0.85" width="1.6" height="0.43" fill="#004848" fill-opacity="0.25"/></pattern><linearGradient id="zg" x1="0" y1="0" x2="0" y2="1"><stop offset="0" stop-color="#006c6c"/><stop offset="0.25" stop-color="#00a8a8"/><stop offset="0.5" stop-color="#00ffff"/><stop offset="0.75" stop-color="#00d8d8"/><stop offset="1" stop-color="#006a6a"/></linearGradient></defs>
<line x1="36.4" y1="388" x2="36.4" y2="260" stroke="#008c8c" stroke-width="1.7"/>
<line x1="47" y1="283" x2="47" y2="111" stroke="#008c8c" stroke-width="1.7"/>
<line x1="95.6" y1="160" x2="95.6" y2="265" stroke="#008c8c" stroke-width="1.7"/>
<line x1="106.6" y1="287" x2="106.6" y2="370" stroke="#008c8c" stroke-width="1.7"/>
<line x1="154.9" y1="388" x2="154.9" y2="260" stroke="#008c8c" stroke-width="1.7"/>
<line x1="165.5" y1="283" x2="165.5" y2="111" stroke="#008c8c" stroke-width="1.7"/>
<line x1="214.1" y1="160" x2="214.1" y2="265" stroke="#008c8c" stroke-width="1.7"/>
<line x1="225.1" y1="287" x2="225.1" y2="370" stroke="#008c8c" stroke-width="1.7"/>
<line x1="273.4" y1="388" x2="273.4" y2="260" stroke="#008c8c" stroke-width="1.7"/>
<line x1="284" y1="283" x2="284" y2="111" stroke="#008c8c" stroke-width="1.7"/>
<line x1="332.6" y1="160" x2="332.6" y2="265" stroke="#008c8c" stroke-width="1.7"/>
<line x1="343.6" y1="287" x2="343.6" y2="370" stroke="#008c8c" stroke-width="1.7"/>
<line x1="391.9" y1="388" x2="391.9" y2="260" stroke="#008c8c" stroke-width="1.7"/>
<line x1="402.5" y1="283" x2="402.5" y2="111" stroke="#008c8c" stroke-width="1.7"/>
<line x1="451.1" y1="160" x2="451.1" y2="265" stroke="#008c8c" stroke-width="1.7"/>
<line x1="462.1" y1="287" x2="462.1" y2="370" stroke="#008c8c" stroke-width="1.7"/>
<line x1="510.4" y1="388" x2="510.4" y2="260" stroke="#008c8c" stroke-width="1.7"/>
<line x1="521" y1="283" x2="521" y2="111" stroke="#008c8c" stroke-width="1.7"/>
<line x1="569.6" y1="160" x2="569.6" y2="265" stroke="#008c8c" stroke-width="1.7"/>
<line x1="580.6" y1="287" x2="580.6" y2="370" stroke="#008c8c" stroke-width="1.7"/>
<line x1="628.9" y1="388" x2="628.9" y2="260" stroke="#008c8c" stroke-width="1.7"/>
<line x1="639.5" y1="283" x2="639.5" y2="111" stroke="#008c8c" stroke-width="1.7"/>
<line x1="688.1" y1="160" x2="688.1" y2="265" stroke="#008c8c" stroke-width="1.7"/>
<line x1="699.1" y1="287" x2="699.1" y2="370" stroke="#008c8c" stroke-width="1.7"/>
<line x1="747.4" y1="388" x2="747.4" y2="260" stroke="#008c8c" stroke-width="1.7"/>
<line x1="758" y1="283" x2="758" y2="111" stroke="#008c8c" stroke-width="1.7"/>
<line x1="806.6" y1="160" x2="806.6" y2="265" stroke="#008c8c" stroke-width="1.7"/>
<line x1="817.6" y1="287" x2="817.6" y2="370" stroke="#008c8c" stroke-width="1.7"/>
<line x1="865.9" y1="388" x2="865.9" y2="260" stroke="#008c8c" stroke-width="1.7"/>
<line x1="876.5" y1="283" x2="876.5" y2="111" stroke="#008c8c" stroke-width="1.7"/>
<line x1="925.1" y1="160" x2="925.1" y2="265" stroke="#008c8c" stroke-width="1.7"/>
<line x1="936.1" y1="287" x2="936.1" y2="370" stroke="#008c8c" stroke-width="1.7"/>
<path d="M33.3 386.2l0.5 0 0.5 0 0.5 0 0.6 0 0.5 0.1 0.5 0 0 22.5-0.5 0-0.5 0-0.6 0-0.5 0-0.5 0-0.5 0z" fill="url(#ls)"/>
<path d="M33.3 386.2l0.5 0 0.5 0 0.5 0 0.6 0 0.5 0.1 0.5 0 0 22.5-0.5 0-0.5 0-0.6 0-0.5 0-0.5 0-0.5 0z" fill="url(#tx)"/>
<rect x="34.8" y="386.4" width="1.6" height="22.4" fill="url(#cg)"/>
<rect x="34.8" y="386.4" width="1.6" height="22.4" fill="url(#tx)" opacity="0.45"/>
<path d="M47 110.6l0.5 3.2 0.5 2.5 0.5 2.2 0.5 1.7 0.5 1.5 0.5 1.3 0.5 1.1 0.5 1 0.5 0.9 0.5 0.7 0.5 0.7 0.5 0.7 0.5 0.5 0.5 0.6 0.5 0.5 0.5 0.4 0.5 0.4 0.5 0.4 0.5 0.4 0.5 0.4 0.5 0.3 0.5 0.3 0.5 0.3 0.5 0.3 0.5 0.2 0.5 0.3 0.5 0.2 0.5 0.2 0.5 0.2 0.5 0.2 0.5 0.2 0.5 0.2 0.5 0.1 0.5 0.2 0.5 0.1 0.5 0.2 0.5 0.1 0.5 0.1 0.5 0.1 0.5 0.2 0.5 0.1 0.5 0.1 0.5 0.1 0.5 0 0.5 0.1 0.5 0.1 0.5 0.1 0.5 0.1 0.6 0 0.5 0.1 0.5 0 0.5 0.1 0.5 0.1 0.5 0 0.5 0.1 0.5 0 0.5 0 0.5 0.1 0.5 0 0.5 0.1 0.5 0 0.5 0 0.5 0.1 0.5 0 0.5 0 0.5 0 0.5 0.1 0.5 0 0.5 0 0.5 0 0.5 0.1 0.5 0 0.5 0 0.5 0 0.5 0 0.5 0 0.5 0.1 0.5 0 0.5 0 0.5 0 0.5 0 0.5 0 0.5 0 0.5 0 0.5 0 0.5 0.1 0.5 0 0.5 0 0.5 0 0.5 0 0.5 0 0.5 0 0.5 0 0.5 0 0.5 0 0.5 0 0.5 0 0 24.7-0.5 0.1-0.5 0-0.5 0-0.5 0-0.5 0-0.5 0-0.5 0-0.5 0-0.5 0-0.5 0-0.5 0-0.5 0-0.5 0-0.5 0-0.5 0-0.5 0-0.5 0-0.5 0-0.5 0-0.5 0.1-0.5 0-0.5 0-0.5 0-0.5 0-0.5 0-0.5 0-0.5 0-0.5 0-0.5 0-0.5 0.1-0.5 0-0.5 0-0.5 0-0.5 0-0.5 0-0.5 0.1-0.5 0-0.5 0-0.5 0-0.5 0.1-0.5 0-0.5 0-0.5 0-0.5 0.1-0.5 0-0.5 0-0.5 0.1-0.5 0-0.6 0.1-0.5 0-0.5 0-0.5 0.1-0.5 0-0.5 0.1-0.5 0.1-0.5 0-0.5 0.1-0.5 0.1-0.5 0-0.5 0.1-0.5 0.1-0.5 0.1-0.5 0.1-0.5 0.1-0.5 0.1-0.5 0.1-0.5 0.1-0.5 0.1-0.5 0.1-0.5 0.1-0.5 0.2-0.5 0.1-0.5 0.2-0.5 0.2-0.5 0.1-0.5 0.2-0.5 0.2-0.5 0.2-0.5 0.2-0.5 0.3-0.5 0.2-0.5 0.3-0.5 0.2-0.5 0.3-0.5 0.3-0.5 0.4-0.5 0.3-0.5 0.4-0.5 0.3-0.5 0.4-0.5 0.5-0.5 0.4-0.5 0.5-0.5 0.5-0.5 0.5-0.5 0.6-0.5 0.6z" fill="url(#hs)"/>
<path d="M47 110.6l0.5 3.2 0.5 2.5 0.5 2.2 0.5 1.7 0.5 1.5 0.5 1.3 0.5 1.1 0.5 1 0.5 0.9 0.5 0.7 0.5 0.7 0.5 0.7 0.5 0.5 0.5 0.6 0.5 0.5 0.5 0.4 0.5 0.4 0.5 0.4 0.5 0.4 0.5 0.4 0.5 0.3 0.5 0.3 0.5 0.3 0.5 0.3 0.5 0.2 0.5 0.3 0.5 0.2 0.5 0.2 0.5 0.2 0.5 0.2 0.5 0.2 0.5 0.2 0.5 0.1 0.5 0.2 0.5 0.1 0.5 0.2 0.5 0.1 0.5 0.1 0.5 0.1 0.5 0.2 0.5 0.1 0.5 0.1 0.5 0.1 0.5 0 0.5 0.1 0.5 0.1 0.5 0.1 0.5 0.1 0.6 0 0.5 0.1 0.5 0 0.5 0.1 0.5 0.1 0.5 0 0.5 0.1 0.5 0 0.5 0 0.5 0.1 0.5 0 0.5 0.1 0.5 0 0.5 0 0.5 0.1 0.5 0 0.5 0 0.5 0 0.5 0.1 0.5 0 0.5 0 0.5 0 0.5 0.1 0.5 0 0.5 0 0.5 0 0.5 0 0.5 0 0.5 0.1 0.5 0 0.5 0 0.5 0 0.5 0 0.5 0 0.5 0 0.5 0 0.5 0 0.5 0.1 0.5 0 0.5 0 0.5 0 0.5 0 0.5 0 0.5 0 0.5 0 0.5 0 0.5 0 0.5 0 0.5 0 0 24.7-0.5 0.1-0.5 0-0.5 0-0.5 0-0.5 0-0.5 0-0.5 0-0.5 0-0.5 0-0.5 0-0.5 0-0.5 0-0.5 0-0.5 0-0.5 0-0.5 0-0.5 0-0.5 0-0.5 0-0.5 0.1-0.5 0-0.5 0-0.5 0-0.5 0-0.5 0-0.5 0-0.5 0-0.5 0-0.5 0-0.5 0.1-0.5 0-0.5 0-0.5 0-0.5 0-0.5 0-0.5 0.1-0.5 0-0.5 0-0.5 0-0.5 0.1-0.5 0-0.5 0-0.5 0-0.5 0.1-0.5 0-0.5 0-0.5 0.1-0.5 0-0.6 0.1-0.5 0-0.5 0-0.5 0.1-0.5 0-0.5 0.1-0.5 0.1-0.5 0-0.5 0.1-0.5 0.1-0.5 0-0.5 0.1-0.5 0.1-0.5 0.1-0.5 0.1-0.5 0.1-0.5 0.1-0.5 0.1-0.5 0.1-0.5 0.1-0.5 0.1-0.5 0.1-0.5 0.2-0.5 0.1-0.5 0.2-0.5 0.2-0.5 0.1-0.5 0.2-0.5 0.2-0.5 0.2-0.5 0.2-0.5 0.3-0.5 0.2-0.5 0.3-0.5 0.2-0.5 0.3-0.5 0.3-0.5 0.4-0.5 0.3-0.5 0.4-0.5 0.3-0.5 0.4-0.5 0.5-0.5 0.4-0.5 0.5-0.5 0.5-0.5 0.5-0.5 0.6-0.5 0.6z" fill="url(#tx)"/>
<rect x="48.5" y="137.6" width="47.1" height="24.6" fill="url(#cg)"/>
<rect x="48.5" y="137.6" width="47.1" height="24.6" fill="url(#tx)" opacity="0.45"/>
<path d="M106.6 368.9l0.5 0.9 0.5 0.8 0.5 0.8 0.5 0.7 0.5 0.7 0.5 0.7 0.5 0.6 0.5 0.6 0.5 0.6 0.5 0.5 0.5 0.5 0.5 0.5 0.5 0.5 0.5 0.4 0.5 0.5 0.5 0.4 0.6 0.4 0.5 0.3 0.5 0.4 0.5 0.3 0.5 0.3 0.5 0.3 0.5 0.3 0.5 0.3 0.5 0.2 0.5 0.3 0.5 0.2 0.5 0.2 0.5 0.2 0.5 0.2 0.5 0.2 0.5 0.2 0.5 0.2 0.5 0.1 0.5 0.2 0.5 0.1 0.5 0.2 0.5 0.1 0.5 0.1 0.5 0.2 0.5 0.1 0.5 0.1 0.5 0.1 0.5 0.1 0.5 0.1 0.5 0.1 0.5 0.1 0.6 0 0.5 0.1 0.5 0.1 0.5 0.1 0.5 0 0.5 0.1 0.5 0 0.5 0.1 0.5 0.1 0.5 0 0.5 0.1 0.5 0 0.5 0 0.5 0.1 0.5 0 0.5 0.1 0.5 0 0.5 0 0.5 0.1 0.5 0 0.5 0 0.5 0.1 0.5 0 0.5 0 0.5 0 0.5 0.1 0.5 0 0.5 0 0.5 0 0.5 0 0.5 0.1 0.5 0 0.5 0 0.6 0 0.5 0 0.5 0 0.5 0 0.5 0.1 0.5 0 0.5 0 0.5 0 0.5 0 0.5 0 0.5 0 0.5 0 0.5 0 0.5 0 0.5 0.1 0.5 0 0 22.5-0.5 0-0.5 0-0.5 0-0.5 0-0.5 0-0.5 0-0.5 0-0.5 0-0.5 0-0.5 0-0.5 0-0.5 0-0.5 0-0.5 0-0.5 0-0.6 0-0.5 0.1-0.5 0-0.5 0-0.5 0-0.5 0-0.5 0-0.5 0-0.5 0-0.5 0-0.5 0-0.5 0-0.5 0-0.5 0-0.5 0-0.5 0.1-0.5 0-0.5 0-0.5 0-0.5 0-0.5 0-0.5 0-0.5 0.1-0.5 0-0.5 0-0.5 0-0.5 0.1-0.5 0-0.5 0-0.5 0.1-0.5 0-0.5 0-0.5 0.1-0.6 0-0.5 0.1-0.5 0-0.5 0.1-0.5 0.1-0.5 0-0.5 0.1-0.5 0.1-0.5 0.1-0.5 0.1-0.5 0.1-0.5 0.1-0.5 0.1-0.5 0.1-0.5 0.2-0.5 0.1-0.5 0.2-0.5 0.2-0.5 0.1-0.5 0.2-0.5 0.3-0.5 0.2-0.5 0.3-0.5 0.2-0.5 0.3-0.5 0.4-0.5 0.3-0.5 0.4-0.5 0.4-0.5 0.5-0.5 0.4-0.6 0.6-0.5 0.5-0.5 0.6-0.5 0.7-0.5 0.7-0.5 0.7-0.5 0.9-0.5 0.9-0.5 0.9-0.5 1.1-0.5 1.1-0.5 1.2-0.5 1.3-0.5 1.4-0.5 1.6-0.5 1.6-0.5 1.8z" fill="url(#ls)"/>
<path d="M106.6 368.9l0.5 0.9 0.5 0.8 0.5 0.8 0.5 0.7 0.5 0.7 0.5 0.7 0.5 0.6 0.5 0.6 0.5 0.6 0.5 0.5 0.5 0.5 0.5 0.5 0.5 0.5 0.5 0.4 0.5 0.5 0.5 0.4 0.6 0.4 0.5 0.3 0.5 0.4 0.5 0.3 0.5 0.3 0.5 0.3 0.5 0.3 0.5 0.3 0.5 0.2 0.5 0.3 0.5 0.2 0.5 0.2 0.5 0.2 0.5 0.2 0.5 0.2 0.5 0.2 0.5 0.2 0.5 0.1 0.5 0.2 0.5 0.1 0.5 0.2 0.5 0.1 0.5 0.1 0.5 0.2 0.5 0.1 0.5 0.1 0.5 0.1 0.5 0.1 0.5 0.1 0.5 0.1 0.5 0.1 0.6 0 0.5 0.1 0.5 0.1 0.5 0.1 0.5 0 0.5 0.1 0.5 0 0.5 0.1 0.5 0.1 0.5 0 0.5 0.1 0.5 0 0.5 0 0.5 0.1 0.5 0 0.5 0.1 0.5 0 0.5 0 0.5 0.1 0.5 0 0.5 0 0.5 0.1 0.5 0 0.5 0 0.5 0 0.5 0.1 0.5 0 0.5 0 0.5 0 0.5 0 0.5 0.1 0.5 0 0.5 0 0.6 0 0.5 0 0.5 0 0.5 0 0.5 0.1 0.5 0 0.5 0 0.5 0 0.5 0 0.5 0 0.5 0 0.5 0 0.5 0 0.5 0 0.5 0.1 0.5 0 0 22.5-0.5 0-0.5 0-0.5 0-0.5 0-0.5 0-0.5 0-0.5 0-0.5 0-0.5 0-0.5 0-0.5 0-0.5 0-0.5 0-0.5 0-0.5 0-0.6 0-0.5 0.1-0.5 0-0.5 0-0.5 0-0.5 0-0.5 0-0.5 0-0.5 0-0.5 0-0.5 0-0.5 0-0.5 0-0.5 0-0.5 0-0.5 0.1-0.5 0-0.5 0-0.5 0-0.5 0-0.5 0-0.5 0-0.5 0.1-0.5 0-0.5 0-0.5 0-0.5 0.1-0.5 0-0.5 0-0.5 0.1-0.5 0-0.5 0-0.5 0.1-0.6 0-0.5 0.1-0.5 0-0.5 0.1-0.5 0.1-0.5 0-0.5 0.1-0.5 0.1-0.5 0.1-0.5 0.1-0.5 0.1-0.5 0.1-0.5 0.1-0.5 0.1-0.5 0.2-0.5 0.1-0.5 0.2-0.5 0.2-0.5 0.1-0.5 0.2-0.5 0.3-0.5 0.2-0.5 0.3-0.5 0.2-0.5 0.3-0.5 0.4-0.5 0.3-0.5 0.4-0.5 0.4-0.5 0.5-0.5 0.4-0.6 0.6-0.5 0.5-0.5 0.6-0.5 0.7-0.5 0.7-0.5 0.7-0.5 0.9-0.5 0.9-0.5 0.9-0.5 1.1-0.5 1.1-0.5 1.2-0.5 1.3-0.5 1.4-0.5 1.6-0.5 1.6-0.5 1.8z" fill="url(#tx)"/>
<rect x="108.1" y="386.4" width="46.8" height="22.4" fill="url(#cg)"/>
<rect x="108.1" y="386.4" width="46.8" height="22.4" fill="url(#tx)" opacity="0.45"/>
<path d="M165.5 110.6l0.5 3.2 0.5 2.5 0.5 2.2 0.5 1.7 0.5 1.5 0.5 1.3 0.5 1.1 0.5 1 0.5 0.9 0.5 0.7 0.5 0.7 0.5 0.7 0.5 0.5 0.5 0.6 0.5 0.5 0.5 0.4 0.5 0.4 0.5 0.4 0.5 0.4 0.5 0.4 0.5 0.3 0.5 0.3 0.5 0.3 0.5 0.3 0.5 0.2 0.5 0.3 0.5 0.2 0.5 0.2 0.5 0.2 0.5 0.2 0.5 0.2 0.5 0.2 0.5 0.1 0.5 0.2 0.5 0.1 0.5 0.2 0.5 0.1 0.5 0.1 0.5 0.1 0.5 0.2 0.5 0.1 0.5 0.1 0.5 0.1 0.5 0 0.5 0.1 0.5 0.1 0.5 0.1 0.5 0.1 0.6 0 0.5 0.1 0.5 0 0.5 0.1 0.5 0.1 0.5 0 0.5 0.1 0.5 0 0.5 0 0.5 0.1 0.5 0 0.5 0.1 0.5 0 0.5 0 0.5 0.1 0.5 0 0.5 0 0.5 0 0.5 0.1 0.5 0 0.5 0 0.5 0 0.5 0.1 0.5 0 0.5 0 0.5 0 0.5 0 0.5 0 0.5 0.1 0.5 0 0.5 0 0.5 0 0.5 0 0.5 0 0.5 0 0.5 0 0.5 0 0.5 0.1 0.5 0 0.5 0 0.5 0 0.5 0 0.5 0 0.5 0 0.5 0 0.5 0 0.5 0 0.5 0 0.5 0 0 24.7-0.5 0.1-0.5 0-0.5 0-0.5 0-0.5 0-0.5 0-0.5 0-0.5 0-0.5 0-0.5 0-0.5 0-0.5 0-0.5 0-0.5 0-0.5 0-0.5 0-0.5 0-0.5 0-0.5 0-0.5 0.1-0.5 0-0.5 0-0.5 0-0.5 0-0.5 0-0.5 0-0.5 0-0.5 0-0.5 0-0.5 0.1-0.5 0-0.5 0-0.5 0-0.5 0-0.5 0-0.5 0.1-0.5 0-0.5 0-0.5 0-0.5 0.1-0.5 0-0.5 0-0.5 0-0.5 0.1-0.5 0-0.5 0-0.5 0.1-0.5 0-0.6 0.1-0.5 0-0.5 0-0.5 0.1-0.5 0-0.5 0.1-0.5 0.1-0.5 0-0.5 0.1-0.5 0.1-0.5 0-0.5 0.1-0.5 0.1-0.5 0.1-0.5 0.1-0.5 0.1-0.5 0.1-0.5 0.1-0.5 0.1-0.5 0.1-0.5 0.1-0.5 0.1-0.5 0.2-0.5 0.1-0.5 0.2-0.5 0.2-0.5 0.1-0.5 0.2-0.5 0.2-0.5 0.2-0.5 0.2-0.5 0.3-0.5 0.2-0.5 0.3-0.5 0.2-0.5 0.3-0.5 0.3-0.5 0.4-0.5 0.3-0.5 0.4-0.5 0.3-0.5 0.4-0.5 0.5-0.5 0.4-0.5 0.5-0.5 0.5-0.5 0.5-0.5 0.6-0.5 0.6z" fill="url(#hs)"/>
<path d="M165.5 110.6l0.5 3.2 0.5 2.5 0.5 2.2 0.5 1.7 0.5 1.5 0.5 1.3 0.5 1.1 0.5 1 0.5 0.9 0.5 0.7 0.5 0.7 0.5 0.7 0.5 0.5 0.5 0.6 0.5 0.5 0.5 0.4 0.5 0.4 0.5 0.4 0.5 0.4 0.5 0.4 0.5 0.3 0.5 0.3 0.5 0.3 0.5 0.3 0.5 0.2 0.5 0.3 0.5 0.2 0.5 0.2 0.5 0.2 0.5 0.2 0.5 0.2 0.5 0.2 0.5 0.1 0.5 0.2 0.5 0.1 0.5 0.2 0.5 0.1 0.5 0.1 0.5 0.1 0.5 0.2 0.5 0.1 0.5 0.1 0.5 0.1 0.5 0 0.5 0.1 0.5 0.1 0.5 0.1 0.5 0.1 0.6 0 0.5 0.1 0.5 0 0.5 0.1 0.5 0.1 0.5 0 0.5 0.1 0.5 0 0.5 0 0.5 0.1 0.5 0 0.5 0.1 0.5 0 0.5 0 0.5 0.1 0.5 0 0.5 0 0.5 0 0.5 0.1 0.5 0 0.5 0 0.5 0 0.5 0.1 0.5 0 0.5 0 0.5 0 0.5 0 0.5 0 0.5 0.1 0.5 0 0.5 0 0.5 0 0.5 0 0.5 0 0.5 0 0.5 0 0.5 0 0.5 0.1 0.5 0 0.5 0 0.5 0 0.5 0 0.5 0 0.5 0 0.5 0 0.5 0 0.5 0 0.5 0 0.5 0 0 24.7-0.5 0.1-0.5 0-0.5 0-0.5 0-0.5 0-0.5 0-0.5 0-0.5 0-0.5 0-0.5 0-0.5 0-0.5 0-0.5 0-0.5 0-0.5 0-0.5 0-0.5 0-0.5 0-0.5 0-0.5 0.1-0.5 0-0.5 0-0.5 0-0.5 0-0.5 0-0.5 0-0.5 0-0.5 0-0.5 0-0.5 0.1-0.5 0-0.5 0-0.5 0-0.5 0-0.5 0-0.5 0.1-0.5 0-0.5 0-0.5 0-0.5 0.1-0.5 0-0.5 0-0.5 0-0.5 0.1-0.5 0-0.5 0-0.5 0.1-0.5 0-0.6 0.1-0.5 0-0.5 0-0.5 0.1-0.5 0-0.5 0.1-0.5 0.1-0.5 0-0.5 0.1-0.5 0.1-0.5 0-0.5 0.1-0.5 0.1-0.5 0.1-0.5 0.1-0.5 0.1-0.5 0.1-0.5 0.1-0.5 0.1-0.5 0.1-0.5 0.1-0.5 0.1-0.5 0.2-0.5 0.1-0.5 0.2-0.5 0.2-0.5 0.1-0.5 0.2-0.5 0.2-0.5 0.2-0.5 0.2-0.5 0.3-0.5 0.2-0.5 0.3-0.5 0.2-0.5 0.3-0.5 0.3-0.5 0.4-0.5 0.3-0.5 0.4-0.5 0.3-0.5 0.4-0.5 0.5-0.5 0.4-0.5 0.5-0.5 0.5-0.5 0.5-0.5 0.6-0.5 0.6z" fill="url(#tx)"/>
<rect x="167" y="137.6" width="47.1" height="24.6" fill="url(#cg)"/>
<rect x="167" y="137.6" width="47.1" height="24.6" fill="url(#tx)" opacity="0.45"/>
<path d="M225.1 368.9l0.5 0.9 0.5 0.8 0.5 0.8 0.5 0.7 0.5 0.7 0.5 0.7 0.5 0.6 0.5 0.6 0.5 0.6 0.5 0.5 0.5 0.5 0.5 0.5 0.5 0.5 0.5 0.4 0.5 0.5 0.6 0.4 0.5 0.4 0.5 0.3 0.5 0.4 0.5 0.3 0.5 0.3 0.5 0.3 0.5 0.3 0.5 0.3 0.5 0.2 0.5 0.3 0.5 0.2 0.5 0.2 0.5 0.2 0.5 0.2 0.5 0.2 0.5 0.2 0.5 0.2 0.5 0.1 0.5 0.2 0.5 0.1 0.5 0.2 0.5 0.1 0.5 0.1 0.5 0.2 0.5 0.1 0.5 0.1 0.5 0.1 0.5 0.1 0.5 0.1 0.5 0.1 0.5 0.1 0.5 0 0.6 0.1 0.5 0.1 0.5 0.1 0.5 0 0.5 0.1 0.5 0 0.5 0.1 0.5 0.1 0.5 0 0.5 0.1 0.5 0 0.5 0 0.5 0.1 0.5 0 0.5 0.1 0.5 0 0.5 0 0.5 0.1 0.5 0 0.5 0 0.5 0.1 0.5 0 0.5 0 0.5 0 0.5 0.1 0.5 0 0.5 0 0.5 0 0.5 0 0.5 0.1 0.5 0 0.5 0 0.6 0 0.5 0 0.5 0 0.5 0 0.5 0.1 0.5 0 0.5 0 0.5 0 0.5 0 0.5 0 0.5 0 0.5 0 0.5 0 0.5 0 0.5 0.1 0.5 0 0 22.5-0.5 0-0.5 0-0.5 0-0.5 0-0.5 0-0.5 0-0.5 0-0.5 0-0.5 0-0.5 0-0.5 0-0.5 0-0.5 0-0.5 0-0.5 0-0.6 0-0.5 0.1-0.5 0-0.5 0-0.5 0-0.5 0-0.5 0-0.5 0-0.5 0-0.5 0-0.5 0-0.5 0-0.5 0-0.5 0-0.5 0-0.5 0.1-0.5 0-0.5 0-0.5 0-0.5 0-0.5 0-0.5 0-0.5 0.1-0.5 0-0.5 0-0.5 0-0.5 0.1-0.5 0-0.5 0-0.5 0.1-0.5 0-0.5 0-0.6 0.1-0.5 0-0.5 0.1-0.5 0-0.5 0.1-0.5 0.1-0.5 0-0.5 0.1-0.5 0.1-0.5 0.1-0.5 0.1-0.5 0.1-0.5 0.1-0.5 0.1-0.5 0.1-0.5 0.2-0.5 0.1-0.5 0.2-0.5 0.2-0.5 0.1-0.5 0.2-0.5 0.3-0.5 0.2-0.5 0.3-0.5 0.2-0.5 0.3-0.5 0.4-0.5 0.3-0.5 0.4-0.5 0.4-0.5 0.5-0.5 0.4-0.5 0.6-0.6 0.5-0.5 0.6-0.5 0.7-0.5 0.7-0.5 0.7-0.5 0.9-0.5 0.9-0.5 0.9-0.5 1.1-0.5 1.1-0.5 1.2-0.5 1.3-0.5 1.4-0.5 1.6-0.5 1.6-0.5 1.8z" fill="url(#ls)"/>
<path d="M225.1 368.9l0.5 0.9 0.5 0.8 0.5 0.8 0.5 0.7 0.5 0.7 0.5 0.7 0.5 0.6 0.5 0.6 0.5 0.6 0.5 0.5 0.5 0.5 0.5 0.5 0.5 0.5 0.5 0.4 0.5 0.5 0.6 0.4 0.5 0.4 0.5 0.3 0.5 0.4 0.5 0.3 0.5 0.3 0.5 0.3 0.5 0.3 0.5 0.3 0.5 0.2 0.5 0.3 0.5 0.2 0.5 0.2 0.5 0.2 0.5 0.2 0.5 0.2 0.5 0.2 0.5 0.2 0.5 0.1 0.5 0.2 0.5 0.1 0.5 0.2 0.5 0.1 0.5 0.1 0.5 0.2 0.5 0.1 0.5 0.1 0.5 0.1 0.5 0.1 0.5 0.1 0.5 0.1 0.5 0.1 0.5 0 0.6 0.1 0.5 0.1 0.5 0.1 0.5 0 0.5 0.1 0.5 0 0.5 0.1 0.5 0.1 0.5 0 0.5 0.1 0.5 0 0.5 0 0.5 0.1 0.5 0 0.5 0.1 0.5 0 0.5 0 0.5 0.1 0.5 0 0.5 0 0.5 0.1 0.5 0 0.5 0 0.5 0 0.5 0.1 0.5 0 0.5 0 0.5 0 0.5 0 0.5 0.1 0.5 0 0.5 0 0.6 0 0.5 0 0.5 0 0.5 0 0.5 0.1 0.5 0 0.5 0 0.5 0 0.5 0 0.5 0 0.5 0 0.5 0 0.5 0 0.5 0 0.5 0.1 0.5 0 0 22.5-0.5 0-0.5 0-0.5 0-0.5 0-0.5 0-0.5 0-0.5 0-0.5 0-0.5 0-0.5 0-0.5 0-0.5 0-0.5 0-0.5 0-0.5 0-0.6 0-0.5 0.1-0.5 0-0.5 0-0.5 0-0.5 0-0.5 0-0.5 0-0.5 0-0.5 0-0.5 0-0.5 0-0.5 0-0.5 0-0.5 0-0.5 0.1-0.5 0-0.5 0-0.5 0-0.5 0-0.5 0-0.5 0-0.5 0.1-0.5 0-0.5 0-0.5 0-0.5 0.1-0.5 0-0.5 0-0.5 0.1-0.5 0-0.5 0-0.6 0.1-0.5 0-0.5 0.1-0.5 0-0.5 0.1-0.5 0.1-0.5 0-0.5 0.1-0.5 0.1-0.5 0.1-0.5 0.1-0.5 0.1-0.5 0.1-0.5 0.1-0.5 0.1-0.5 0.2-0.5 0.1-0.5 0.2-0.5 0.2-0.5 0.1-0.5 0.2-0.5 0.3-0.5 0.2-0.5 0.3-0.5 0.2-0.5 0.3-0.5 0.4-0.5 0.3-0.5 0.4-0.5 0.4-0.5 0.5-0.5 0.4-0.5 0.6-0.6 0.5-0.5 0.6-0.5 0.7-0.5 0.7-0.5 0.7-0.5 0.9-0.5 0.9-0.5 0.9-0.5 1.1-0.5 1.1-0.5 1.2-0.5 1.3-0.5 1.4-0.5 1.6-0.5 1.6-0.5 1.8z" fill="url(#tx)"/>
<rect x="226.6" y="386.4" width="46.8" height="22.4" fill="url(#cg)"/>
<rect x="226.6" y="386.4" width="46.8" height="22.4" fill="url(#tx)" opacity="0.45"/>
<path d="M284 110.6l0.5 3.2 0.5 2.5 0.5 2.2 0.5 1.7 0.5 1.5 0.5 1.3 0.5 1.1 0.5 1 0.5 0.9 0.5 0.7 0.5 0.7 0.5 0.7 0.5 0.5 0.5 0.6 0.5 0.5 0.5 0.4 0.5 0.4 0.5 0.4 0.5 0.4 0.5 0.4 0.5 0.3 0.5 0.3 0.5 0.3 0.5 0.3 0.5 0.2 0.5 0.3 0.5 0.2 0.5 0.2 0.5 0.2 0.5 0.2 0.5 0.2 0.5 0.2 0.5 0.1 0.5 0.2 0.5 0.1 0.5 0.2 0.5 0.1 0.5 0.1 0.5 0.1 0.5 0.2 0.5 0.1 0.5 0.1 0.5 0.1 0.5 0 0.5 0.1 0.5 0.1 0.5 0.1 0.5 0.1 0.6 0 0.5 0.1 0.5 0 0.5 0.1 0.5 0.1 0.5 0 0.5 0.1 0.5 0 0.5 0 0.5 0.1 0.5 0 0.5 0.1 0.5 0 0.5 0 0.5 0.1 0.5 0 0.5 0 0.5 0 0.5 0.1 0.5 0 0.5 0 0.5 0 0.5 0.1 0.5 0 0.5 0 0.5 0 0.5 0 0.5 0 0.5 0.1 0.5 0 0.5 0 0.5 0 0.5 0 0.5 0 0.5 0 0.5 0 0.5 0 0.5 0.1 0.5 0 0.5 0 0.5 0 0.5 0 0.5 0 0.5 0 0.5 0 0.5 0 0.5 0 0.5 0 0.5 0 0 24.7-0.5 0.1-0.5 0-0.5 0-0.5 0-0.5 0-0.5 0-0.5 0-0.5 0-0.5 0-0.5 0-0.5 0-0.5 0-0.5 0-0.5 0-0.5 0-0.5 0-0.5 0-0.5 0-0.5 0-0.5 0.1-0.5 0-0.5 0-0.5 0-0.5 0-0.5 0-0.5 0-0.5 0-0.5 0-0.5 0-0.5 0.1-0.5 0-0.5 0-0.5 0-0.5 0-0.5 0-0.5 0.1-0.5 0-0.5 0-0.5 0-0.5 0.1-0.5 0-0.5 0-0.5 0-0.5 0.1-0.5 0-0.5 0-0.5 0.1-0.5 0-0.6 0.1-0.5 0-0.5 0-0.5 0.1-0.5 0-0.5 0.1-0.5 0.1-0.5 0-0.5 0.1-0.5 0.1-0.5 0-0.5 0.1-0.5 0.1-0.5 0.1-0.5 0.1-0.5 0.1-0.5 0.1-0.5 0.1-0.5 0.1-0.5 0.1-0.5 0.1-0.5 0.1-0.5 0.2-0.5 0.1-0.5 0.2-0.5 0.2-0.5 0.1-0.5 0.2-0.5 0.2-0.5 0.2-0.5 0.2-0.5 0.3-0.5 0.2-0.5 0.3-0.5 0.2-0.5 0.3-0.5 0.3-0.5 0.4-0.5 0.3-0.5 0.4-0.5 0.3-0.5 0.4-0.5 0.5-0.5 0.4-0.5 0.5-0.5 0.5-0.5 0.5-0.5 0.6-0.5 0.6z" fill="url(#hs)"/>
<path d="M284 110.6l0.5 3.2 0.5 2.5 0.5 2.2 0.5 1.7 0.5 1.5 0.5 1.3 0.5 1.1 0.5 1 0.5 0.9 0.5 0.7 0.5 0.7 0.5 0.7 0.5 0.5 0.5 0.6 0.5 0.5 0.5 0.4 0.5 0.4 0.5 0.4 0.5 0.4 0.5 0.4 0.5 0.3 0.5 0.3 0.5 0.3 0.5 0.3 0.5 0.2 0.5 0.3 0.5 0.2 0.5 0.2 0.5 0.2 0.5 0.2 0.5 0.2 0.5 0.2 0.5 0.1 0.5 0.2 0.5 0.1 0.5 0.2 0.5 0.1 0.5 0.1 0.5 0.1 0.5 0.2 0.5 0.1 0.5 0.1 0.5 0.1 0.5 0 0.5 0.1 0.5 0.1 0.5 0.1 0.5 0.1 0.6 0 0.5 0.1 0.5 0 0.5 0.1 0.5 0.1 0.5 0 0.5 0.1 0.5 0 0.5 0 0.5 0.1 0.5 0 0.5 0.1 0.5 0 0.5 0 0.5 0.1 0.5 0 0.5 0 0.5 0 0.5 0.1 0.5 0 0.5 0 0.5 0 0.5 0.1 0.5 0 0.5 0 0.5 0 0.5 0 0.5 0 0.5 0.1 0.5 0 0.5 0 0.5 0 0.5 0 0.5 0 0.5 0 0.5 0 0.5 0 0.5 0.1 0.5 0 0.5 0 0.5 0 0.5 0 0.5 0 0.5 0 0.5 0 0.5 0 0.5 0 0.5 0 0.5 0 0 24.7-0.5 0.1-0.5 0-0.5 0-0.5 0-0.5 0-0.5 0-0.5 0-0.5 0-0.5 0-0.5 0-0.5 0-0.5 0-0.5 0-0.5 0-0.5 0-0.5 0-0.5 0-0.5 0-0.5 0-0.5 0.1-0.5 0-0.5 0-0.5 0-0.5 0-0.5 0-0.5 0-0.5 0-0.5 0-0.5 0-0.5 0.1-0.5 0-0.5 0-0.5 0-0.5 0-0.5 0-0.5 0.1-0.5 0-0.5 0-0.5 0-0.5 0.1-0.5 0-0.5 0-0.5 0-0.5 0.1-0.5 0-0.5 0-0.5 0.1-0.5 0-0.6 0.1-0.5 0-0.5 0-0.5 0.1-0.5 0-0.5 0.1-0.5 0.1-0.5 0-0.5 0.1-0.5 0.1-0.5 0-0.5 0.1-0.5 0.1-0.5 0.1-0.5 0.1-0.5 0.1-0.5 0.1-0.5 0.1-0.5 0.1-0.5 0.1-0.5 0.1-0.5 0.1-0.5 0.2-0.5 0.1-0.5 0.2-0.5 0.2-0.5 0.1-0.5 0.2-0.5 0.2-0.5 0.2-0.5 0.2-0.5 0.3-0.5 0.2-0.5 0.3-0.5 0.2-0.5 0.3-0.5 0.3-0.5 0.4-0.5 0.3-0.5 0.4-0.5 0.3-0.5 0.4-0.5 0.5-0.5 0.4-0.5 0.5-0.5 0.5-0.5 0.5-0.5 0.6-0.5 0.6z" fill="url(#tx)"/>
<rect x="285.5" y="137.6" width="47.1" height="24.6" fill="url(#cg)"/>
<rect x="285.5" y="137.6" width="47.1" height="24.6" fill="url(#tx)" opacity="0.45"/>
<path d="M343.6 368.9l0.5 0.9 0.5 0.8 0.5 0.8 0.5 0.7 0.5 0.7 0.5 0.7 0.5 0.6 0.5 0.6 0.5 0.6 0.5 0.5 0.5 0.5 0.5 0.5 0.5 0.5 0.5 0.4 0.5 0.5 0.6 0.4 0.5 0.4 0.5 0.3 0.5 0.4 0.5 0.3 0.5 0.3 0.5 0.3 0.5 0.3 0.5 0.3 0.5 0.2 0.5 0.3 0.5 0.2 0.5 0.2 0.5 0.2 0.5 0.2 0.5 0.2 0.5 0.2 0.5 0.2 0.5 0.1 0.5 0.2 0.5 0.1 0.5 0.2 0.5 0.1 0.5 0.1 0.5 0.2 0.5 0.1 0.5 0.1 0.5 0.1 0.5 0.1 0.5 0.1 0.5 0.1 0.5 0.1 0.6 0 0.5 0.1 0.5 0.1 0.5 0.1 0.5 0 0.5 0.1 0.5 0 0.5 0.1 0.5 0.1 0.5 0 0.5 0.1 0.5 0 0.5 0 0.5 0.1 0.5 0 0.5 0.1 0.5 0 0.5 0 0.5 0.1 0.5 0 0.5 0 0.5 0.1 0.5 0 0.5 0 0.5 0 0.5 0.1 0.5 0 0.5 0 0.5 0 0.5 0 0.5 0.1 0.5 0 0.5 0 0.6 0 0.5 0 0.5 0 0.5 0 0.5 0.1 0.5 0 0.5 0 0.5 0 0.5 0 0.5 0 0.5 0 0.5 0 0.5 0 0.5 0 0.5 0.1 0.5 0 0 22.5-0.5 0-0.5 0-0.5 0-0.5 0-0.5 0-0.5 0-0.5 0-0.5 0-0.5 0-0.5 0-0.5 0-0.5 0-0.5 0-0.5 0-0.5 0-0.6 0-0.5 0.1-0.5 0-0.5 0-0.5 0-0.5 0-0.5 0-0.5 0-0.5 0-0.5 0-0.5 0-0.5 0-0.5 0-0.5 0-0.5 0-0.5 0.1-0.5 0-0.5 0-0.5 0-0.5 0-0.5 0-0.5 0-0.5 0.1-0.5 0-0.5 0-0.5 0-0.5 0.1-0.5 0-0.5 0-0.5 0.1-0.5 0-0.5 0-0.5 0.1-0.6 0-0.5 0.1-0.5 0-0.5 0.1-0.5 0.1-0.5 0-0.5 0.1-0.5 0.1-0.5 0.1-0.5 0.1-0.5 0.1-0.5 0.1-0.5 0.1-0.5 0.1-0.5 0.2-0.5 0.1-0.5 0.2-0.5 0.2-0.5 0.1-0.5 0.2-0.5 0.3-0.5 0.2-0.5 0.3-0.5 0.2-0.5 0.3-0.5 0.4-0.5 0.3-0.5 0.4-0.5 0.4-0.5 0.5-0.5 0.4-0.5 0.6-0.6 0.5-0.5 0.6-0.5 0.7-0.5 0.7-0.5 0.7-0.5 0.9-0.5 0.9-0.5 0.9-0.5 1.1-0.5 1.1-0.5 1.2-0.5 1.3-0.5 1.4-0.5 1.6-0.5 1.6-0.5 1.8z" fill="url(#ls)"/>
<path d="M343.6 368.9l0.5 0.9 0.5 0.8 0.5 0.8 0.5 0.7 0.5 0.7 0.5 0.7 0.5 0.6 0.5 0.6 0.5 0.6 0.5 0.5 0.5 0.5 0.5 0.5 0.5 0.5 0.5 0.4 0.5 0.5 0.6 0.4 0.5 0.4 0.5 0.3 0.5 0.4 0.5 0.3 0.5 0.3 0.5 0.3 0.5 0.3 0.5 0.3 0.5 0.2 0.5 0.3 0.5 0.2 0.5 0.2 0.5 0.2 0.5 0.2 0.5 0.2 0.5 0.2 0.5 0.2 0.5 0.1 0.5 0.2 0.5 0.1 0.5 0.2 0.5 0.1 0.5 0.1 0.5 0.2 0.5 0.1 0.5 0.1 0.5 0.1 0.5 0.1 0.5 0.1 0.5 0.1 0.5 0.1 0.6 0 0.5 0.1 0.5 0.1 0.5 0.1 0.5 0 0.5 0.1 0.5 0 0.5 0.1 0.5 0.1 0.5 0 0.5 0.1 0.5 0 0.5 0 0.5 0.1 0.5 0 0.5 0.1 0.5 0 0.5 0 0.5 0.1 0.5 0 0.5 0 0.5 0.1 0.5 0 0.5 0 0.5 0 0.5 0.1 0.5 0 0.5 0 0.5 0 0.5 0 0.5 0.1 0.5 0 0.5 0 0.6 0 0.5 0 0.5 0 0.5 0 0.5 0.1 0.5 0 0.5 0 0.5 0 0.5 0 0.5 0 0.5 0 0.5 0 0.5 0 0.5 0 0.5 0.1 0.5 0 0 22.5-0.5 0-0.5 0-0.5 0-0.5 0-0.5 0-0.5 0-0.5 0-0.5 0-0.5 0-0.5 0-0.5 0-0.5 0-0.5 0-0.5 0-0.5 0-0.6 0-0.5 0.1-0.5 0-0.5 0-0.5 0-0.5 0-0.5 0-0.5 0-0.5 0-0.5 0-0.5 0-0.5 0-0.5 0-0.5 0-0.5 0-0.5 0.1-0.5 0-0.5 0-0.5 0-0.5 0-0.5 0-0.5 0-0.5 0.1-0.5 0-0.5 0-0.5 0-0.5 0.1-0.5 0-0.5 0-0.5 0.1-0.5 0-0.5 0-0.5 0.1-0.6 0-0.5 0.1-0.5 0-0.5 0.1-0.5 0.1-0.5 0-0.5 0.1-0.5 0.1-0.5 0.1-0.5 0.1-0.5 0.1-0.5 0.1-0.5 0.1-0.5 0.1-0.5 0.2-0.5 0.1-0.5 0.2-0.5 0.2-0.5 0.1-0.5 0.2-0.5 0.3-0.5 0.2-0.5 0.3-0.5 0.2-0.5 0.3-0.5 0.4-0.5 0.3-0.5 0.4-0.5 0.4-0.5 0.5-0.5 0.4-0.5 0.6-0.6 0.5-0.5 0.6-0.5 0.7-0.5 0.7-0.5 0.7-0.5 0.9-0.5 0.9-0.5 0.9-0.5 1.1-0.5 1.1-0.5 1.2-0.5 1.3-0.5 1.4-0.5 1.6-0.5 1.6-0.5 1.8z" fill="url(#tx)"/>
<rect x="345.1" y="386.4" width="46.8" height="22.4" fill="url(#cg)"/>
<rect x="345.1" y="386.4" width="46.8" height="22.4" fill="url(#tx)" opacity="0.45"/>
<path d="M402.5 110.6l0.5 3.2 0.5 2.5 0.5 2.2 0.5 1.7 0.5 1.5 0.5 1.3 0.5 1.1 0.5 1 0.5 0.9 0.5 0.7 0.5 0.7 0.5 0.7 0.5 0.5 0.5 0.6 0.5 0.5 0.5 0.4 0.5 0.4 0.5 0.4 0.5 0.4 0.5 0.4 0.5 0.3 0.5 0.3 0.5 0.3 0.5 0.3 0.5 0.2 0.5 0.3 0.5 0.2 0.5 0.2 0.5 0.2 0.5 0.2 0.5 0.2 0.5 0.2 0.5 0.1 0.5 0.2 0.5 0.1 0.5 0.2 0.5 0.1 0.5 0.1 0.5 0.1 0.5 0.2 0.5 0.1 0.5 0.1 0.5 0.1 0.5 0 0.5 0.1 0.5 0.1 0.5 0.1 0.5 0.1 0.6 0 0.5 0.1 0.5 0 0.5 0.1 0.5 0.1 0.5 0 0.5 0.1 0.5 0 0.5 0 0.5 0.1 0.5 0 0.5 0.1 0.5 0 0.5 0 0.5 0.1 0.5 0 0.5 0 0.5 0 0.5 0.1 0.5 0 0.5 0 0.5 0 0.5 0.1 0.5 0 0.5 0 0.5 0 0.5 0 0.5 0 0.5 0.1 0.5 0 0.5 0 0.5 0 0.5 0 0.5 0 0.5 0 0.5 0 0.5 0 0.5 0.1 0.5 0 0.5 0 0.5 0 0.5 0 0.5 0 0.5 0 0.5 0 0.5 0 0.5 0 0.5 0 0.5 0 0 24.7-0.5 0.1-0.5 0-0.5 0-0.5 0-0.5 0-0.5 0-0.5 0-0.5 0-0.5 0-0.5 0-0.5 0-0.5 0-0.5 0-0.5 0-0.5 0-0.5 0-0.5 0-0.5 0-0.5 0-0.5 0.1-0.5 0-0.5 0-0.5 0-0.5 0-0.5 0-0.5 0-0.5 0-0.5 0-0.5 0-0.5 0.1-0.5 0-0.5 0-0.5 0-0.5 0-0.5 0-0.5 0.1-0.5 0-0.5 0-0.5 0-0.5 0.1-0.5 0-0.5 0-0.5 0-0.5 0.1-0.5 0-0.5 0-0.5 0.1-0.5 0-0.6 0.1-0.5 0-0.5 0-0.5 0.1-0.5 0-0.5 0.1-0.5 0.1-0.5 0-0.5 0.1-0.5 0.1-0.5 0-0.5 0.1-0.5 0.1-0.5 0.1-0.5 0.1-0.5 0.1-0.5 0.1-0.5 0.1-0.5 0.1-0.5 0.1-0.5 0.1-0.5 0.1-0.5 0.2-0.5 0.1-0.5 0.2-0.5 0.2-0.5 0.1-0.5 0.2-0.5 0.2-0.5 0.2-0.5 0.2-0.5 0.3-0.5 0.2-0.5 0.3-0.5 0.2-0.5 0.3-0.5 0.3-0.5 0.4-0.5 0.3-0.5 0.4-0.5 0.3-0.5 0.4-0.5 0.5-0.5 0.4-0.5 0.5-0.5 0.5-0.5 0.5-0.5 0.6-0.5 0.6z" fill="url(#hs)"/>
<path d="M402.5 110.6l0.5 3.2 0.5 2.5 0.5 2.2 0.5 1.7 0.5 1.5 0.5 1.3 0.5 1.1 0.5 1 0.5 0.9 0.5 0.7 0.5 0.7 0.5 0.7 0.5 0.5 0.5 0.6 0.5 0.5 0.5 0.4 0.5 0.4 0.5 0.4 0.5 0.4 0.5 0.4 0.5 0.3 0.5 0.3 0.5 0.3 0.5 0.3 0.5 0.2 0.5 0.3 0.5 0.2 0.5 0.2 0.5 0.2 0.5 0.2 0.5 0.2 0.5 0.2 0.5 0.1 0.5 0.2 0.5 0.1 0.5 0.2 0.5 0.1 0.5 0.1 0.5 0.1 0.5 0.2 0.5 0.1 0.5 0.1 0.5 0.1 0.5 0 0.5 0.1 0.5 0.1 0.5 0.1 0.5 0.1 0.6 0 0.5 0.1 0.5 0 0.5 0.1 0.5 0.1 0.5 0 0.5 0.1 0.5 0 0.5 0 0.5 0.1 0.5 0 0.5 0.1 0.5 0 0.5 0 0.5 0.1 0.5 0 0.5 0 0.5 0 0.5 0.1 0.5 0 0.5 0 0.5 0 0.5 0.1 0.5 0 0.5 0 0.5 0 0.5 0 0.5 0 0.5 0.1 0.5 0 0.5 0 0.5 0 0.5 0 0.5 0 0.5 0 0.5 0 0.5 0 0.5 0.1 0.5 0 0.5 0 0.5 0 0.5 0 0.5 0 0.5 0 0.5 0 0.5 0 0.5 0 0.5 0 0.5 0 0 24.7-0.5 0.1-0.5 0-0.5 0-0.5 0-0.5 0-0.5 0-0.5 0-0.5 0-0.5 0-0.5 0-0.5 0-0.5 0-0.5 0-0.5 0-0.5 0-0.5 0-0.5 0-0.5 0-0.5 0-0.5 0.1-0.5 0-0.5 0-0.5 0-0.5 0-0.5 0-0.5 0-0.5 0-0.5 0-0.5 0-0.5 0.1-0.5 0-0.5 0-0.5 0-0.5 0-0.5 0-0.5 0.1-0.5 0-0.5 0-0.5 0-0.5 0.1-0.5 0-0.5 0-0.5 0-0.5 0.1-0.5 0-0.5 0-0.5 0.1-0.5 0-0.6 0.1-0.5 0-0.5 0-0.5 0.1-0.5 0-0.5 0.1-0.5 0.1-0.5 0-0.5 0.1-0.5 0.1-0.5 0-0.5 0.1-0.5 0.1-0.5 0.1-0.5 0.1-0.5 0.1-0.5 0.1-0.5 0.1-0.5 0.1-0.5 0.1-0.5 0.1-0.5 0.1-0.5 0.2-0.5 0.1-0.5 0.2-0.5 0.2-0.5 0.1-0.5 0.2-0.5 0.2-0.5 0.2-0.5 0.2-0.5 0.3-0.5 0.2-0.5 0.3-0.5 0.2-0.5 0.3-0.5 0.3-0.5 0.4-0.5 0.3-0.5 0.4-0.5 0.3-0.5 0.4-0.5 0.5-0.5 0.4-0.5 0.5-0.5 0.5-0.5 0.5-0.5 0.6-0.5 0.6z" fill="url(#tx)"/>
<rect x="404" y="137.6" width="47.1" height="24.6" fill="url(#cg)"/>
<rect x="404" y="137.6" width="47.1" height="24.6" fill="url(#tx)" opacity="0.45"/>
<path d="M462.1 368.9l0.5 0.9 0.5 0.8 0.5 0.8 0.5 0.7 0.5 0.7 0.5 0.7 0.5 0.6 0.5 0.6 0.5 0.6 0.5 0.5 0.5 0.5 0.5 0.5 0.5 0.5 0.5 0.4 0.5 0.5 0.6 0.4 0.5 0.4 0.5 0.3 0.5 0.4 0.5 0.3 0.5 0.3 0.5 0.3 0.5 0.3 0.5 0.3 0.5 0.2 0.5 0.3 0.5 0.2 0.5 0.2 0.5 0.2 0.5 0.2 0.5 0.2 0.5 0.2 0.5 0.2 0.5 0.1 0.5 0.2 0.5 0.1 0.5 0.2 0.5 0.1 0.5 0.1 0.5 0.2 0.5 0.1 0.5 0.1 0.5 0.1 0.5 0.1 0.5 0.1 0.5 0.1 0.5 0.1 0.5 0 0.6 0.1 0.5 0.1 0.5 0.1 0.5 0 0.5 0.1 0.5 0 0.5 0.1 0.5 0.1 0.5 0 0.5 0.1 0.5 0 0.5 0 0.5 0.1 0.5 0 0.5 0.1 0.5 0 0.5 0 0.5 0.1 0.5 0 0.5 0 0.5 0.1 0.5 0 0.5 0 0.5 0 0.5 0.1 0.5 0 0.5 0 0.5 0 0.5 0 0.5 0.1 0.5 0 0.6 0 0.5 0 0.5 0 0.5 0 0.5 0 0.5 0.1 0.5 0 0.5 0 0.5 0 0.5 0 0.5 0 0.5 0 0.5 0 0.5 0 0.5 0 0.5 0.1 0.5 0 0 22.5-0.5 0-0.5 0-0.5 0-0.5 0-0.5 0-0.5 0-0.5 0-0.5 0-0.5 0-0.5 0-0.5 0-0.5 0-0.5 0-0.5 0-0.5 0-0.5 0-0.6 0.1-0.5 0-0.5 0-0.5 0-0.5 0-0.5 0-0.5 0-0.5 0-0.5 0-0.5 0-0.5 0-0.5 0-0.5 0-0.5 0-0.5 0.1-0.5 0-0.5 0-0.5 0-0.5 0-0.5 0-0.5 0-0.5 0.1-0.5 0-0.5 0-0.5 0-0.5 0.1-0.5 0-0.5 0-0.5 0.1-0.5 0-0.5 0-0.6 0.1-0.5 0-0.5 0.1-0.5 0-0.5 0.1-0.5 0.1-0.5 0-0.5 0.1-0.5 0.1-0.5 0.1-0.5 0.1-0.5 0.1-0.5 0.1-0.5 0.1-0.5 0.1-0.5 0.2-0.5 0.1-0.5 0.2-0.5 0.2-0.5 0.1-0.5 0.2-0.5 0.3-0.5 0.2-0.5 0.3-0.5 0.2-0.5 0.3-0.5 0.4-0.5 0.3-0.5 0.4-0.5 0.4-0.5 0.5-0.5 0.4-0.5 0.6-0.6 0.5-0.5 0.6-0.5 0.7-0.5 0.7-0.5 0.7-0.5 0.9-0.5 0.9-0.5 0.9-0.5 1.1-0.5 1.1-0.5 1.2-0.5 1.3-0.5 1.4-0.5 1.6-0.5 1.6-0.5 1.8z" fill="url(#ls)"/>
<path d="M462.1 368.9l0.5 0.9 0.5 0.8 0.5 0.8 0.5 0.7 0.5 0.7 0.5 0.7 0.5 0.6 0.5 0.6 0.5 0.6 0.5 0.5 0.5 0.5 0.5 0.5 0.5 0.5 0.5 0.4 0.5 0.5 0.6 0.4 0.5 0.4 0.5 0.3 0.5 0.4 0.5 0.3 0.5 0.3 0.5 0.3 0.5 0.3 0.5 0.3 0.5 0.2 0.5 0.3 0.5 0.2 0.5 0.2 0.5 0.2 0.5 0.2 0.5 0.2 0.5 0.2 0.5 0.2 0.5 0.1 0.5 0.2 0.5 0.1 0.5 0.2 0.5 0.1 0.5 0.1 0.5 0.2 0.5 0.1 0.5 0.1 0.5 0.1 0.5 0.1 0.5 0.1 0.5 0.1 0.5 0.1 0.5 0 0.6 0.1 0.5 0.1 0.5 0.1 0.5 0 0.5 0.1 0.5 0 0.5 0.1 0.5 0.1 0.5 0 0.5 0.1 0.5 0 0.5 0 0.5 0.1 0.5 0 0.5 0.1 0.5 0 0.5 0 0.5 0.1 0.5 0 0.5 0 0.5 0.1 0.5 0 0.5 0 0.5 0 0.5 0.1 0.5 0 0.5 0 0.5 0 0.5 0 0.5 0.1 0.5 0 0.6 0 0.5 0 0.5 0 0.5 0 0.5 0 0.5 0.1 0.5 0 0.5 0 0.5 0 0.5 0 0.5 0 0.5 0 0.5 0 0.5 0 0.5 0 0.5 0.1 0.5 0 0 22.5-0.5 0-0.5 0-0.5 0-0.5 0-0.5 0-0.5 0-0.5 0-0.5 0-0.5 0-0.5 0-0.5 0-0.5 0-0.5 0-0.5 0-0.5 0-0.5 0-0.6 0.1-0.5 0-0.5 0-0.5 0-0.5 0-0.5 0-0.5 0-0.5 0-0.5 0-0.5 0-0.5 0-0.5 0-0.5 0-0.5 0-0.5 0.1-0.5 0-0.5 0-0.5 0-0.5 0-0.5 0-0.5 0-0.5 0.1-0.5 0-0.5 0-0.5 0-0.5 0.1-0.5 0-0.5 0-0.5 0.1-0.5 0-0.5 0-0.6 0.1-0.5 0-0.5 0.1-0.5 0-0.5 0.1-0.5 0.1-0.5 0-0.5 0.1-0.5 0.1-0.5 0.1-0.5 0.1-0.5 0.1-0.5 0.1-0.5 0.1-0.5 0.1-0.5 0.2-0.5 0.1-0.5 0.2-0.5 0.2-0.5 0.1-0.5 0.2-0.5 0.3-0.5 0.2-0.5 0.3-0.5 0.2-0.5 0.3-0.5 0.4-0.5 0.3-0.5 0.4-0.5 0.4-0.5 0.5-0.5 0.4-0.5 0.6-0.6 0.5-0.5 0.6-0.5 0.7-0.5 0.7-0.5 0.7-0.5 0.9-0.5 0.9-0.5 0.9-0.5 1.1-0.5 1.1-0.5 1.2-0.5 1.3-0.5 1.4-0.5 1.6-0.5 1.6-0.5 1.8z" fill="url(#tx)"/>
<rect x="463.6" y="386.4" width="46.8" height="22.4" fill="url(#cg)"/>
<rect x="463.6" y="386.4" width="46.8" height="22.4" fill="url(#tx)" opacity="0.45"/>
<path d="M521 110.6l0.5 3.2 0.5 2.5 0.5 2.2 0.5 1.7 0.5 1.5 0.5 1.3 0.5 1.1 0.5 1 0.5 0.9 0.5 0.7 0.5 0.7 0.5 0.7 0.5 0.5 0.5 0.6 0.5 0.5 0.5 0.4 0.5 0.4 0.5 0.4 0.5 0.4 0.5 0.4 0.5 0.3 0.5 0.3 0.5 0.3 0.5 0.3 0.5 0.2 0.5 0.3 0.5 0.2 0.5 0.2 0.5 0.2 0.5 0.2 0.5 0.2 0.5 0.2 0.5 0.1 0.5 0.2 0.5 0.1 0.5 0.2 0.5 0.1 0.5 0.1 0.5 0.1 0.5 0.2 0.5 0.1 0.5 0.1 0.5 0.1 0.5 0 0.5 0.1 0.5 0.1 0.5 0.1 0.5 0.1 0.6 0 0.5 0.1 0.5 0 0.5 0.1 0.5 0.1 0.5 0 0.5 0.1 0.5 0 0.5 0 0.5 0.1 0.5 0 0.5 0.1 0.5 0 0.5 0 0.5 0.1 0.5 0 0.5 0 0.5 0 0.5 0.1 0.5 0 0.5 0 0.5 0 0.5 0.1 0.5 0 0.5 0 0.5 0 0.5 0 0.5 0 0.5 0.1 0.5 0 0.5 0 0.5 0 0.5 0 0.5 0 0.5 0 0.5 0 0.5 0 0.5 0.1 0.5 0 0.5 0 0.5 0 0.5 0 0.5 0 0.5 0 0.5 0 0.5 0 0.5 0 0.5 0 0.5 0 0 24.7-0.5 0.1-0.5 0-0.5 0-0.5 0-0.5 0-0.5 0-0.5 0-0.5 0-0.5 0-0.5 0-0.5 0-0.5 0-0.5 0-0.5 0-0.5 0-0.5 0-0.5 0-0.5 0-0.5 0-0.5 0.1-0.5 0-0.5 0-0.5 0-0.5 0-0.5 0-0.5 0-0.5 0-0.5 0-0.5 0-0.5 0.1-0.5 0-0.5 0-0.5 0-0.5 0-0.5 0-0.5 0.1-0.5 0-0.5 0-0.5 0-0.5 0.1-0.5 0-0.5 0-0.5 0-0.5 0.1-0.5 0-0.5 0-0.5 0.1-0.5 0-0.6 0.1-0.5 0-0.5 0-0.5 0.1-0.5 0-0.5 0.1-0.5 0.1-0.5 0-0.5 0.1-0.5 0.1-0.5 0-0.5 0.1-0.5 0.1-0.5 0.1-0.5 0.1-0.5 0.1-0.5 0.1-0.5 0.1-0.5 0.1-0.5 0.1-0.5 0.1-0.5 0.1-0.5 0.2-0.5 0.1-0.5 0.2-0.5 0.2-0.5 0.1-0.5 0.2-0.5 0.2-0.5 0.2-0.5 0.2-0.5 0.3-0.5 0.2-0.5 0.3-0.5 0.2-0.5 0.3-0.5 0.3-0.5 0.4-0.5 0.3-0.5 0.4-0.5 0.3-0.5 0.4-0.5 0.5-0.5 0.4-0.5 0.5-0.5 0.5-0.5 0.5-0.5 0.6-0.5 0.6z" fill="url(#hs)"/>
<path d="M521 110.6l0.5 3.2 0.5 2.5 0.5 2.2 0.5 1.7 0.5 1.5 0.5 1.3 0.5 1.1 0.5 1 0.5 0.9 0.5 0.7 0.5 0.7 0.5 0.7 0.5 0.5 0.5 0.6 0.5 0.5 0.5 0.4 0.5 0.4 0.5 0.4 0.5 0.4 0.5 0.4 0.5 0.3 0.5 0.3 0.5 0.3 0.5 0.3 0.5 0.2 0.5 0.3 0.5 0.2 0.5 0.2 0.5 0.2 0.5 0.2 0.5 0.2 0.5 0.2 0.5 0.1 0.5 0.2 0.5 0.1 0.5 0.2 0.5 0.1 0.5 0.1 0.5 0.1 0.5 0.2 0.5 0.1 0.5 0.1 0.5 0.1 0.5 0 0.5 0.1 0.5 0.1 0.5 0.1 0.5 0.1 0.6 0 0.5 0.1 0.5 0 0.5 0.1 0.5 0.1 0.5 0 0.5 0.1 0.5 0 0.5 0 0.5 0.1 0.5 0 0.5 0.1 0.5 0 0.5 0 0.5 0.1 0.5 0 0.5 0 0.5 0 0.5 0.1 0.5 0 0.5 0 0.5 0 0.5 0.1 0.5 0 0.5 0 0.5 0 0.5 0 0.5 0 0.5 0.1 0.5 0 0.5 0 0.5 0 0.5 0 0.5 0 0.5 0 0.5 0 0.5 0 0.5 0.1 0.5 0 0.5 0 0.5 0 0.5 0 0.5 0 0.5 0 0.5 0 0.5 0 0.5 0 0.5 0 0.5 0 0 24.7-0.5 0.1-0.5 0-0.5 0-0.5 0-0.5 0-0.5 0-0.5 0-0.5 0-0.5 0-0.5 0-0.5 0-0.5 0-0.5 0-0.5 0-0.5 0-0.5 0-0.5 0-0.5 0-0.5 0-0.5 0.1-0.5 0-0.5 0-0.5 0-0.5 0-0.5 0-0.5 0-0.5 0-0.5 0-0.5 0-0.5 0.1-0.5 0-0.5 0-0.5 0-0.5 0-0.5 0-0.5 0.1-0.5 0-0.5 0-0.5 0-0.5 0.1-0.5 0-0.5 0-0.5 0-0.5 0.1-0.5 0-0.5 0-0.5 0.1-0.5 0-0.6 0.1-0.5 0-0.5 0-0.5 0.1-0.5 0-0.5 0.1-0.5 0.1-0.5 0-0.5 0.1-0.5 0.1-0.5 0-0.5 0.1-0.5 0.1-0.5 0.1-0.5 0.1-0.5 0.1-0.5 0.1-0.5 0.1-0.5 0.1-0.5 0.1-0.5 0.1-0.5 0.1-0.5 0.2-0.5 0.1-0.5 0.2-0.5 0.2-0.5 0.1-0.5 0.2-0.5 0.2-0.5 0.2-0.5 0.2-0.5 0.3-0.5 0.2-0.5 0.3-0.5 0.2-0.5 0.3-0.5 0.3-0.5 0.4-0.5 0.3-0.5 0.4-0.5 0.3-0.5 0.4-0.5 0.5-0.5 0.4-0.5 0.5-0.5 0.5-0.5 0.5-0.5 0.6-0.5 0.6z" fill="url(#tx)"/>
<rect x="522.5" y="137.6" width="47.1" height="24.6" fill="url(#cg)"/>
<rect x="522.5" y="137.6" width="47.1" height="24.6" fill="url(#tx)" opacity="0.45"/>
<path d="M580.6 368.9l0.5 0.9 0.5 0.8 0.5 0.8 0.5 0.7 0.5 0.7 0.5 0.7 0.5 0.6 0.5 0.6 0.5 0.6 0.5 0.5 0.5 0.5 0.5 0.5 0.5 0.5 0.5 0.4 0.5 0.5 0.5 0.4 0.6 0.4 0.5 0.3 0.5 0.4 0.5 0.3 0.5 0.3 0.5 0.3 0.5 0.3 0.5 0.3 0.5 0.2 0.5 0.3 0.5 0.2 0.5 0.2 0.5 0.2 0.5 0.2 0.5 0.2 0.5 0.2 0.5 0.2 0.5 0.1 0.5 0.2 0.5 0.1 0.5 0.2 0.5 0.1 0.5 0.1 0.5 0.2 0.5 0.1 0.5 0.1 0.5 0.1 0.5 0.1 0.5 0.1 0.5 0.1 0.5 0.1 0.6 0 0.5 0.1 0.5 0.1 0.5 0.1 0.5 0 0.5 0.1 0.5 0 0.5 0.1 0.5 0.1 0.5 0 0.5 0.1 0.5 0 0.5 0 0.5 0.1 0.5 0 0.5 0.1 0.5 0 0.5 0 0.5 0.1 0.5 0 0.5 0 0.5 0.1 0.5 0 0.5 0 0.5 0 0.5 0.1 0.5 0 0.5 0 0.5 0 0.5 0 0.5 0.1 0.5 0 0.5 0 0.6 0 0.5 0 0.5 0 0.5 0 0.5 0.1 0.5 0 0.5 0 0.5 0 0.5 0 0.5 0 0.5 0 0.5 0 0.5 0 0.5 0 0.5 0.1 0.5 0 0 22.5-0.5 0-0.5 0-0.5 0-0.5 0-0.5 0-0.5 0-0.5 0-0.5 0-0.5 0-0.5 0-0.5 0-0.5 0-0.5 0-0.5 0-0.5 0-0.6 0-0.5 0.1-0.5 0-0.5 0-0.5 0-0.5 0-0.5 0-0.5 0-0.5 0-0.5 0-0.5 0-0.5 0-0.5 0-0.5 0-0.5 0-0.5 0.1-0.5 0-0.5 0-0.5 0-0.5 0-0.5 0-0.5 0-0.5 0.1-0.5 0-0.5 0-0.5 0-0.5 0.1-0.5 0-0.5 0-0.5 0.1-0.5 0-0.5 0-0.5 0.1-0.6 0-0.5 0.1-0.5 0-0.5 0.1-0.5 0.1-0.5 0-0.5 0.1-0.5 0.1-0.5 0.1-0.5 0.1-0.5 0.1-0.5 0.1-0.5 0.1-0.5 0.1-0.5 0.2-0.5 0.1-0.5 0.2-0.5 0.2-0.5 0.1-0.5 0.2-0.5 0.3-0.5 0.2-0.5 0.3-0.5 0.2-0.5 0.3-0.5 0.4-0.5 0.3-0.5 0.4-0.5 0.4-0.5 0.5-0.5 0.4-0.6 0.6-0.5 0.5-0.5 0.6-0.5 0.7-0.5 0.7-0.5 0.7-0.5 0.9-0.5 0.9-0.5 0.9-0.5 1.1-0.5 1.1-0.5 1.2-0.5 1.3-0.5 1.4-0.5 1.6-0.5 1.6-0.5 1.8z" fill="url(#ls)"/>
<path d="M580.6 368.9l0.5 0.9 0.5 0.8 0.5 0.8 0.5 0.7 0.5 0.7 0.5 0.7 0.5 0.6 0.5 0.6 0.5 0.6 0.5 0.5 0.5 0.5 0.5 0.5 0.5 0.5 0.5 0.4 0.5 0.5 0.5 0.4 0.6 0.4 0.5 0.3 0.5 0.4 0.5 0.3 0.5 0.3 0.5 0.3 0.5 0.3 0.5 0.3 0.5 0.2 0.5 0.3 0.5 0.2 0.5 0.2 0.5 0.2 0.5 0.2 0.5 0.2 0.5 0.2 0.5 0.2 0.5 0.1 0.5 0.2 0.5 0.1 0.5 0.2 0.5 0.1 0.5 0.1 0.5 0.2 0.5 0.1 0.5 0.1 0.5 0.1 0.5 0.1 0.5 0.1 0.5 0.1 0.5 0.1 0.6 0 0.5 0.1 0.5 0.1 0.5 0.1 0.5 0 0.5 0.1 0.5 0 0.5 0.1 0.5 0.1 0.5 0 0.5 0.1 0.5 0 0.5 0 0.5 0.1 0.5 0 0.5 0.1 0.5 0 0.5 0 0.5 0.1 0.5 0 0.5 0 0.5 0.1 0.5 0 0.5 0 0.5 0 0.5 0.1 0.5 0 0.5 0 0.5 0 0.5 0 0.5 0.1 0.5 0 0.5 0 0.6 0 0.5 0 0.5 0 0.5 0 0.5 0.1 0.5 0 0.5 0 0.5 0 0.5 0 0.5 0 0.5 0 0.5 0 0.5 0 0.5 0 0.5 0.1 0.5 0 0 22.5-0.5 0-0.5 0-0.5 0-0.5 0-0.5 0-0.5 0-0.5 0-0.5 0-0.5 0-0.5 0-0.5 0-0.5 0-0.5 0-0.5 0-0.5 0-0.6 0-0.5 0.1-0.5 0-0.5 0-0.5 0-0.5 0-0.5 0-0.5 0-0.5 0-0.5 0-0.5 0-0.5 0-0.5 0-0.5 0-0.5 0-0.5 0.1-0.5 0-0.5 0-0.5 0-0.5 0-0.5 0-0.5 0-0.5 0.1-0.5 0-0.5 0-0.5 0-0.5 0.1-0.5 0-0.5 0-0.5 0.1-0.5 0-0.5 0-0.5 0.1-0.6 0-0.5 0.1-0.5 0-0.5 0.1-0.5 0.1-0.5 0-0.5 0.1-0.5 0.1-0.5 0.1-0.5 0.1-0.5 0.1-0.5 0.1-0.5 0.1-0.5 0.1-0.5 0.2-0.5 0.1-0.5 0.2-0.5 0.2-0.5 0.1-0.5 0.2-0.5 0.3-0.5 0.2-0.5 0.3-0.5 0.2-0.5 0.3-0.5 0.4-0.5 0.3-0.5 0.4-0.5 0.4-0.5 0.5-0.5 0.4-0.6 0.6-0.5 0.5-0.5 0.6-0.5 0.7-0.5 0.7-0.5 0.7-0.5 0.9-0.5 0.9-0.5 0.9-0.5 1.1-0.5 1.1-0.5 1.2-0.5 1.3-0.5 1.4-0.5 1.6-0.5 1.6-0.5 1.8z" fill="url(#tx)"/>
<rect x="582.1" y="386.4" width="46.8" height="22.4" fill="url(#cg)"/>
<rect x="582.1" y="386.4" width="46.8" height="22.4" fill="url(#tx)" opacity="0.45"/>
<path d="M639.5 110.6l0.5 3.2 0.5 2.5 0.5 2.2 0.5 1.7 0.5 1.5 0.5 1.3 0.5 1.1 0.5 1 0.5 0.9 0.5 0.7 0.5 0.7 0.5 0.7 0.5 0.5 0.5 0.6 0.5 0.5 0.5 0.4 0.5 0.4 0.5 0.4 0.5 0.4 0.5 0.4 0.5 0.3 0.5 0.3 0.5 0.3 0.5 0.3 0.5 0.2 0.5 0.3 0.5 0.2 0.5 0.2 0.5 0.2 0.5 0.2 0.5 0.2 0.5 0.2 0.5 0.1 0.5 0.2 0.5 0.1 0.5 0.2 0.5 0.1 0.5 0.1 0.5 0.1 0.5 0.2 0.5 0.1 0.5 0.1 0.5 0.1 0.5 0 0.5 0.1 0.5 0.1 0.5 0.1 0.5 0.1 0.6 0 0.5 0.1 0.5 0 0.5 0.1 0.5 0.1 0.5 0 0.5 0.1 0.5 0 0.5 0 0.5 0.1 0.5 0 0.5 0.1 0.5 0 0.5 0 0.5 0.1 0.5 0 0.5 0 0.5 0 0.5 0.1 0.5 0 0.5 0 0.5 0 0.5 0.1 0.5 0 0.5 0 0.5 0 0.5 0 0.5 0 0.5 0.1 0.5 0 0.5 0 0.5 0 0.5 0 0.5 0 0.5 0 0.5 0 0.5 0 0.5 0.1 0.5 0 0.5 0 0.5 0 0.5 0 0.5 0 0.5 0 0.5 0 0.5 0 0.5 0 0.5 0 0.5 0 0 24.7-0.5 0.1-0.5 0-0.5 0-0.5 0-0.5 0-0.5 0-0.5 0-0.5 0-0.5 0-0.5 0-0.5 0-0.5 0-0.5 0-0.5 0-0.5 0-0.5 0-0.5 0-0.5 0-0.5 0-0.5 0.1-0.5 0-0.5 0-0.5 0-0.5 0-0.5 0-0.5 0-0.5 0-0.5 0-0.5 0-0.5 0.1-0.5 0-0.5 0-0.5 0-0.5 0-0.5 0-0.5 0.1-0.5 0-0.5 0-0.5 0-0.5 0.1-0.5 0-0.5 0-0.5 0-0.5 0.1-0.5 0-0.5 0-0.5 0.1-0.5 0-0.6 0.1-0.5 0-0.5 0-0.5 0.1-0.5 0-0.5 0.1-0.5 0.1-0.5 0-0.5 0.1-0.5 0.1-0.5 0-0.5 0.1-0.5 0.1-0.5 0.1-0.5 0.1-0.5 0.1-0.5 0.1-0.5 0.1-0.5 0.1-0.5 0.1-0.5 0.1-0.5 0.1-0.5 0.2-0.5 0.1-0.5 0.2-0.5 0.2-0.5 0.1-0.5 0.2-0.5 0.2-0.5 0.2-0.5 0.2-0.5 0.3-0.5 0.2-0.5 0.3-0.5 0.2-0.5 0.3-0.5 0.3-0.5 0.4-0.5 0.3-0.5 0.4-0.5 0.3-0.5 0.4-0.5 0.5-0.5 0.4-0.5 0.5-0.5 0.5-0.5 0.5-0.5 0.6-0.5 0.6z" fill="url(#hs)"/>
<path d="M639.5 110.6l0.5 3.2 0.5 2.5 0.5 2.2 0.5 1.7 0.5 1.5 0.5 1.3 0.5 1.1 0.5 1 0.5 0.9 0.5 0.7 0.5 0.7 0.5 0.7 0.5 0.5 0.5 0.6 0.5 0.5 0.5 0.4 0.5 0.4 0.5 0.4 0.5 0.4 0.5 0.4 0.5 0.3 0.5 0.3 0.5 0.3 0.5 0.3 0.5 0.2 0.5 0.3 0.5 0.2 0.5 0.2 0.5 0.2 0.5 0.2 0.5 0.2 0.5 0.2 0.5 0.1 0.5 0.2 0.5 0.1 0.5 0.2 0.5 0.1 0.5 0.1 0.5 0.1 0.5 0.2 0.5 0.1 0.5 0.1 0.5 0.1 0.5 0 0.5 0.1 0.5 0.1 0.5 0.1 0.5 0.1 0.6 0 0.5 0.1 0.5 0 0.5 0.1 0.5 0.1 0.5 0 0.5 0.1 0.5 0 0.5 0 0.5 0.1 0.5 0 0.5 0.1 0.5 0 0.5 0 0.5 0.1 0.5 0 0.5 0 0.5 0 0.5 0.1 0.5 0 0.5 0 0.5 0 0.5 0.1 0.5 0 0.5 0 0.5 0 0.5 0 0.5 0 0.5 0.1 0.5 0 0.5 0 0.5 0 0.5 0 0.5 0 0.5 0 0.5 0 0.5 0 0.5 0.1 0.5 0 0.5 0 0.5 0 0.5 0 0.5 0 0.5 0 0.5 0 0.5 0 0.5 0 0.5 0 0.5 0 0 24.7-0.5 0.1-0.5 0-0.5 0-0.5 0-0.5 0-0.5 0-0.5 0-0.5 0-0.5 0-0.5 0-0.5 0-0.5 0-0.5 0-0.5 0-0.5 0-0.5 0-0.5 0-0.5 0-0.5 0-0.5 0.1-0.5 0-0.5 0-0.5 0-0.5 0-0.5 0-0.5 0-0.5 0-0.5 0-0.5 0-0.5 0.1-0.5 0-0.5 0-0.5 0-0.5 0-0.5 0-0.5 0.1-0.5 0-0.5 0-0.5 0-0.5 0.1-0.5 0-0.5 0-0.5 0-0.5 0.1-0.5 0-0.5 0-0.5 0.1-0.5 0-0.6 0.1-0.5 0-0.5 0-0.5 0.1-0.5 0-0.5 0.1-0.5 0.1-0.5 0-0.5 0.1-0.5 0.1-0.5 0-0.5 0.1-0.5 0.1-0.5 0.1-0.5 0.1-0.5 0.1-0.5 0.1-0.5 0.1-0.5 0.1-0.5 0.1-0.5 0.1-0.5 0.1-0.5 0.2-0.5 0.1-0.5 0.2-0.5 0.2-0.5 0.1-0.5 0.2-0.5 0.2-0.5 0.2-0.5 0.2-0.5 0.3-0.5 0.2-0.5 0.3-0.5 0.2-0.5 0.3-0.5 0.3-0.5 0.4-0.5 0.3-0.5 0.4-0.5 0.3-0.5 0.4-0.5 0.5-0.5 0.4-0.5 0.5-0.5 0.5-0.5 0.5-0.5 0.6-0.5 0.6z" fill="url(#tx)"/>
<rect x="641" y="137.6" width="47.1" height="24.6" fill="url(#cg)"/>
<rect x="641" y="137.6" width="47.1" height="24.6" fill="url(#tx)" opacity="0.45"/>
<path d="M699.1 368.9l0.5 0.9 0.5 0.8 0.5 0.8 0.5 0.7 0.5 0.7 0.5 0.7 0.5 0.6 0.5 0.6 0.5 0.6 0.5 0.5 0.5 0.5 0.5 0.5 0.5 0.5 0.5 0.4 0.5 0.5 0.6 0.4 0.5 0.4 0.5 0.3 0.5 0.4 0.5 0.3 0.5 0.3 0.5 0.3 0.5 0.3 0.5 0.3 0.5 0.2 0.5 0.3 0.5 0.2 0.5 0.2 0.5 0.2 0.5 0.2 0.5 0.2 0.5 0.2 0.5 0.2 0.5 0.1 0.5 0.2 0.5 0.1 0.5 0.2 0.5 0.1 0.5 0.1 0.5 0.2 0.5 0.1 0.5 0.1 0.5 0.1 0.5 0.1 0.5 0.1 0.5 0.1 0.5 0.1 0.5 0 0.6 0.1 0.5 0.1 0.5 0.1 0.5 0 0.5 0.1 0.5 0 0.5 0.1 0.5 0.1 0.5 0 0.5 0.1 0.5 0 0.5 0 0.5 0.1 0.5 0 0.5 0.1 0.5 0 0.5 0 0.5 0.1 0.5 0 0.5 0 0.5 0.1 0.5 0 0.5 0 0.5 0 0.5 0.1 0.5 0 0.5 0 0.5 0 0.5 0 0.5 0.1 0.5 0 0.6 0 0.5 0 0.5 0 0.5 0 0.5 0 0.5 0.1 0.5 0 0.5 0 0.5 0 0.5 0 0.5 0 0.5 0 0.5 0 0.5 0 0.5 0 0.5 0.1 0.5 0 0 22.5-0.5 0-0.5 0-0.5 0-0.5 0-0.5 0-0.5 0-0.5 0-0.5 0-0.5 0-0.5 0-0.5 0-0.5 0-0.5 0-0.5 0-0.5 0-0.5 0-0.6 0.1-0.5 0-0.5 0-0.5 0-0.5 0-0.5 0-0.5 0-0.5 0-0.5 0-0.5 0-0.5 0-0.5 0-0.5 0-0.5 0-0.5 0.1-0.5 0-0.5 0-0.5 0-0.5 0-0.5 0-0.5 0-0.5 0.1-0.5 0-0.5 0-0.5 0-0.5 0.1-0.5 0-0.5 0-0.5 0.1-0.5 0-0.5 0-0.6 0.1-0.5 0-0.5 0.1-0.5 0-0.5 0.1-0.5 0.1-0.5 0-0.5 0.1-0.5 0.1-0.5 0.1-0.5 0.1-0.5 0.1-0.5 0.1-0.5 0.1-0.5 0.1-0.5 0.2-0.5 0.1-0.5 0.2-0.5 0.2-0.5 0.1-0.5 0.2-0.5 0.3-0.5 0.2-0.5 0.3-0.5 0.2-0.5 0.3-0.5 0.4-0.5 0.3-0.5 0.4-0.5 0.4-0.5 0.5-0.5 0.4-0.5 0.6-0.6 0.5-0.5 0.6-0.5 0.7-0.5 0.7-0.5 0.7-0.5 0.9-0.5 0.9-0.5 0.9-0.5 1.1-0.5 1.1-0.5 1.2-0.5 1.3-0.5 1.4-0.5 1.6-0.5 1.6-0.5 1.8z" fill="url(#ls)"/>
<path d="M699.1 368.9l0.5 0.9 0.5 0.8 0.5 0.8 0.5 0.7 0.5 0.7 0.5 0.7 0.5 0.6 0.5 0.6 0.5 0.6 0.5 0.5 0.5 0.5 0.5 0.5 0.5 0.5 0.5 0.4 0.5 0.5 0.6 0.4 0.5 0.4 0.5 0.3 0.5 0.4 0.5 0.3 0.5 0.3 0.5 0.3 0.5 0.3 0.5 0.3 0.5 0.2 0.5 0.3 0.5 0.2 0.5 0.2 0.5 0.2 0.5 0.2 0.5 0.2 0.5 0.2 0.5 0.2 0.5 0.1 0.5 0.2 0.5 0.1 0.5 0.2 0.5 0.1 0.5 0.1 0.5 0.2 0.5 0.1 0.5 0.1 0.5 0.1 0.5 0.1 0.5 0.1 0.5 0.1 0.5 0.1 0.5 0 0.6 0.1 0.5 0.1 0.5 0.1 0.5 0 0.5 0.1 0.5 0 0.5 0.1 0.5 0.1 0.5 0 0.5 0.1 0.5 0 0.5 0 0.5 0.1 0.5 0 0.5 0.1 0.5 0 0.5 0 0.5 0.1 0.5 0 0.5 0 0.5 0.1 0.5 0 0.5 0 0.5 0 0.5 0.1 0.5 0 0.5 0 0.5 0 0.5 0 0.5 0.1 0.5 0 0.6 0 0.5 0 0.5 0 0.5 0 0.5 0 0.5 0.1 0.5 0 0.5 0 0.5 0 0.5 0 0.5 0 0.5 0 0.5 0 0.5 0 0.5 0 0.5 0.1 0.5 0 0 22.5-0.5 0-0.5 0-0.5 0-0.5 0-0.5 0-0.5 0-0.5 0-0.5 0-0.5 0-0.5 0-0.5 0-0.5 0-0.5 0-0.5 0-0.5 0-0.5 0-0.6 0.1-0.5 0-0.5 0-0.5 0-0.5 0-0.5 0-0.5 0-0.5 0-0.5 0-0.5 0-0.5 0-0.5 0-0.5 0-0.5 0-0.5 0.1-0.5 0-0.5 0-0.5 0-0.5 0-0.5 0-0.5 0-0.5 0.1-0.5 0-0.5 0-0.5 0-0.5 0.1-0.5 0-0.5 0-0.5 0.1-0.5 0-0.5 0-0.6 0.1-0.5 0-0.5 0.1-0.5 0-0.5 0.1-0.5 0.1-0.5 0-0.5 0.1-0.5 0.1-0.5 0.1-0.5 0.1-0.5 0.1-0.5 0.1-0.5 0.1-0.5 0.1-0.5 0.2-0.5 0.1-0.5 0.2-0.5 0.2-0.5 0.1-0.5 0.2-0.5 0.3-0.5 0.2-0.5 0.3-0.5 0.2-0.5 0.3-0.5 0.4-0.5 0.3-0.5 0.4-0.5 0.4-0.5 0.5-0.5 0.4-0.5 0.6-0.6 0.5-0.5 0.6-0.5 0.7-0.5 0.7-0.5 0.7-0.5 0.9-0.5 0.9-0.5 0.9-0.5 1.1-0.5 1.1-0.5 1.2-0.5 1.3-0.5 1.4-0.5 1.6-0.5 1.6-0.5 1.8z" fill="url(#tx)"/>
<rect x="700.6" y="386.4" width="46.8" height="22.4" fill="url(#cg)"/>
<rect x="700.6" y="386.4" width="46.8" height="22.4" fill="url(#tx)" opacity="0.45"/>
<path d="M758 110.6l0.5 3.2 0.5 2.5 0.5 2.2 0.5 1.7 0.5 1.5 0.5 1.3 0.5 1.1 0.5 1 0.5 0.9 0.5 0.7 0.5 0.7 0.5 0.7 0.5 0.5 0.5 0.6 0.5 0.5 0.5 0.4 0.5 0.4 0.5 0.4 0.5 0.4 0.5 0.4 0.5 0.3 0.5 0.3 0.5 0.3 0.5 0.3 0.5 0.2 0.5 0.3 0.5 0.2 0.5 0.2 0.5 0.2 0.5 0.2 0.5 0.2 0.5 0.2 0.5 0.1 0.5 0.2 0.5 0.1 0.5 0.2 0.5 0.1 0.5 0.1 0.5 0.1 0.5 0.2 0.5 0.1 0.5 0.1 0.5 0.1 0.5 0 0.5 0.1 0.5 0.1 0.5 0.1 0.5 0.1 0.6 0 0.5 0.1 0.5 0 0.5 0.1 0.5 0.1 0.5 0 0.5 0.1 0.5 0 0.5 0 0.5 0.1 0.5 0 0.5 0.1 0.5 0 0.5 0 0.5 0.1 0.5 0 0.5 0 0.5 0 0.5 0.1 0.5 0 0.5 0 0.5 0 0.5 0.1 0.5 0 0.5 0 0.5 0 0.5 0 0.5 0 0.5 0.1 0.5 0 0.5 0 0.5 0 0.5 0 0.5 0 0.5 0 0.5 0 0.5 0 0.5 0.1 0.5 0 0.5 0 0.5 0 0.5 0 0.5 0 0.5 0 0.5 0 0.5 0 0.5 0 0.5 0 0.5 0 0 24.7-0.5 0.1-0.5 0-0.5 0-0.5 0-0.5 0-0.5 0-0.5 0-0.5 0-0.5 0-0.5 0-0.5 0-0.5 0-0.5 0-0.5 0-0.5 0-0.5 0-0.5 0-0.5 0-0.5 0-0.5 0.1-0.5 0-0.5 0-0.5 0-0.5 0-0.5 0-0.5 0-0.5 0-0.5 0-0.5 0-0.5 0.1-0.5 0-0.5 0-0.5 0-0.5 0-0.5 0-0.5 0.1-0.5 0-0.5 0-0.5 0-0.5 0.1-0.5 0-0.5 0-0.5 0-0.5 0.1-0.5 0-0.5 0-0.5 0.1-0.5 0-0.6 0.1-0.5 0-0.5 0-0.5 0.1-0.5 0-0.5 0.1-0.5 0.1-0.5 0-0.5 0.1-0.5 0.1-0.5 0-0.5 0.1-0.5 0.1-0.5 0.1-0.5 0.1-0.5 0.1-0.5 0.1-0.5 0.1-0.5 0.1-0.5 0.1-0.5 0.1-0.5 0.1-0.5 0.2-0.5 0.1-0.5 0.2-0.5 0.2-0.5 0.1-0.5 0.2-0.5 0.2-0.5 0.2-0.5 0.2-0.5 0.3-0.5 0.2-0.5 0.3-0.5 0.2-0.5 0.3-0.5 0.3-0.5 0.4-0.5 0.3-0.5 0.4-0.5 0.3-0.5 0.4-0.5 0.5-0.5 0.4-0.5 0.5-0.5 0.5-0.5 0.5-0.5 0.6-0.5 0.6z" fill="url(#hs)"/>
<path d="M758 110.6l0.5 3.2 0.5 2.5 0.5 2.2 0.5 1.7 0.5 1.5 0.5 1.3 0.5 1.1 0.5 1 0.5 0.9 0.5 0.7 0.5 0.7 0.5 0.7 0.5 0.5 0.5 0.6 0.5 0.5 0.5 0.4 0.5 0.4 0.5 0.4 0.5 0.4 0.5 0.4 0.5 0.3 0.5 0.3 0.5 0.3 0.5 0.3 0.5 0.2 0.5 0.3 0.5 0.2 0.5 0.2 0.5 0.2 0.5 0.2 0.5 0.2 0.5 0.2 0.5 0.1 0.5 0.2 0.5 0.1 0.5 0.2 0.5 0.1 0.5 0.1 0.5 0.1 0.5 0.2 0.5 0.1 0.5 0.1 0.5 0.1 0.5 0 0.5 0.1 0.5 0.1 0.5 0.1 0.5 0.1 0.6 0 0.5 0.1 0.5 0 0.5 0.1 0.5 0.1 0.5 0 0.5 0.1 0.5 0 0.5 0 0.5 0.1 0.5 0 0.5 0.1 0.5 0 0.5 0 0.5 0.1 0.5 0 0.5 0 0.5 0 0.5 0.1 0.5 0 0.5 0 0.5 0 0.5 0.1 0.5 0 0.5 0 0.5 0 0.5 0 0.5 0 0.5 0.1 0.5 0 0.5 0 0.5 0 0.5 0 0.5 0 0.5 0 0.5 0 0.5 0 0.5 0.1 0.5 0 0.5 0 0.5 0 0.5 0 0.5 0 0.5 0 0.5 0 0.5 0 0.5 0 0.5 0 0.5 0 0 24.7-0.5 0.1-0.5 0-0.5 0-0.5 0-0.5 0-0.5 0-0.5 0-0.5 0-0.5 0-0.5 0-0.5 0-0.5 0-0.5 0-0.5 0-0.5 0-0.5 0-0.5 0-0.5 0-0.5 0-0.5 0.1-0.5 0-0.5 0-0.5 0-0.5 0-0.5 0-0.5 0-0.5 0-0.5 0-0.5 0-0.5 0.1-0.5 0-0.5 0-0.5 0-0.5 0-0.5 0-0.5 0.1-0.5 0-0.5 0-0.5 0-0.5 0.1-0.5 0-0.5 0-0.5 0-0.5 0.1-0.5 0-0.5 0-0.5 0.1-0.5 0-0.6 0.1-0.5 0-0.5 0-0.5 0.1-0.5 0-0.5 0.1-0.5 0.1-0.5 0-0.5 0.1-0.5 0.1-0.5 0-0.5 0.1-0.5 0.1-0.5 0.1-0.5 0.1-0.5 0.1-0.5 0.1-0.5 0.1-0.5 0.1-0.5 0.1-0.5 0.1-0.5 0.1-0.5 0.2-0.5 0.1-0.5 0.2-0.5 0.2-0.5 0.1-0.5 0.2-0.5 0.2-0.5 0.2-0.5 0.2-0.5 0.3-0.5 0.2-0.5 0.3-0.5 0.2-0.5 0.3-0.5 0.3-0.5 0.4-0.5 0.3-0.5 0.4-0.5 0.3-0.5 0.4-0.5 0.5-0.5 0.4-0.5 0.5-0.5 0.5-0.5 0.5-0.5 0.6-0.5 0.6z" fill="url(#tx)"/>
<rect x="759.5" y="137.6" width="47.1" height="24.6" fill="url(#cg)"/>
<rect x="759.5" y="137.6" width="47.1" height="24.6" fill="url(#tx)" opacity="0.45"/>
<path d="M817.6 368.9l0.5 0.9 0.5 0.8 0.5 0.8 0.5 0.7 0.5 0.7 0.5 0.7 0.5 0.6 0.5 0.6 0.5 0.6 0.5 0.5 0.5 0.5 0.5 0.5 0.5 0.5 0.5 0.4 0.5 0.5 0.5 0.4 0.6 0.4 0.5 0.3 0.5 0.4 0.5 0.3 0.5 0.3 0.5 0.3 0.5 0.3 0.5 0.3 0.5 0.2 0.5 0.3 0.5 0.2 0.5 0.2 0.5 0.2 0.5 0.2 0.5 0.2 0.5 0.2 0.5 0.2 0.5 0.1 0.5 0.2 0.5 0.1 0.5 0.2 0.5 0.1 0.5 0.1 0.5 0.2 0.5 0.1 0.5 0.1 0.5 0.1 0.5 0.1 0.5 0.1 0.5 0.1 0.5 0.1 0.6 0 0.5 0.1 0.5 0.1 0.5 0.1 0.5 0 0.5 0.1 0.5 0 0.5 0.1 0.5 0.1 0.5 0 0.5 0.1 0.5 0 0.5 0 0.5 0.1 0.5 0 0.5 0.1 0.5 0 0.5 0 0.5 0.1 0.5 0 0.5 0 0.5 0.1 0.5 0 0.5 0 0.5 0 0.5 0.1 0.5 0 0.5 0 0.5 0 0.5 0 0.5 0.1 0.5 0 0.5 0 0.6 0 0.5 0 0.5 0 0.5 0 0.5 0.1 0.5 0 0.5 0 0.5 0 0.5 0 0.5 0 0.5 0 0.5 0 0.5 0 0.5 0 0.5 0.1 0.5 0 0 22.5-0.5 0-0.5 0-0.5 0-0.5 0-0.5 0-0.5 0-0.5 0-0.5 0-0.5 0-0.5 0-0.5 0-0.5 0-0.5 0-0.5 0-0.5 0-0.6 0-0.5 0.1-0.5 0-0.5 0-0.5 0-0.5 0-0.5 0-0.5 0-0.5 0-0.5 0-0.5 0-0.5 0-0.5 0-0.5 0-0.5 0-0.5 0.1-0.5 0-0.5 0-0.5 0-0.5 0-0.5 0-0.5 0-0.5 0.1-0.5 0-0.5 0-0.5 0-0.5 0.1-0.5 0-0.5 0-0.5 0.1-0.5 0-0.5 0-0.5 0.1-0.6 0-0.5 0.1-0.5 0-0.5 0.1-0.5 0.1-0.5 0-0.5 0.1-0.5 0.1-0.5 0.1-0.5 0.1-0.5 0.1-0.5 0.1-0.5 0.1-0.5 0.1-0.5 0.2-0.5 0.1-0.5 0.2-0.5 0.2-0.5 0.1-0.5 0.2-0.5 0.3-0.5 0.2-0.5 0.3-0.5 0.2-0.5 0.3-0.5 0.4-0.5 0.3-0.5 0.4-0.5 0.4-0.5 0.5-0.5 0.4-0.6 0.6-0.5 0.5-0.5 0.6-0.5 0.7-0.5 0.7-0.5 0.7-0.5 0.9-0.5 0.9-0.5 0.9-0.5 1.1-0.5 1.1-0.5 1.2-0.5 1.3-0.5 1.4-0.5 1.6-0.5 1.6-0.5 1.8z" fill="url(#ls)"/>
<path d="M817.6 368.9l0.5 0.9 0.5 0.8 0.5 0.8 0.5 0.7 0.5 0.7 0.5 0.7 0.5 0.6 0.5 0.6 0.5 0.6 0.5 0.5 0.5 0.5 0.5 0.5 0.5 0.5 0.5 0.4 0.5 0.5 0.5 0.4 0.6 0.4 0.5 0.3 0.5 0.4 0.5 0.3 0.5 0.3 0.5 0.3 0.5 0.3 0.5 0.3 0.5 0.2 0.5 0.3 0.5 0.2 0.5 0.2 0.5 0.2 0.5 0.2 0.5 0.2 0.5 0.2 0.5 0.2 0.5 0.1 0.5 0.2 0.5 0.1 0.5 0.2 0.5 0.1 0.5 0.1 0.5 0.2 0.5 0.1 0.5 0.1 0.5 0.1 0.5 0.1 0.5 0.1 0.5 0.1 0.5 0.1 0.6 0 0.5 0.1 0.5 0.1 0.5 0.1 0.5 0 0.5 0.1 0.5 0 0.5 0.1 0.5 0.1 0.5 0 0.5 0.1 0.5 0 0.5 0 0.5 0.1 0.5 0 0.5 0.1 0.5 0 0.5 0 0.5 0.1 0.5 0 0.5 0 0.5 0.1 0.5 0 0.5 0 0.5 0 0.5 0.1 0.5 0 0.5 0 0.5 0 0.5 0 0.5 0.1 0.5 0 0.5 0 0.6 0 0.5 0 0.5 0 0.5 0 0.5 0.1 0.5 0 0.5 0 0.5 0 0.5 0 0.5 0 0.5 0 0.5 0 0.5 0 0.5 0 0.5 0.1 0.5 0 0 22.5-0.5 0-0.5 0-0.5 0-0.5 0-0.5 0-0.5 0-0.5 0-0.5 0-0.5 0-0.5 0-0.5 0-0.5 0-0.5 0-0.5 0-0.5 0-0.6 0-0.5 0.1-0.5 0-0.5 0-0.5 0-0.5 0-0.5 0-0.5 0-0.5 0-0.5 0-0.5 0-0.5 0-0.5 0-0.5 0-0.5 0-0.5 0.1-0.5 0-0.5 0-0.5 0-0.5 0-0.5 0-0.5 0-0.5 0.1-0.5 0-0.5 0-0.5 0-0.5 0.1-0.5 0-0.5 0-0.5 0.1-0.5 0-0.5 0-0.5 0.1-0.6 0-0.5 0.1-0.5 0-0.5 0.1-0.5 0.1-0.5 0-0.5 0.1-0.5 0.1-0.5 0.1-0.5 0.1-0.5 0.1-0.5 0.1-0.5 0.1-0.5 0.1-0.5 0.2-0.5 0.1-0.5 0.2-0.5 0.2-0.5 0.1-0.5 0.2-0.5 0.3-0.5 0.2-0.5 0.3-0.5 0.2-0.5 0.3-0.5 0.4-0.5 0.3-0.5 0.4-0.5 0.4-0.5 0.5-0.5 0.4-0.6 0.6-0.5 0.5-0.5 0.6-0.5 0.7-0.5 0.7-0.5 0.7-0.5 0.9-0.5 0.9-0.5 0.9-0.5 1.1-0.5 1.1-0.5 1.2-0.5 1.3-0.5 1.4-0.5 1.6-0.5 1.6-0.5 1.8z" fill="url(#tx)"/>
<rect x="819.1" y="386.4" width="46.8" height="22.4" fill="url(#cg)"/>
<rect x="819.1" y="386.4" width="46.8" height="22.4" fill="url(#tx)" opacity="0.45"/>
<path d="M876.5 110.6l0.5 3.2 0.5 2.5 0.5 2.2 0.5 1.7 0.5 1.5 0.5 1.3 0.5 1.1 0.5 1 0.5 0.9 0.5 0.7 0.5 0.7 0.5 0.7 0.5 0.5 0.5 0.6 0.5 0.5 0.5 0.4 0.5 0.4 0.5 0.4 0.5 0.4 0.5 0.4 0.5 0.3 0.5 0.3 0.5 0.3 0.5 0.3 0.5 0.2 0.5 0.3 0.5 0.2 0.5 0.2 0.5 0.2 0.5 0.2 0.5 0.2 0.5 0.2 0.5 0.1 0.5 0.2 0.5 0.1 0.5 0.2 0.5 0.1 0.5 0.1 0.5 0.1 0.5 0.2 0.5 0.1 0.5 0.1 0.5 0.1 0.5 0 0.5 0.1 0.5 0.1 0.5 0.1 0.5 0.1 0.6 0 0.5 0.1 0.5 0 0.5 0.1 0.5 0.1 0.5 0 0.5 0.1 0.5 0 0.5 0 0.5 0.1 0.5 0 0.5 0.1 0.5 0 0.5 0 0.5 0.1 0.5 0 0.5 0 0.5 0 0.5 0.1 0.5 0 0.5 0 0.5 0 0.5 0.1 0.5 0 0.5 0 0.5 0 0.5 0 0.5 0 0.5 0.1 0.5 0 0.5 0 0.5 0 0.5 0 0.5 0 0.5 0 0.5 0 0.5 0 0.5 0.1 0.5 0 0.5 0 0.5 0 0.5 0 0.5 0 0.5 0 0.5 0 0.5 0 0.5 0 0.5 0 0.5 0 0 24.7-0.5 0.1-0.5 0-0.5 0-0.5 0-0.5 0-0.5 0-0.5 0-0.5 0-0.5 0-0.5 0-0.5 0-0.5 0-0.5 0-0.5 0-0.5 0-0.5 0-0.5 0-0.5 0-0.5 0-0.5 0.1-0.5 0-0.5 0-0.5 0-0.5 0-0.5 0-0.5 0-0.5 0-0.5 0-0.5 0-0.5 0.1-0.5 0-0.5 0-0.5 0-0.5 0-0.5 0-0.5 0.1-0.5 0-0.5 0-0.5 0-0.5 0.1-0.5 0-0.5 0-0.5 0-0.5 0.1-0.5 0-0.5 0-0.5 0.1-0.5 0-0.6 0.1-0.5 0-0.5 0-0.5 0.1-0.5 0-0.5 0.1-0.5 0.1-0.5 0-0.5 0.1-0.5 0.1-0.5 0-0.5 0.1-0.5 0.1-0.5 0.1-0.5 0.1-0.5 0.1-0.5 0.1-0.5 0.1-0.5 0.1-0.5 0.1-0.5 0.1-0.5 0.1-0.5 0.2-0.5 0.1-0.5 0.2-0.5 0.2-0.5 0.1-0.5 0.2-0.5 0.2-0.5 0.2-0.5 0.2-0.5 0.3-0.5 0.2-0.5 0.3-0.5 0.2-0.5 0.3-0.5 0.3-0.5 0.4-0.5 0.3-0.5 0.4-0.5 0.3-0.5 0.4-0.5 0.5-0.5 0.4-0.5 0.5-0.5 0.5-0.5 0.5-0.5 0.6-0.5 0.6z" fill="url(#hs)"/>
<path d="M876.5 110.6l0.5 3.2 0.5 2.5 0.5 2.2 0.5 1.7 0.5 1.5 0.5 1.3 0.5 1.1 0.5 1 0.5 0.9 0.5 0.7 0.5 0.7 0.5 0.7 0.5 0.5 0.5 0.6 0.5 0.5 0.5 0.4 0.5 0.4 0.5 0.4 0.5 0.4 0.5 0.4 0.5 0.3 0.5 0.3 0.5 0.3 0.5 0.3 0.5 0.2 0.5 0.3 0.5 0.2 0.5 0.2 0.5 0.2 0.5 0.2 0.5 0.2 0.5 0.2 0.5 0.1 0.5 0.2 0.5 0.1 0.5 0.2 0.5 0.1 0.5 0.1 0.5 0.1 0.5 0.2 0.5 0.1 0.5 0.1 0.5 0.1 0.5 0 0.5 0.1 0.5 0.1 0.5 0.1 0.5 0.1 0.6 0 0.5 0.1 0.5 0 0.5 0.1 0.5 0.1 0.5 0 0.5 0.1 0.5 0 0.5 0 0.5 0.1 0.5 0 0.5 0.1 0.5 0 0.5 0 0.5 0.1 0.5 0 0.5 0 0.5 0 0.5 0.1 0.5 0 0.5 0 0.5 0 0.5 0.1 0.5 0 0.5 0 0.5 0 0.5 0 0.5 0 0.5 0.1 0.5 0 0.5 0 0.5 0 0.5 0 0.5 0 0.5 0 0.5 0 0.5 0 0.5 0.1 0.5 0 0.5 0 0.5 0 0.5 0 0.5 0 0.5 0 0.5 0 0.5 0 0.5 0 0.5 0 0.5 0 0 24.7-0.5 0.1-0.5 0-0.5 0-0.5 0-0.5 0-0.5 0-0.5 0-0.5 0-0.5 0-0.5 0-0.5 0-0.5 0-0.5 0-0.5 0-0.5 0-0.5 0-0.5 0-0.5 0-0.5 0-0.5 0.1-0.5 0-0.5 0-0.5 0-0.5 0-0.5 0-0.5 0-0.5 0-0.5 0-0.5 0-0.5 0.1-0.5 0-0.5 0-0.5 0-0.5 0-0.5 0-0.5 0.1-0.5 0-0.5 0-0.5 0-0.5 0.1-0.5 0-0.5 0-0.5 0-0.5 0.1-0.5 0-0.5 0-0.5 0.1-0.5 0-0.6 0.1-0.5 0-0.5 0-0.5 0.1-0.5 0-0.5 0.1-0.5 0.1-0.5 0-0.5 0.1-0.5 0.1-0.5 0-0.5 0.1-0.5 0.1-0.5 0.1-0.5 0.1-0.5 0.1-0.5 0.1-0.5 0.1-0.5 0.1-0.5 0.1-0.5 0.1-0.5 0.1-0.5 0.2-0.5 0.1-0.5 0.2-0.5 0.2-0.5 0.1-0.5 0.2-0.5 0.2-0.5 0.2-0.5 0.2-0.5 0.3-0.5 0.2-0.5 0.3-0.5 0.2-0.5 0.3-0.5 0.3-0.5 0.4-0.5 0.3-0.5 0.4-0.5 0.3-0.5 0.4-0.5 0.5-0.5 0.4-0.5 0.5-0.5 0.5-0.5 0.5-0.5 0.6-0.5 0.6z" fill="url(#tx)"/>
<rect x="878" y="137.6" width="47.1" height="24.6" fill="url(#cg)"/>
<rect x="878" y="137.6" width="47.1" height="24.6" fill="url(#tx)" opacity="0.45"/>
<path d="M936.1 368.9l0.5 0.9 0.5 0.8 0.5 0.7 0.5 0.8 0.5 0.7 0.5 0.7 0.5 0.6 0.5 0.6 0.5 0.6 0.5 0.5 0.5 0.5 0.5 0.5 0.5 0.5 0.5 0.4 0.5 0.5 0.5 0.4 0.5 0.3 0.5 0.4 0.5 0.4 0.5 0.3 0.5 0.3 0.5 0.3 0.5 0.3 0.6 0.3 0.5 0.2 0.5 0.3 0.5 0.2 0.5 0.2 0.5 0.2 0.5 0.2 0.5 0.2 0.5 0.2 0.5 0.2 0.5 0.1 0.5 0.2 0.5 0.1 0.5 0.2 0.5 0.1 0.5 0.1 0.5 0.2 0.5 0.1 0.5 0.1 0.5 0.1 0.5 0.1 0.5 0.1 0.5 0.1 0.5 0 0.5 0.1 0.5 0.1 0.5 0.1 0.5 0 0.5 0.1 0.5 0.1 0.5 0 0.5 0.1 0.5 0 0.5 0.1 0.5 0 0.5 0.1 0.5 0 0.5 0.1 0.5 0 0.5 0.1 0.5 0 0.5 0 0.5 0.1 0.5 0 0.5 0 0.5 0.1 0.5 0 0.5 0 0.6 0 0.5 0.1 0.5 0 0.5 0 0.5 0 0.5 0 0.5 0.1 0.5 0 0.5 0 0.5 0 0.5 0 0.5 0 0.5 0 0.5 0.1 0.5 0 0.5 0 0.5 0 0.5 0 0.5 0 0.5 0 0.5 0 0.5 0 0.5 0 0.5 0.1 0 22.5-0.5 0-0.5 0-0.5 0-0.5 0-0.5 0-0.5 0-0.5 0-0.5 0-0.5 0-0.5 0-0.5 0-0.5 0-0.5 0-0.5 0-0.5 0-0.5 0.1-0.5 0-0.5 0-0.5 0-0.5 0-0.5 0-0.5 0-0.5 0-0.6 0-0.5 0-0.5 0-0.5 0-0.5 0-0.5 0-0.5 0.1-0.5 0-0.5 0-0.5 0-0.5 0-0.5 0-0.5 0.1-0.5 0-0.5 0-0.5 0-0.5 0-0.5 0.1-0.5 0-0.5 0-0.5 0.1-0.5 0-0.5 0-0.5 0.1-0.5 0-0.5 0.1-0.5 0-0.5 0.1-0.5 0.1-0.5 0-0.5 0.1-0.5 0.1-0.5 0.1-0.5 0.1-0.5 0.1-0.5 0.1-0.5 0.1-0.5 0.1-0.5 0.2-0.5 0.1-0.5 0.2-0.5 0.2-0.5 0.2-0.5 0.2-0.5 0.2-0.5 0.2-0.5 0.3-0.5 0.3-0.6 0.3-0.5 0.3-0.5 0.3-0.5 0.4-0.5 0.4-0.5 0.5-0.5 0.5-0.5 0.5-0.5 0.5-0.5 0.6-0.5 0.7-0.5 0.7-0.5 0.8-0.5 0.8-0.5 0.9-0.5 0.9-0.5 1.1-0.5 1.1-0.5 1.2-0.5 1.3-0.5 1.4-0.5 1.6-0.5 1.6-0.5 1.8z" fill="url(#ls)"/>
<path d="M936.1 368.9l0.5 0.9 0.5 0.8 0.5 0.7 0.5 0.8 0.5 0.7 0.5 0.7 0.5 0.6 0.5 0.6 0.5 0.6 0.5 0.5 0.5 0.5 0.5 0.5 0.5 0.5 0.5 0.4 0.5 0.5 0.5 0.4 0.5 0.3 0.5 0.4 0.5 0.4 0.5 0.3 0.5 0.3 0.5 0.3 0.5 0.3 0.6 0.3 0.5 0.2 0.5 0.3 0.5 0.2 0.5 0.2 0.5 0.2 0.5 0.2 0.5 0.2 0.5 0.2 0.5 0.2 0.5 0.1 0.5 0.2 0.5 0.1 0.5 0.2 0.5 0.1 0.5 0.1 0.5 0.2 0.5 0.1 0.5 0.1 0.5 0.1 0.5 0.1 0.5 0.1 0.5 0.1 0.5 0 0.5 0.1 0.5 0.1 0.5 0.1 0.5 0 0.5 0.1 0.5 0.1 0.5 0 0.5 0.1 0.5 0 0.5 0.1 0.5 0 0.5 0.1 0.5 0 0.5 0.1 0.5 0 0.5 0.1 0.5 0 0.5 0 0.5 0.1 0.5 0 0.5 0 0.5 0.1 0.5 0 0.5 0 0.6 0 0.5 0.1 0.5 0 0.5 0 0.5 0 0.5 0 0.5 0.1 0.5 0 0.5 0 0.5 0 0.5 0 0.5 0 0.5 0 0.5 0.1 0.5 0 0.5 0 0.5 0 0.5 0 0.5 0 0.5 0 0.5 0 0.5 0 0.5 0 0.5 0.1 0 22.5-0.5 0-0.5 0-0.5 0-0.5 0-0.5 0-0.5 0-0.5 0-0.5 0-0.5 0-0.5 0-0.5 0-0.5 0-0.5 0-0.5 0-0.5 0-0.5 0.1-0.5 0-0.5 0-0.5 0-0.5 0-0.5 0-0.5 0-0.5 0-0.6 0-0.5 0-0.5 0-0.5 0-0.5 0-0.5 0-0.5 0.1-0.5 0-0.5 0-0.5 0-0.5 0-0.5 0-0.5 0.1-0.5 0-0.5 0-0.5 0-0.5 0-0.5 0.1-0.5 0-0.5 0-0.5 0.1-0.5 0-0.5 0-0.5 0.1-0.5 0-0.5 0.1-0.5 0-0.5 0.1-0.5 0.1-0.5 0-0.5 0.1-0.5 0.1-0.5 0.1-0.5 0.1-0.5 0.1-0.5 0.1-0.5 0.1-0.5 0.1-0.5 0.2-0.5 0.1-0.5 0.2-0.5 0.2-0.5 0.2-0.5 0.2-0.5 0.2-0.5 0.2-0.5 0.3-0.5 0.3-0.6 0.3-0.5 0.3-0.5 0.3-0.5 0.4-0.5 0.4-0.5 0.5-0.5 0.5-0.5 0.5-0.5 0.5-0.5 0.6-0.5 0.7-0.5 0.7-0.5 0.8-0.5 0.8-0.5 0.9-0.5 0.9-0.5 1.1-0.5 1.1-0.5 1.2-0.5 1.3-0.5 1.4-0.5 1.6-0.5 1.6-0.5 1.8z" fill="url(#tx)"/>
<rect x="937.6" y="386.4" width="46.2" height="22.4" fill="url(#cg)"/>
<rect x="937.6" y="386.4" width="46.2" height="22.4" fill="url(#tx)" opacity="0.45"/>
<path d="M61 135.1h1.2v2.5h-1.2zM66.5 136.1h1.2v1.5h-1.2zM67.5 162.2h1.2v1.5h-1.2zM69 133.6h1.2v4h-1.2zM71 162.2h1.2v1.5h-1.2zM74.5 136.1h1.2v1.5h-1.2zM73.5 162.2h1.2v3h-1.2zM77 135.6h1.2v2h-1.2zM79.5 133.6h1.2v4h-1.2zM79.5 162.2h1.2v1.5h-1.2zM82 133.6h1.2v4h-1.2zM86.5 134.6h1.2v3h-1.2zM87.5 162.2h1.2v1.5h-1.2zM90 136.1h1.2v1.5h-1.2zM91 162.2h1.2v2h-1.2zM92.5 133.6h1.2v4h-1.2zM120.6 382.4h1.2v4h-1.2zM121.6 408.8h1.2v3h-1.2zM126.1 382.4h1.2v4h-1.2zM130.6 383.9h1.2v2.5h-1.2zM130.6 408.8h1.2v2h-1.2zM133.1 382.4h1.2v4h-1.2zM134.1 408.8h1.2v3h-1.2zM138.6 383.9h1.2v2.5h-1.2zM141.1 384.9h1.2v1.5h-1.2zM142.1 408.8h1.2v2h-1.2zM144.6 383.4h1.2v3h-1.2zM145.6 408.8h1.2v1.5h-1.2zM149.1 383.9h1.2v2.5h-1.2zM148.1 408.8h1.2v3h-1.2zM151.6 383.9h1.2v2.5h-1.2zM150.6 408.8h1.2v1.5h-1.2zM179.5 133.6h1.2v4h-1.2zM185 135.1h1.2v2.5h-1.2zM189.5 136.1h1.2v1.5h-1.2zM194 135.6h1.2v2h-1.2zM199.5 136.1h1.2v1.5h-1.2zM199.5 162.2h1.2v2.5h-1.2zM203 134.6h1.2v3h-1.2zM202 162.2h1.2v3h-1.2zM206.5 134.6h1.2v3h-1.2zM206.5 162.2h1.2v2.5h-1.2zM212 133.6h1.2v4h-1.2zM213 162.2h1.2v3h-1.2zM239.1 384.4h1.2v2h-1.2zM239.1 408.8h1.2v2h-1.2zM242.6 384.4h1.2v2h-1.2zM243.6 408.8h1.2v2h-1.2zM247.1 384.9h1.2v1.5h-1.2zM248.1 408.8h1.2v2.5h-1.2zM250.6 382.4h1.2v4h-1.2zM253.1 383.4h1.2v3h-1.2zM258.6 383.4h1.2v3h-1.2zM260.6 408.8h1.2v1.5h-1.2zM264.1 384.9h1.2v1.5h-1.2zM266.1 408.8h1.2v2h-1.2zM267.6 384.9h1.2v1.5h-1.2zM266.6 408.8h1.2v1.5h-1.2zM270.1 382.4h1.2v4h-1.2zM271.1 408.8h1.2v1.5h-1.2zM298 136.1h1.2v1.5h-1.2zM303.5 135.6h1.2v2h-1.2zM308 133.6h1.2v4h-1.2zM307 162.2h1.2v1.5h-1.2zM313.5 134.6h1.2v3h-1.2zM312.5 162.2h1.2v2.5h-1.2zM317 136.1h1.2v1.5h-1.2zM321.5 134.6h1.2v3h-1.2zM325 133.6h1.2v4h-1.2zM325 162.2h1.2v2.5h-1.2zM327.5 133.6h1.2v4h-1.2zM328.5 162.2h1.2v1.5h-1.2zM357.6 384.4h1.2v2h-1.2zM358.6 408.8h1.2v2h-1.2zM361.1 382.4h1.2v4h-1.2zM364.6 384.4h1.2v2h-1.2zM368.1 384.4h1.2v2h-1.2zM367.1 408.8h1.2v2.5h-1.2zM370.6 383.9h1.2v2.5h-1.2zM371.6 408.8h1.2v2h-1.2zM376.1 383.9h1.2v2.5h-1.2zM380.6 384.9h1.2v1.5h-1.2zM382.6 408.8h1.2v2h-1.2zM384.1 383.9h1.2v2.5h-1.2zM386.1 408.8h1.2v1.5h-1.2zM388.6 384.9h1.2v1.5h-1.2zM416.5 134.6h1.2v3h-1.2zM420 134.6h1.2v3h-1.2zM425.5 135.1h1.2v2.5h-1.2zM427.5 162.2h1.2v3h-1.2zM431 136.1h1.2v1.5h-1.2zM434.5 135.6h1.2v2h-1.2zM434.5 162.2h1.2v3h-1.2zM440 135.1h1.2v2.5h-1.2zM439 162.2h1.2v2h-1.2zM442.5 136.1h1.2v1.5h-1.2zM444.5 162.2h1.2v2h-1.2zM446 135.6h1.2v2h-1.2zM447 162.2h1.2v2h-1.2zM449.5 133.6h1.2v4h-1.2zM449.5 162.2h1.2v3h-1.2zM476.1 383.9h1.2v2.5h-1.2zM481.6 382.4h1.2v4h-1.2zM480.6 408.8h1.2v2h-1.2zM487.1 384.4h1.2v2h-1.2zM490.6 384.4h1.2v2h-1.2zM489.6 408.8h1.2v1.5h-1.2zM495.1 382.4h1.2v4h-1.2zM494.1 408.8h1.2v3h-1.2zM497.6 384.4h1.2v2h-1.2zM496.6 408.8h1.2v1.5h-1.2zM503.1 382.4h1.2v4h-1.2zM505.1 408.8h1.2v1.5h-1.2zM507.6 382.4h1.2v4h-1.2zM535 135.1h1.2v2.5h-1.2zM535 162.2h1.2v3h-1.2zM539.5 133.6h1.2v4h-1.2zM543 134.6h1.2v3h-1.2zM545 162.2h1.2v1.5h-1.2zM548.5 135.1h1.2v2.5h-1.2zM550.5 162.2h1.2v2h-1.2zM551 135.6h1.2v2h-1.2zM553.5 135.6h1.2v2h-1.2zM558 135.6h1.2v2h-1.2zM560 162.2h1.2v2h-1.2zM561.5 136.1h1.2v1.5h-1.2zM561.5 162.2h1.2v3h-1.2zM565 135.6h1.2v2h-1.2zM594.6 383.9h1.2v2.5h-1.2zM595.6 408.8h1.2v2.5h-1.2zM597.1 383.9h1.2v2.5h-1.2zM599.1 408.8h1.2v3h-1.2zM599.6 383.4h1.2v3h-1.2zM598.6 408.8h1.2v2.5h-1.2zM602.1 384.4h1.2v2h-1.2zM604.6 384.9h1.2v1.5h-1.2zM604.6 408.8h1.2v1.5h-1.2zM609.1 384.4h1.2v2h-1.2zM613.6 383.4h1.2v3h-1.2zM614.6 408.8h1.2v3h-1.2zM616.1 383.9h1.2v2.5h-1.2zM618.1 408.8h1.2v2h-1.2zM618.6 383.9h1.2v2.5h-1.2zM621.1 383.9h1.2v2.5h-1.2zM620.1 408.8h1.2v2h-1.2zM625.6 384.9h1.2v1.5h-1.2zM627.6 408.8h1.2v2.5h-1.2zM653.5 133.6h1.2v4h-1.2zM652.5 162.2h1.2v2h-1.2zM657 135.1h1.2v2.5h-1.2zM658 162.2h1.2v2h-1.2zM661.5 133.6h1.2v4h-1.2zM666 134.6h1.2v3h-1.2zM667 162.2h1.2v2h-1.2zM670.5 136.1h1.2v1.5h-1.2zM673 136.1h1.2v1.5h-1.2zM675 162.2h1.2v2h-1.2zM676.5 134.6h1.2v3h-1.2zM678.5 162.2h1.2v3h-1.2zM682 133.6h1.2v4h-1.2zM682 162.2h1.2v2h-1.2zM686.5 135.6h1.2v2h-1.2zM713.1 383.4h1.2v3h-1.2zM715.6 384.4h1.2v2h-1.2zM717.6 408.8h1.2v2.5h-1.2zM719.1 384.9h1.2v1.5h-1.2zM720.1 408.8h1.2v3h-1.2zM722.6 383.9h1.2v2.5h-1.2zM722.6 408.8h1.2v2h-1.2zM727.1 383.4h1.2v3h-1.2zM728.1 408.8h1.2v2.5h-1.2zM731.6 384.4h1.2v2h-1.2zM731.6 408.8h1.2v2.5h-1.2zM736.1 384.4h1.2v2h-1.2zM735.1 408.8h1.2v3h-1.2zM741.6 383.9h1.2v2.5h-1.2zM741.6 408.8h1.2v2h-1.2zM744.1 384.9h1.2v1.5h-1.2zM744.1 408.8h1.2v1.5h-1.2zM772 133.6h1.2v4h-1.2zM773 162.2h1.2v1.5h-1.2zM776.5 135.6h1.2v2h-1.2zM778.5 162.2h1.2v2h-1.2zM781 134.6h1.2v3h-1.2zM780 162.2h1.2v2h-1.2zM786.5 133.6h1.2v4h-1.2zM786.5 162.2h1.2v1.5h-1.2zM789 136.1h1.2v1.5h-1.2zM788 162.2h1.2v2.5h-1.2zM794.5 134.6h1.2v3h-1.2zM794.5 162.2h1.2v1.5h-1.2zM800 135.1h1.2v2.5h-1.2zM799 162.2h1.2v1.5h-1.2zM802.5 134.6h1.2v3h-1.2zM803.5 162.2h1.2v1.5h-1.2zM831.6 384.4h1.2v2h-1.2zM833.6 408.8h1.2v3h-1.2zM837.1 384.9h1.2v1.5h-1.2zM836.1 408.8h1.2v2.5h-1.2zM840.6 384.9h1.2v1.5h-1.2zM841.6 408.8h1.2v2.5h-1.2zM845.1 382.4h1.2v4h-1.2zM847.1 408.8h1.2v1.5h-1.2zM847.6 383.4h1.2v3h-1.2zM847.6 408.8h1.2v1.5h-1.2zM853.1 383.9h1.2v2.5h-1.2zM857.6 383.4h1.2v3h-1.2zM857.6 408.8h1.2v1.5h-1.2zM862.1 384.9h1.2v1.5h-1.2zM864.6 383.9h1.2v2.5h-1.2zM865.6 408.8h1.2v3h-1.2zM890.5 135.6h1.2v2h-1.2zM894 136.1h1.2v1.5h-1.2zM895 162.2h1.2v2h-1.2zM898.5 135.6h1.2v2h-1.2zM903 136.1h1.2v1.5h-1.2zM906.5 134.6h1.2v3h-1.2zM912 134.6h1.2v3h-1.2zM914 162.2h1.2v1.5h-1.2zM917.5 134.6h1.2v3h-1.2zM919.5 162.2h1.2v2h-1.2zM922 134.6h1.2v3h-1.2zM921 162.2h1.2v2.5h-1.2zM950.1 383.9h1.2v2.5h-1.2zM952.6 384.4h1.2v2h-1.2zM957.1 383.9h1.2v2.5h-1.2zM959.1 408.8h1.2v3h-1.2zM959.6 383.9h1.2v2.5h-1.2zM964.1 384.9h1.2v1.5h-1.2zM965.1 408.8h1.2v1.5h-1.2zM967.6 384.4h1.2v2h-1.2zM973.1 382.4h1.2v4h-1.2zM975.1 408.8h1.2v2.5h-1.2zM975.6 383.4h1.2v3h-1.2zM979.1 384.9h1.2v1.5h-1.2zM981.1 408.8h1.2v3h-1.2zM982.6 383.9h1.2v2.5h-1.2zM982.6 408.8h1.2v2h-1.2z" fill="#007070"/>
<rect x="36.4" y="259.5" width="10.6" height="23.0" fill="url(#zg)"/>
<rect x="36.4" y="259.5" width="10.6" height="23.0" fill="url(#tx)" opacity="0.5"/>
<rect x="95.6" y="264.5" width="11" height="24.0" fill="url(#zg)"/>
<rect x="95.6" y="264.5" width="11" height="24.0" fill="url(#tx)" opacity="0.5"/>
<rect x="154.9" y="259.5" width="10.6" height="23.0" fill="url(#zg)"/>
<rect x="154.9" y="259.5" width="10.6" height="23.0" fill="url(#tx)" opacity="0.5"/>
<rect x="214.1" y="264.5" width="11" height="24.0" fill="url(#zg)"/>
<rect x="214.1" y="264.5" width="11" height="24.0" fill="url(#tx)" opacity="0.5"/>
<rect x="273.4" y="259.5" width="10.6" height="23.0" fill="url(#zg)"/>
<rect x="273.4" y="259.5" width="10.6" height="23.0" fill="url(#tx)" opacity="0.5"/>
<rect x="332.6" y="264.5" width="11" height="24.0" fill="url(#zg)"/>
<rect x="332.6" y="264.5" width="11" height="24.0" fill="url(#tx)" opacity="0.5"/>
<rect x="391.9" y="259.5" width="10.6" height="23.0" fill="url(#zg)"/>
<rect x="391.9" y="259.5" width="10.6" height="23.0" fill="url(#tx)" opacity="0.5"/>
<rect x="451.1" y="264.5" width="11" height="24.0" fill="url(#zg)"/>
<rect x="451.1" y="264.5" width="11" height="24.0" fill="url(#tx)" opacity="0.5"/>
<rect x="510.4" y="259.5" width="10.6" height="23.0" fill="url(#zg)"/>
<rect x="510.4" y="259.5" width="10.6" height="23.0" fill="url(#tx)" opacity="0.5"/>
<rect x="569.6" y="264.5" width="11" height="24.0" fill="url(#zg)"/>
<rect x="569.6" y="264.5" width="11" height="24.0" fill="url(#tx)" opacity="0.5"/>
<rect x="628.9" y="259.5" width="10.6" height="23.0" fill="url(#zg)"/>
<rect x="628.9" y="259.5" width="10.6" height="23.0" fill="url(#tx)" opacity="0.5"/>
<rect x="688.1" y="264.5" width="11" height="24.0" fill="url(#zg)"/>
<rect x="688.1" y="264.5" width="11" height="24.0" fill="url(#tx)" opacity="0.5"/>
<rect x="747.4" y="259.5" width="10.6" height="23.0" fill="url(#zg)"/>
<rect x="747.4" y="259.5" width="10.6" height="23.0" fill="url(#tx)" opacity="0.5"/>
<rect x="806.6" y="264.5" width="11" height="24.0" fill="url(#zg)"/>
<rect x="806.6" y="264.5" width="11" height="24.0" fill="url(#tx)" opacity="0.5"/>
<rect x="865.9" y="259.5" width="10.6" height="23.0" fill="url(#zg)"/>
<rect x="865.9" y="259.5" width="10.6" height="23.0" fill="url(#tx)" opacity="0.5"/>
<rect x="925.1" y="264.5" width="11" height="24.0" fill="url(#zg)"/>
<rect x="925.1" y="264.5" width="11" height="24.0" fill="url(#tx)" opacity="0.5"/>
</g>
<path d="M127.7 38h1.3v1.3h-1.3zM127.7 50.7h1.3v1.3h-1.3zM127.7 63.3h1.3v1.3h-1.3zM127.7 76h1.3v1.3h-1.3zM127.7 88.7h1.3v1.3h-1.3zM127.7 101.3h1.3v1.3h-1.3zM127.7 114h1.3v1.3h-1.3zM127.7 126.7h1.3v1.3h-1.3zM127.7 139.3h1.3v1.3h-1.3zM127.7 152h1.3v1.3h-1.3zM127.7 164.7h1.3v1.3h-1.3zM127.7 177.3h1.3v1.3h-1.3zM127.7 190h1.3v1.3h-1.3zM127.7 202.7h1.3v1.3h-1.3zM127.7 215.3h1.3v1.3h-1.3zM127.7 228h1.3v1.3h-1.3zM127.7 240.7h1.3v1.3h-1.3zM127.7 253.3h1.3v1.3h-1.3zM127.7 266h1.3v1.3h-1.3zM127.7 271.2h1.3v1.3h-1.3zM127.7 273.7h1.3v1.3h-1.3zM127.7 276.2h1.3v1.3h-1.3zM127.7 281.2h1.3v1.3h-1.3zM127.7 283.7h1.3v1.3h-1.3zM127.7 286.2h1.3v1.3h-1.3zM127.7 291.3h1.3v1.3h-1.3zM127.7 304h1.3v1.3h-1.3zM127.7 316.6h1.3v1.3h-1.3zM127.7 329.3h1.3v1.3h-1.3zM127.7 342h1.3v1.3h-1.3zM127.7 354.6h1.3v1.3h-1.3zM127.7 367.3h1.3v1.3h-1.3zM127.7 380h1.3v1.3h-1.3zM127.7 392.6h1.3v1.3h-1.3zM127.7 405.3h1.3v1.3h-1.3zM127.7 418h1.3v1.3h-1.3zM127.7 430.6h1.3v1.3h-1.3zM127.7 443.3h1.3v1.3h-1.3zM127.7 456h1.3v1.3h-1.3zM127.7 468.6h1.3v1.3h-1.3zM127.7 481.3h1.3v1.3h-1.3zM127.7 494h1.3v1.3h-1.3zM127.7 506.6h1.3v1.3h-1.3zM127.7 519.3h1.3v1.3h-1.3zM222.7 38h1.3v1.3h-1.3zM222.7 50.7h1.3v1.3h-1.3zM222.7 63.3h1.3v1.3h-1.3zM222.7 76h1.3v1.3h-1.3zM222.7 88.7h1.3v1.3h-1.3zM222.7 101.3h1.3v1.3h-1.3zM222.7 114h1.3v1.3h-1.3zM222.7 126.7h1.3v1.3h-1.3zM222.7 139.3h1.3v1.3h-1.3zM222.7 152h1.3v1.3h-1.3zM222.7 164.7h1.3v1.3h-1.3zM222.7 177.3h1.3v1.3h-1.3zM222.7 190h1.3v1.3h-1.3zM222.7 202.7h1.3v1.3h-1.3zM222.7 215.3h1.3v1.3h-1.3zM222.7 228h1.3v1.3h-1.3zM222.7 240.7h1.3v1.3h-1.3zM222.7 253.3h1.3v1.3h-1.3zM222.7 266h1.3v1.3h-1.3zM222.7 271.2h1.3v1.3h-1.3zM222.7 273.7h1.3v1.3h-1.3zM222.7 276.2h1.3v1.3h-1.3zM222.7 281.2h1.3v1.3h-1.3zM222.7 283.7h1.3v1.3h-1.3zM222.7 286.2h1.3v1.3h-1.3zM222.7 291.3h1.3v1.3h-1.3zM222.7 304h1.3v1.3h-1.3zM222.7 316.6h1.3v1.3h-1.3zM222.7 329.3h1.3v1.3h-1.3zM222.7 342h1.3v1.3h-1.3zM222.7 354.6h1.3v1.3h-1.3zM222.7 367.3h1.3v1.3h-1.3zM222.7 380h1.3v1.3h-1.3zM222.7 392.6h1.3v1.3h-1.3zM222.7 405.3h1.3v1.3h-1.3zM222.7 418h1.3v1.3h-1.3zM222.7 430.6h1.3v1.3h-1.3zM222.7 443.3h1.3v1.3h-1.3zM222.7 456h1.3v1.3h-1.3zM222.7 468.6h1.3v1.3h-1.3zM222.7 481.3h1.3v1.3h-1.3zM222.7 494h1.3v1.3h-1.3zM222.7 506.6h1.3v1.3h-1.3zM222.7 519.3h1.3v1.3h-1.3zM317.8 38h1.3v1.3h-1.3zM317.8 50.7h1.3v1.3h-1.3zM317.8 63.3h1.3v1.3h-1.3zM317.8 76h1.3v1.3h-1.3zM317.8 88.7h1.3v1.3h-1.3zM317.8 101.3h1.3v1.3h-1.3zM317.8 114h1.3v1.3h-1.3zM317.8 126.7h1.3v1.3h-1.3zM317.8 139.3h1.3v1.3h-1.3zM317.8 152h1.3v1.3h-1.3zM317.8 164.7h1.3v1.3h-1.3zM317.8 177.3h1.3v1.3h-1.3zM317.8 190h1.3v1.3h-1.3zM317.8 202.7h1.3v1.3h-1.3zM317.8 215.3h1.3v1.3h-1.3zM317.8 228h1.3v1.3h-1.3zM317.8 240.7h1.3v1.3h-1.3zM317.8 253.3h1.3v1.3h-1.3zM317.8 266h1.3v1.3h-1.3zM317.8 271.2h1.3v1.3h-1.3zM317.8 273.7h1.3v1.3h-1.3zM317.8 276.2h1.3v1.3h-1.3zM317.8 281.2h1.3v1.3h-1.3zM317.8 283.7h1.3v1.3h-1.3zM317.8 286.2h1.3v1.3h-1.3zM317.8 291.3h1.3v1.3h-1.3zM317.8 304h1.3v1.3h-1.3zM317.8 316.6h1.3v1.3h-1.3zM317.8 329.3h1.3v1.3h-1.3zM317.8 342h1.3v1.3h-1.3zM317.8 354.6h1.3v1.3h-1.3zM317.8 367.3h1.3v1.3h-1.3zM317.8 380h1.3v1.3h-1.3zM317.8 392.6h1.3v1.3h-1.3zM317.8 405.3h1.3v1.3h-1.3zM317.8 418h1.3v1.3h-1.3zM317.8 430.6h1.3v1.3h-1.3zM317.8 443.3h1.3v1.3h-1.3zM317.8 456h1.3v1.3h-1.3zM317.8 468.6h1.3v1.3h-1.3zM317.8 481.3h1.3v1.3h-1.3zM317.8 494h1.3v1.3h-1.3zM317.8 506.6h1.3v1.3h-1.3zM317.8 519.3h1.3v1.3h-1.3zM412.9 38h1.3v1.3h-1.3zM412.9 50.7h1.3v1.3h-1.3zM412.9 63.3h1.3v1.3h-1.3zM412.9 76h1.3v1.3h-1.3zM412.9 88.7h1.3v1.3h-1.3zM412.9 101.3h1.3v1.3h-1.3zM412.9 114h1.3v1.3h-1.3zM412.9 126.7h1.3v1.3h-1.3zM412.9 139.3h1.3v1.3h-1.3zM412.9 152h1.3v1.3h-1.3zM412.9 164.7h1.3v1.3h-1.3zM412.9 177.3h1.3v1.3h-1.3zM412.9 190h1.3v1.3h-1.3zM412.9 202.7h1.3v1.3h-1.3zM412.9 215.3h1.3v1.3h-1.3zM412.9 228h1.3v1.3h-1.3zM412.9 240.7h1.3v1.3h-1.3zM412.9 253.3h1.3v1.3h-1.3zM412.9 266h1.3v1.3h-1.3zM412.9 271.2h1.3v1.3h-1.3zM412.9 273.7h1.3v1.3h-1.3zM412.9 276.2h1.3v1.3h-1.3zM412.9 281.2h1.3v1.3h-1.3zM412.9 283.7h1.3v1.3h-1.3zM412.9 286.2h1.3v1.3h-1.3zM412.9 291.3h1.3v1.3h-1.3zM412.9 304h1.3v1.3h-1.3zM412.9 316.6h1.3v1.3h-1.3zM412.9 329.3h1.3v1.3h-1.3zM412.9 342h1.3v1.3h-1.3zM412.9 354.6h1.3v1.3h-1.3zM412.9 367.3h1.3v1.3h-1.3zM412.9 380h1.3v1.3h-1.3zM412.9 392.6h1.3v1.3h-1.3zM412.9 405.3h1.3v1.3h-1.3zM412.9 418h1.3v1.3h-1.3zM412.9 430.6h1.3v1.3h-1.3zM412.9 443.3h1.3v1.3h-1.3zM412.9 456h1.3v1.3h-1.3zM412.9 468.6h1.3v1.3h-1.3zM412.9 481.3h1.3v1.3h-1.3zM412.9 494h1.3v1.3h-1.3zM412.9 506.6h1.3v1.3h-1.3zM412.9 519.3h1.3v1.3h-1.3zM602.9 38h1.3v1.3h-1.3zM602.9 50.7h1.3v1.3h-1.3zM602.9 63.3h1.3v1.3h-1.3zM602.9 76h1.3v1.3h-1.3zM602.9 88.7h1.3v1.3h-1.3zM602.9 101.3h1.3v1.3h-1.3zM602.9 114h1.3v1.3h-1.3zM602.9 126.7h1.3v1.3h-1.3zM602.9 139.3h1.3v1.3h-1.3zM602.9 152h1.3v1.3h-1.3zM602.9 164.7h1.3v1.3h-1.3zM602.9 177.3h1.3v1.3h-1.3zM602.9 190h1.3v1.3h-1.3zM602.9 202.7h1.3v1.3h-1.3zM602.9 215.3h1.3v1.3h-1.3zM602.9 228h1.3v1.3h-1.3zM602.9 240.7h1.3v1.3h-1.3zM602.9 253.3h1.3v1.3h-1.3zM602.9 266h1.3v1.3h-1.3zM602.9 271.2h1.3v1.3h-1.3zM602.9 273.7h1.3v1.3h-1.3zM602.9 276.2h1.3v1.3h-1.3zM602.9 281.2h1.3v1.3h-1.3zM602.9 283.7h1.3v1.3h-1.3zM602.9 286.2h1.3v1.3h-1.3zM602.9 291.3h1.3v1.3h-1.3zM602.9 304h1.3v1.3h-1.3zM602.9 316.6h1.3v1.3h-1.3zM602.9 329.3h1.3v1.3h-1.3zM602.9 342h1.3v1.3h-1.3zM602.9 354.6h1.3v1.3h-1.3zM602.9 367.3h1.3v1.3h-1.3zM602.9 380h1.3v1.3h-1.3zM602.9 392.6h1.3v1.3h-1.3zM602.9 405.3h1.3v1.3h-1.3zM602.9 418h1.3v1.3h-1.3zM602.9 430.6h1.3v1.3h-1.3zM602.9 443.3h1.3v1.3h-1.3zM602.9 456h1.3v1.3h-1.3zM602.9 468.6h1.3v1.3h-1.3zM602.9 481.3h1.3v1.3h-1.3zM602.9 494h1.3v1.3h-1.3zM602.9 506.6h1.3v1.3h-1.3zM602.9 519.3h1.3v1.3h-1.3zM698 38h1.3v1.3h-1.3zM698 50.7h1.3v1.3h-1.3zM698 63.3h1.3v1.3h-1.3zM698 76h1.3v1.3h-1.3zM698 88.7h1.3v1.3h-1.3zM698 101.3h1.3v1.3h-1.3zM698 114h1.3v1.3h-1.3zM698 126.7h1.3v1.3h-1.3zM698 139.3h1.3v1.3h-1.3zM698 152h1.3v1.3h-1.3zM698 164.7h1.3v1.3h-1.3zM698 177.3h1.3v1.3h-1.3zM698 190h1.3v1.3h-1.3zM698 202.7h1.3v1.3h-1.3zM698 215.3h1.3v1.3h-1.3zM698 228h1.3v1.3h-1.3zM698 240.7h1.3v1.3h-1.3zM698 253.3h1.3v1.3h-1.3zM698 266h1.3v1.3h-1.3zM698 271.2h1.3v1.3h-1.3zM698 273.7h1.3v1.3h-1.3zM698 276.2h1.3v1.3h-1.3zM698 281.2h1.3v1.3h-1.3zM698 283.7h1.3v1.3h-1.3zM698 286.2h1.3v1.3h-1.3zM698 291.3h1.3v1.3h-1.3zM698 304h1.3v1.3h-1.3zM698 316.6h1.3v1.3h-1.3zM698 329.3h1.3v1.3h-1.3zM698 342h1.3v1.3h-1.3zM698 354.6h1.3v1.3h-1.3zM698 367.3h1.3v1.3h-1.3zM698 380h1.3v1.3h-1.3zM698 392.6h1.3v1.3h-1.3zM698 405.3h1.3v1.3h-1.3zM698 418h1.3v1.3h-1.3zM698 430.6h1.3v1.3h-1.3zM698 443.3h1.3v1.3h-1.3zM698 456h1.3v1.3h-1.3zM698 468.6h1.3v1.3h-1.3zM698 481.3h1.3v1.3h-1.3zM698 494h1.3v1.3h-1.3zM698 506.6h1.3v1.3h-1.3zM698 519.3h1.3v1.3h-1.3zM793 38h1.3v1.3h-1.3zM793 50.7h1.3v1.3h-1.3zM793 63.3h1.3v1.3h-1.3zM793 76h1.3v1.3h-1.3zM793 88.7h1.3v1.3h-1.3zM793 101.3h1.3v1.3h-1.3zM793 114h1.3v1.3h-1.3zM793 126.7h1.3v1.3h-1.3zM793 139.3h1.3v1.3h-1.3zM793 152h1.3v1.3h-1.3zM793 164.7h1.3v1.3h-1.3zM793 177.3h1.3v1.3h-1.3zM793 190h1.3v1.3h-1.3zM793 202.7h1.3v1.3h-1.3zM793 215.3h1.3v1.3h-1.3zM793 228h1.3v1.3h-1.3zM793 240.7h1.3v1.3h-1.3zM793 253.3h1.3v1.3h-1.3zM793 266h1.3v1.3h-1.3zM793 271.2h1.3v1.3h-1.3zM793 273.7h1.3v1.3h-1.3zM793 276.2h1.3v1.3h-1.3zM793 281.2h1.3v1.3h-1.3zM793 283.7h1.3v1.3h-1.3zM793 286.2h1.3v1.3h-1.3zM793 291.3h1.3v1.3h-1.3zM793 304h1.3v1.3h-1.3zM793 316.6h1.3v1.3h-1.3zM793 329.3h1.3v1.3h-1.3zM793 342h1.3v1.3h-1.3zM793 354.6h1.3v1.3h-1.3zM793 367.3h1.3v1.3h-1.3zM793 380h1.3v1.3h-1.3zM793 392.6h1.3v1.3h-1.3zM793 405.3h1.3v1.3h-1.3zM793 418h1.3v1.3h-1.3zM793 430.6h1.3v1.3h-1.3zM793 443.3h1.3v1.3h-1.3zM793 456h1.3v1.3h-1.3zM793 468.6h1.3v1.3h-1.3zM793 481.3h1.3v1.3h-1.3zM793 494h1.3v1.3h-1.3zM793 506.6h1.3v1.3h-1.3zM793 519.3h1.3v1.3h-1.3zM888.1 38h1.3v1.3h-1.3zM888.1 50.7h1.3v1.3h-1.3zM888.1 63.3h1.3v1.3h-1.3zM888.1 76h1.3v1.3h-1.3zM888.1 88.7h1.3v1.3h-1.3zM888.1 101.3h1.3v1.3h-1.3zM888.1 114h1.3v1.3h-1.3zM888.1 126.7h1.3v1.3h-1.3zM888.1 139.3h1.3v1.3h-1.3zM888.1 152h1.3v1.3h-1.3zM888.1 164.7h1.3v1.3h-1.3zM888.1 177.3h1.3v1.3h-1.3zM888.1 190h1.3v1.3h-1.3zM888.1 202.7h1.3v1.3h-1.3zM888.1 215.3h1.3v1.3h-1.3zM888.1 228h1.3v1.3h-1.3zM888.1 240.7h1.3v1.3h-1.3zM888.1 253.3h1.3v1.3h-1.3zM888.1 266h1.3v1.3h-1.3zM888.1 271.2h1.3v1.3h-1.3zM888.1 273.7h1.3v1.3h-1.3zM888.1 276.2h1.3v1.3h-1.3zM888.1 281.2h1.3v1.3h-1.3zM888.1 283.7h1.3v1.3h-1.3zM888.1 286.2h1.3v1.3h-1.3zM888.1 291.3h1.3v1.3h-1.3zM888.1 304h1.3v1.3h-1.3zM888.1 316.6h1.3v1.3h-1.3zM888.1 329.3h1.3v1.3h-1.3zM888.1 342h1.3v1.3h-1.3zM888.1 354.6h1.3v1.3h-1.3zM888.1 367.3h1.3v1.3h-1.3zM888.1 380h1.3v1.3h-1.3zM888.1 392.6h1.3v1.3h-1.3zM888.1 405.3h1.3v1.3h-1.3zM888.1 418h1.3v1.3h-1.3zM888.1 430.6h1.3v1.3h-1.3zM888.1 443.3h1.3v1.3h-1.3zM888.1 456h1.3v1.3h-1.3zM888.1 468.6h1.3v1.3h-1.3zM888.1 481.3h1.3v1.3h-1.3zM888.1 494h1.3v1.3h-1.3zM888.1 506.6h1.3v1.3h-1.3zM888.1 519.3h1.3v1.3h-1.3zM51.7 88.7h1.3v1.3h-1.3zM70.7 88.7h1.3v1.3h-1.3zM89.7 88.7h1.3v1.3h-1.3zM108.7 88.7h1.3v1.3h-1.3zM146.7 88.7h1.3v1.3h-1.3zM165.7 88.7h1.3v1.3h-1.3zM184.7 88.7h1.3v1.3h-1.3zM203.7 88.7h1.3v1.3h-1.3zM241.8 88.7h1.3v1.3h-1.3zM260.8 88.7h1.3v1.3h-1.3zM279.8 88.7h1.3v1.3h-1.3zM298.8 88.7h1.3v1.3h-1.3zM336.8 88.7h1.3v1.3h-1.3zM355.8 88.7h1.3v1.3h-1.3zM374.8 88.7h1.3v1.3h-1.3zM393.8 88.7h1.3v1.3h-1.3zM431.9 88.7h1.3v1.3h-1.3zM450.9 88.7h1.3v1.3h-1.3zM469.9 88.7h1.3v1.3h-1.3zM488.9 88.7h1.3v1.3h-1.3zM526.9 88.7h1.3v1.3h-1.3zM545.9 88.7h1.3v1.3h-1.3zM564.9 88.7h1.3v1.3h-1.3zM583.9 88.7h1.3v1.3h-1.3zM622 88.7h1.3v1.3h-1.3zM641 88.7h1.3v1.3h-1.3zM660 88.7h1.3v1.3h-1.3zM679 88.7h1.3v1.3h-1.3zM717 88.7h1.3v1.3h-1.3zM736 88.7h1.3v1.3h-1.3zM755 88.7h1.3v1.3h-1.3zM774 88.7h1.3v1.3h-1.3zM812.1 88.7h1.3v1.3h-1.3zM831.1 88.7h1.3v1.3h-1.3zM850.1 88.7h1.3v1.3h-1.3zM869.1 88.7h1.3v1.3h-1.3zM907.1 88.7h1.3v1.3h-1.3zM926.1 88.7h1.3v1.3h-1.3zM945.1 88.7h1.3v1.3h-1.3zM964.1 88.7h1.3v1.3h-1.3zM51.7 152h1.3v1.3h-1.3zM70.7 152h1.3v1.3h-1.3zM89.7 152h1.3v1.3h-1.3zM108.7 152h1.3v1.3h-1.3zM146.7 152h1.3v1.3h-1.3zM165.7 152h1.3v1.3h-1.3zM184.7 152h1.3v1.3h-1.3zM203.7 152h1.3v1.3h-1.3zM241.8 152h1.3v1.3h-1.3zM260.8 152h1.3v1.3h-1.3zM279.8 152h1.3v1.3h-1.3zM298.8 152h1.3v1.3h-1.3zM336.8 152h1.3v1.3h-1.3zM355.8 152h1.3v1.3h-1.3zM374.8 152h1.3v1.3h-1.3zM393.8 152h1.3v1.3h-1.3zM431.9 152h1.3v1.3h-1.3zM450.9 152h1.3v1.3h-1.3zM469.9 152h1.3v1.3h-1.3zM488.9 152h1.3v1.3h-1.3zM526.9 152h1.3v1.3h-1.3zM545.9 152h1.3v1.3h-1.3zM564.9 152h1.3v1.3h-1.3zM583.9 152h1.3v1.3h-1.3zM622 152h1.3v1.3h-1.3zM641 152h1.3v1.3h-1.3zM660 152h1.3v1.3h-1.3zM679 152h1.3v1.3h-1.3zM717 152h1.3v1.3h-1.3zM736 152h1.3v1.3h-1.3zM755 152h1.3v1.3h-1.3zM774 152h1.3v1.3h-1.3zM812.1 152h1.3v1.3h-1.3zM831.1 152h1.3v1.3h-1.3zM850.1 152h1.3v1.3h-1.3zM869.1 152h1.3v1.3h-1.3zM907.1 152h1.3v1.3h-1.3zM926.1 152h1.3v1.3h-1.3zM945.1 152h1.3v1.3h-1.3zM964.1 152h1.3v1.3h-1.3zM51.7 215.3h1.3v1.3h-1.3zM70.7 215.3h1.3v1.3h-1.3zM89.7 215.3h1.3v1.3h-1.3zM108.7 215.3h1.3v1.3h-1.3zM146.7 215.3h1.3v1.3h-1.3zM165.7 215.3h1.3v1.3h-1.3zM184.7 215.3h1.3v1.3h-1.3zM203.7 215.3h1.3v1.3h-1.3zM241.8 215.3h1.3v1.3h-1.3zM260.8 215.3h1.3v1.3h-1.3zM279.8 215.3h1.3v1.3h-1.3zM298.8 215.3h1.3v1.3h-1.3zM336.8 215.3h1.3v1.3h-1.3zM355.8 215.3h1.3v1.3h-1.3zM374.8 215.3h1.3v1.3h-1.3zM393.8 215.3h1.3v1.3h-1.3zM431.9 215.3h1.3v1.3h-1.3zM450.9 215.3h1.3v1.3h-1.3zM469.9 215.3h1.3v1.3h-1.3zM488.9 215.3h1.3v1.3h-1.3zM526.9 215.3h1.3v1.3h-1.3zM545.9 215.3h1.3v1.3h-1.3zM564.9 215.3h1.3v1.3h-1.3zM583.9 215.3h1.3v1.3h-1.3zM622 215.3h1.3v1.3h-1.3zM641 215.3h1.3v1.3h-1.3zM660 215.3h1.3v1.3h-1.3zM679 215.3h1.3v1.3h-1.3zM717 215.3h1.3v1.3h-1.3zM736 215.3h1.3v1.3h-1.3zM755 215.3h1.3v1.3h-1.3zM774 215.3h1.3v1.3h-1.3zM812.1 215.3h1.3v1.3h-1.3zM831.1 215.3h1.3v1.3h-1.3zM850.1 215.3h1.3v1.3h-1.3zM869.1 215.3h1.3v1.3h-1.3zM907.1 215.3h1.3v1.3h-1.3zM926.1 215.3h1.3v1.3h-1.3zM945.1 215.3h1.3v1.3h-1.3zM964.1 215.3h1.3v1.3h-1.3zM51.7 342h1.3v1.3h-1.3zM70.7 342h1.3v1.3h-1.3zM89.7 342h1.3v1.3h-1.3zM108.7 342h1.3v1.3h-1.3zM146.7 342h1.3v1.3h-1.3zM165.7 342h1.3v1.3h-1.3zM184.7 342h1.3v1.3h-1.3zM203.7 342h1.3v1.3h-1.3zM241.8 342h1.3v1.3h-1.3zM260.8 342h1.3v1.3h-1.3zM279.8 342h1.3v1.3h-1.3zM298.8 342h1.3v1.3h-1.3zM336.8 342h1.3v1.3h-1.3zM355.8 342h1.3v1.3h-1.3zM374.8 342h1.3v1.3h-1.3zM393.8 342h1.3v1.3h-1.3zM431.9 342h1.3v1.3h-1.3zM450.9 342h1.3v1.3h-1.3zM469.9 342h1.3v1.3h-1.3zM488.9 342h1.3v1.3h-1.3zM526.9 342h1.3v1.3h-1.3zM545.9 342h1.3v1.3h-1.3zM564.9 342h1.3v1.3h-1.3zM583.9 342h1.3v1.3h-1.3zM622 342h1.3v1.3h-1.3zM641 342h1.3v1.3h-1.3zM660 342h1.3v1.3h-1.3zM679 342h1.3v1.3h-1.3zM717 342h1.3v1.3h-1.3zM736 342h1.3v1.3h-1.3zM755 342h1.3v1.3h-1.3zM774 342h1.3v1.3h-1.3zM812.1 342h1.3v1.3h-1.3zM831.1 342h1.3v1.3h-1.3zM850.1 342h1.3v1.3h-1.3zM869.1 342h1.3v1.3h-1.3zM907.1 342h1.3v1.3h-1.3zM926.1 342h1.3v1.3h-1.3zM945.1 342h1.3v1.3h-1.3zM964.1 342h1.3v1.3h-1.3zM51.7 405.3h1.3v1.3h-1.3zM70.7 405.3h1.3v1.3h-1.3zM89.7 405.3h1.3v1.3h-1.3zM108.7 405.3h1.3v1.3h-1.3zM146.7 405.3h1.3v1.3h-1.3zM165.7 405.3h1.3v1.3h-1.3zM184.7 405.3h1.3v1.3h-1.3zM203.7 405.3h1.3v1.3h-1.3zM241.8 405.3h1.3v1.3h-1.3zM260.8 405.3h1.3v1.3h-1.3zM279.8 405.3h1.3v1.3h-1.3zM298.8 405.3h1.3v1.3h-1.3zM336.8 405.3h1.3v1.3h-1.3zM355.8 405.3h1.3v1.3h-1.3zM374.8 405.3h1.3v1.3h-1.3zM393.8 405.3h1.3v1.3h-1.3zM431.9 405.3h1.3v1.3h-1.3zM450.9 405.3h1.3v1.3h-1.3zM469.9 405.3h1.3v1.3h-1.3zM488.9 405.3h1.3v1.3h-1.3zM526.9 405.3h1.3v1.3h-1.3zM545.9 405.3h1.3v1.3h-1.3zM564.9 405.3h1.3v1.3h-1.3zM583.9 405.3h1.3v1.3h-1.3zM622 405.3h1.3v1.3h-1.3zM641 405.3h1.3v1.3h-1.3zM660 405.3h1.3v1.3h-1.3zM679 405.3h1.3v1.3h-1.3zM717 405.3h1.3v1.3h-1.3zM736 405.3h1.3v1.3h-1.3zM755 405.3h1.3v1.3h-1.3zM774 405.3h1.3v1.3h-1.3zM812.1 405.3h1.3v1.3h-1.3zM831.1 405.3h1.3v1.3h-1.3zM850.1 405.3h1.3v1.3h-1.3zM869.1 405.3h1.3v1.3h-1.3zM907.1 405.3h1.3v1.3h-1.3zM926.1 405.3h1.3v1.3h-1.3zM945.1 405.3h1.3v1.3h-1.3zM964.1 405.3h1.3v1.3h-1.3zM51.7 468.6h1.3v1.3h-1.3zM70.7 468.6h1.3v1.3h-1.3zM89.7 468.6h1.3v1.3h-1.3zM108.7 468.6h1.3v1.3h-1.3zM146.7 468.6h1.3v1.3h-1.3zM165.7 468.6h1.3v1.3h-1.3zM184.7 468.6h1.3v1.3h-1.3zM203.7 468.6h1.3v1.3h-1.3zM241.8 468.6h1.3v1.3h-1.3zM260.8 468.6h1.3v1.3h-1.3zM279.8 468.6h1.3v1.3h-1.3zM298.8 468.6h1.3v1.3h-1.3zM336.8 468.6h1.3v1.3h-1.3zM355.8 468.6h1.3v1.3h-1.3zM374.8 468.6h1.3v1.3h-1.3zM393.8 468.6h1.3v1.3h-1.3zM431.9 468.6h1.3v1.3h-1.3zM450.9 468.6h1.3v1.3h-1.3zM469.9 468.6h1.3v1.3h-1.3zM488.9 468.6h1.3v1.3h-1.3zM526.9 468.6h1.3v1.3h-1.3zM545.9 468.6h1.3v1.3h-1.3zM564.9 468.6h1.3v1.3h-1.3zM583.9 468.6h1.3v1.3h-1.3zM622 468.6h1.3v1.3h-1.3zM641 468.6h1.3v1.3h-1.3zM660 468.6h1.3v1.3h-1.3zM679 468.6h1.3v1.3h-1.3zM717 468.6h1.3v1.3h-1.3zM736 468.6h1.3v1.3h-1.3zM755 468.6h1.3v1.3h-1.3zM774 468.6h1.3v1.3h-1.3zM812.1 468.6h1.3v1.3h-1.3zM831.1 468.6h1.3v1.3h-1.3zM850.1 468.6h1.3v1.3h-1.3zM869.1 468.6h1.3v1.3h-1.3zM907.1 468.6h1.3v1.3h-1.3zM926.1 468.6h1.3v1.3h-1.3zM945.1 468.6h1.3v1.3h-1.3zM964.1 468.6h1.3v1.3h-1.3zM51.7 25.4h1.3v3.2h-1.3zM51.7 530h1.3v3.2h-1.3zM70.7 25.4h1.3v3.2h-1.3zM70.7 530h1.3v3.2h-1.3zM89.7 25.4h1.3v3.2h-1.3zM89.7 530h1.3v3.2h-1.3zM108.7 25.4h1.3v3.2h-1.3zM108.7 530h1.3v3.2h-1.3zM127.7 26.9h1.3v1.3h-1.3zM127.7 530.5h1.3v1.3h-1.3zM127.7 29.4h1.3v1.3h-1.3zM127.7 528h1.3v1.3h-1.3zM127.7 32h1.3v1.3h-1.3zM127.7 525.4h1.3v1.3h-1.3zM146.7 25.4h1.3v3.2h-1.3zM146.7 530h1.3v3.2h-1.3zM165.7 25.4h1.3v3.2h-1.3zM165.7 530h1.3v3.2h-1.3zM184.7 25.4h1.3v3.2h-1.3zM184.7 530h1.3v3.2h-1.3zM203.7 25.4h1.3v3.2h-1.3zM203.7 530h1.3v3.2h-1.3zM222.7 26.9h1.3v1.3h-1.3zM222.7 530.5h1.3v1.3h-1.3zM222.7 29.4h1.3v1.3h-1.3zM222.7 528h1.3v1.3h-1.3zM222.7 32h1.3v1.3h-1.3zM222.7 525.4h1.3v1.3h-1.3zM241.8 25.4h1.3v3.2h-1.3zM241.8 530h1.3v3.2h-1.3zM260.8 25.4h1.3v3.2h-1.3zM260.8 530h1.3v3.2h-1.3zM279.8 25.4h1.3v3.2h-1.3zM279.8 530h1.3v3.2h-1.3zM298.8 25.4h1.3v3.2h-1.3zM298.8 530h1.3v3.2h-1.3zM317.8 26.9h1.3v1.3h-1.3zM317.8 530.5h1.3v1.3h-1.3zM317.8 29.4h1.3v1.3h-1.3zM317.8 528h1.3v1.3h-1.3zM317.8 32h1.3v1.3h-1.3zM317.8 525.4h1.3v1.3h-1.3zM336.8 25.4h1.3v3.2h-1.3zM336.8 530h1.3v3.2h-1.3zM355.8 25.4h1.3v3.2h-1.3zM355.8 530h1.3v3.2h-1.3zM374.8 25.4h1.3v3.2h-1.3zM374.8 530h1.3v3.2h-1.3zM393.8 25.4h1.3v3.2h-1.3zM393.8 530h1.3v3.2h-1.3zM412.9 26.9h1.3v1.3h-1.3zM412.9 530.5h1.3v1.3h-1.3zM412.9 29.4h1.3v1.3h-1.3zM412.9 528h1.3v1.3h-1.3zM412.9 32h1.3v1.3h-1.3zM412.9 525.4h1.3v1.3h-1.3zM431.9 25.4h1.3v3.2h-1.3zM431.9 530h1.3v3.2h-1.3zM450.9 25.4h1.3v3.2h-1.3zM450.9 530h1.3v3.2h-1.3zM469.9 25.4h1.3v3.2h-1.3zM469.9 530h1.3v3.2h-1.3zM488.9 25.4h1.3v3.2h-1.3zM488.9 530h1.3v3.2h-1.3zM507.9 530.5h1.3v1.3h-1.3zM507.9 528h1.3v1.3h-1.3zM507.9 525.4h1.3v1.3h-1.3zM526.9 25.4h1.3v3.2h-1.3zM526.9 530h1.3v3.2h-1.3zM545.9 25.4h1.3v3.2h-1.3zM545.9 530h1.3v3.2h-1.3zM564.9 25.4h1.3v3.2h-1.3zM564.9 530h1.3v3.2h-1.3zM583.9 25.4h1.3v3.2h-1.3zM583.9 530h1.3v3.2h-1.3zM602.9 26.9h1.3v1.3h-1.3zM602.9 530.5h1.3v1.3h-1.3zM602.9 29.4h1.3v1.3h-1.3zM602.9 528h1.3v1.3h-1.3zM602.9 32h1.3v1.3h-1.3zM602.9 525.4h1.3v1.3h-1.3zM622 25.4h1.3v3.2h-1.3zM622 530h1.3v3.2h-1.3zM641 25.4h1.3v3.2h-1.3zM641 530h1.3v3.2h-1.3zM660 25.4h1.3v3.2h-1.3zM660 530h1.3v3.2h-1.3zM679 25.4h1.3v3.2h-1.3zM679 530h1.3v3.2h-1.3zM698 26.9h1.3v1.3h-1.3zM698 530.5h1.3v1.3h-1.3zM698 29.4h1.3v1.3h-1.3zM698 528h1.3v1.3h-1.3zM698 32h1.3v1.3h-1.3zM698 525.4h1.3v1.3h-1.3zM717 25.4h1.3v3.2h-1.3zM717 530h1.3v3.2h-1.3zM736 25.4h1.3v3.2h-1.3zM736 530h1.3v3.2h-1.3zM755 25.4h1.3v3.2h-1.3zM755 530h1.3v3.2h-1.3zM774 25.4h1.3v3.2h-1.3zM774 530h1.3v3.2h-1.3zM793 26.9h1.3v1.3h-1.3zM793 530.5h1.3v1.3h-1.3zM793 29.4h1.3v1.3h-1.3zM793 528h1.3v1.3h-1.3zM793 32h1.3v1.3h-1.3zM793 525.4h1.3v1.3h-1.3zM812.1 25.4h1.3v3.2h-1.3zM812.1 530h1.3v3.2h-1.3zM831.1 25.4h1.3v3.2h-1.3zM831.1 530h1.3v3.2h-1.3zM850.1 25.4h1.3v3.2h-1.3zM850.1 530h1.3v3.2h-1.3zM869.1 25.4h1.3v3.2h-1.3zM869.1 530h1.3v3.2h-1.3zM888.1 26.9h1.3v1.3h-1.3zM888.1 530.5h1.3v1.3h-1.3zM888.1 29.4h1.3v1.3h-1.3zM888.1 528h1.3v1.3h-1.3zM888.1 32h1.3v1.3h-1.3zM888.1 525.4h1.3v1.3h-1.3zM907.1 25.4h1.3v3.2h-1.3zM907.1 530h1.3v3.2h-1.3zM926.1 25.4h1.3v3.2h-1.3zM926.1 530h1.3v3.2h-1.3zM945.1 25.4h1.3v3.2h-1.3zM945.1 530h1.3v3.2h-1.3zM964.1 25.4h1.3v3.2h-1.3zM964.1 530h1.3v3.2h-1.3zM32.7 38h3.2v1.3h-3.2zM981.2 38h3.2v1.3h-3.2zM32.7 50.7h3.2v1.3h-3.2zM981.2 50.7h3.2v1.3h-3.2zM32.7 63.3h3.2v1.3h-3.2zM981.2 63.3h3.2v1.3h-3.2zM32.7 76h3.2v1.3h-3.2zM981.2 76h3.2v1.3h-3.2zM34.1 88.7h1.3v1.3h-1.3zM981.6 88.7h1.3v1.3h-1.3zM36.6 88.7h1.3v1.3h-1.3zM979.1 88.7h1.3v1.3h-1.3zM39.2 88.7h1.3v1.3h-1.3zM976.5 88.7h1.3v1.3h-1.3zM32.7 101.3h3.2v1.3h-3.2zM981.2 101.3h3.2v1.3h-3.2zM32.7 114h3.2v1.3h-3.2zM981.2 114h3.2v1.3h-3.2zM32.7 126.7h3.2v1.3h-3.2zM981.2 126.7h3.2v1.3h-3.2zM32.7 139.3h3.2v1.3h-3.2zM981.2 139.3h3.2v1.3h-3.2zM34.1 152h1.3v1.3h-1.3zM981.6 152h1.3v1.3h-1.3zM36.6 152h1.3v1.3h-1.3zM979.1 152h1.3v1.3h-1.3zM39.2 152h1.3v1.3h-1.3zM976.5 152h1.3v1.3h-1.3zM32.7 164.7h3.2v1.3h-3.2zM981.2 164.7h3.2v1.3h-3.2zM32.7 177.3h3.2v1.3h-3.2zM981.2 177.3h3.2v1.3h-3.2zM32.7 190h3.2v1.3h-3.2zM981.2 190h3.2v1.3h-3.2zM32.7 202.7h3.2v1.3h-3.2zM981.2 202.7h3.2v1.3h-3.2zM34.1 215.3h1.3v1.3h-1.3zM981.6 215.3h1.3v1.3h-1.3zM36.6 215.3h1.3v1.3h-1.3zM979.1 215.3h1.3v1.3h-1.3zM39.2 215.3h1.3v1.3h-1.3zM976.5 215.3h1.3v1.3h-1.3zM32.7 228h3.2v1.3h-3.2zM981.2 228h3.2v1.3h-3.2zM32.7 240.7h3.2v1.3h-3.2zM981.2 240.7h3.2v1.3h-3.2zM32.7 253.3h3.2v1.3h-3.2zM981.2 253.3h3.2v1.3h-3.2zM32.7 266h3.2v1.3h-3.2zM981.2 266h3.2v1.3h-3.2zM34.1 278.7h1.3v1.3h-1.3zM981.6 278.7h1.3v1.3h-1.3zM36.6 278.7h1.3v1.3h-1.3zM979.1 278.7h1.3v1.3h-1.3zM39.2 278.7h1.3v1.3h-1.3zM976.5 278.7h1.3v1.3h-1.3zM32.7 291.3h3.2v1.3h-3.2zM981.2 291.3h3.2v1.3h-3.2zM32.7 304h3.2v1.3h-3.2zM981.2 304h3.2v1.3h-3.2zM32.7 316.6h3.2v1.3h-3.2zM981.2 316.6h3.2v1.3h-3.2zM32.7 329.3h3.2v1.3h-3.2zM981.2 329.3h3.2v1.3h-3.2zM34.1 342h1.3v1.3h-1.3zM981.6 342h1.3v1.3h-1.3zM36.6 342h1.3v1.3h-1.3zM979.1 342h1.3v1.3h-1.3zM39.2 342h1.3v1.3h-1.3zM976.5 342h1.3v1.3h-1.3zM32.7 354.6h3.2v1.3h-3.2zM981.2 354.6h3.2v1.3h-3.2zM32.7 367.3h3.2v1.3h-3.2zM981.2 367.3h3.2v1.3h-3.2zM32.7 380h3.2v1.3h-3.2zM981.2 380h3.2v1.3h-3.2zM32.7 392.6h3.2v1.3h-3.2zM981.2 392.6h3.2v1.3h-3.2zM34.1 405.3h1.3v1.3h-1.3zM981.6 405.3h1.3v1.3h-1.3zM36.6 405.3h1.3v1.3h-1.3zM979.1 405.3h1.3v1.3h-1.3zM39.2 405.3h1.3v1.3h-1.3zM976.5 405.3h1.3v1.3h-1.3zM32.7 418h3.2v1.3h-3.2zM981.2 418h3.2v1.3h-3.2zM32.7 430.6h3.2v1.3h-3.2zM981.2 430.6h3.2v1.3h-3.2zM32.7 443.3h3.2v1.3h-3.2zM981.2 443.3h3.2v1.3h-3.2zM32.7 456h3.2v1.3h-3.2zM981.2 456h3.2v1.3h-3.2zM34.1 468.6h1.3v1.3h-1.3zM981.6 468.6h1.3v1.3h-1.3zM36.6 468.6h1.3v1.3h-1.3zM979.1 468.6h1.3v1.3h-1.3zM39.2 468.6h1.3v1.3h-1.3zM976.5 468.6h1.3v1.3h-1.3zM32.7 481.3h3.2v1.3h-3.2zM981.2 481.3h3.2v1.3h-3.2zM32.7 494h3.2v1.3h-3.2zM981.2 494h3.2v1.3h-3.2zM32.7 506.6h3.2v1.3h-3.2zM981.2 506.6h3.2v1.3h-3.2zM32.7 519.3h3.2v1.3h-3.2zM981.2 519.3h3.2v1.3h-3.2zM51.7 274.5h1.3v1.3h-1.3zM51.7 276.5h1.3v1.3h-1.3zM51.7 280.9h1.3v1.3h-1.3zM51.7 282.9h1.3v1.3h-1.3zM51.9 274.8h0.8v9h-0.8zM70.7 274.5h1.3v1.3h-1.3zM70.7 276.5h1.3v1.3h-1.3zM70.7 280.9h1.3v1.3h-1.3zM70.7 282.9h1.3v1.3h-1.3zM70.9 274.8h0.8v9h-0.8zM89.7 274.5h1.3v1.3h-1.3zM89.7 276.5h1.3v1.3h-1.3zM89.7 280.9h1.3v1.3h-1.3zM89.7 282.9h1.3v1.3h-1.3zM89.9 274.8h0.8v9h-0.8zM108.7 274.5h1.3v1.3h-1.3zM108.7 276.5h1.3v1.3h-1.3zM108.7 280.9h1.3v1.3h-1.3zM108.7 282.9h1.3v1.3h-1.3zM108.9 274.8h0.8v9h-0.8zM146.7 274.5h1.3v1.3h-1.3zM146.7 276.5h1.3v1.3h-1.3zM146.7 280.9h1.3v1.3h-1.3zM146.7 282.9h1.3v1.3h-1.3zM147 274.8h0.8v9h-0.8zM165.7 274.5h1.3v1.3h-1.3zM165.7 276.5h1.3v1.3h-1.3zM165.7 280.9h1.3v1.3h-1.3zM165.7 282.9h1.3v1.3h-1.3zM166 274.8h0.8v9h-0.8zM184.7 274.5h1.3v1.3h-1.3zM184.7 276.5h1.3v1.3h-1.3zM184.7 280.9h1.3v1.3h-1.3zM184.7 282.9h1.3v1.3h-1.3zM185 274.8h0.8v9h-0.8zM203.7 274.5h1.3v1.3h-1.3zM203.7 276.5h1.3v1.3h-1.3zM203.7 280.9h1.3v1.3h-1.3zM203.7 282.9h1.3v1.3h-1.3zM204 274.8h0.8v9h-0.8zM241.8 274.5h1.3v1.3h-1.3zM241.8 276.5h1.3v1.3h-1.3zM241.8 280.9h1.3v1.3h-1.3zM241.8 282.9h1.3v1.3h-1.3zM242 274.8h0.8v9h-0.8zM260.8 274.5h1.3v1.3h-1.3zM260.8 276.5h1.3v1.3h-1.3zM260.8 280.9h1.3v1.3h-1.3zM260.8 282.9h1.3v1.3h-1.3zM261 274.8h0.8v9h-0.8zM279.8 274.5h1.3v1.3h-1.3zM279.8 276.5h1.3v1.3h-1.3zM279.8 280.9h1.3v1.3h-1.3zM279.8 282.9h1.3v1.3h-1.3zM280 274.8h0.8v9h-0.8zM298.8 274.5h1.3v1.3h-1.3zM298.8 276.5h1.3v1.3h-1.3zM298.8 280.9h1.3v1.3h-1.3zM298.8 282.9h1.3v1.3h-1.3zM299 274.8h0.8v9h-0.8zM336.8 274.5h1.3v1.3h-1.3zM336.8 276.5h1.3v1.3h-1.3zM336.8 280.9h1.3v1.3h-1.3zM336.8 282.9h1.3v1.3h-1.3zM337.1 274.8h0.8v9h-0.8zM355.8 274.5h1.3v1.3h-1.3zM355.8 276.5h1.3v1.3h-1.3zM355.8 280.9h1.3v1.3h-1.3zM355.8 282.9h1.3v1.3h-1.3zM356.1 274.8h0.8v9h-0.8zM374.8 274.5h1.3v1.3h-1.3zM374.8 276.5h1.3v1.3h-1.3zM374.8 280.9h1.3v1.3h-1.3zM374.8 282.9h1.3v1.3h-1.3zM375.1 274.8h0.8v9h-0.8zM393.8 274.5h1.3v1.3h-1.3zM393.8 276.5h1.3v1.3h-1.3zM393.8 280.9h1.3v1.3h-1.3zM393.8 282.9h1.3v1.3h-1.3zM394.1 274.8h0.8v9h-0.8zM431.9 274.5h1.3v1.3h-1.3zM431.9 276.5h1.3v1.3h-1.3zM431.9 280.9h1.3v1.3h-1.3zM431.9 282.9h1.3v1.3h-1.3zM432.1 274.8h0.8v9h-0.8zM450.9 274.5h1.3v1.3h-1.3zM450.9 276.5h1.3v1.3h-1.3zM450.9 280.9h1.3v1.3h-1.3zM450.9 282.9h1.3v1.3h-1.3zM451.1 274.8h0.8v9h-0.8zM469.9 274.5h1.3v1.3h-1.3zM469.9 276.5h1.3v1.3h-1.3zM469.9 280.9h1.3v1.3h-1.3zM469.9 282.9h1.3v1.3h-1.3zM470.1 274.8h0.8v9h-0.8zM488.9 274.5h1.3v1.3h-1.3zM488.9 276.5h1.3v1.3h-1.3zM488.9 280.9h1.3v1.3h-1.3zM488.9 282.9h1.3v1.3h-1.3zM489.1 274.8h0.8v9h-0.8zM526.9 274.5h1.3v1.3h-1.3zM526.9 276.5h1.3v1.3h-1.3zM526.9 280.9h1.3v1.3h-1.3zM526.9 282.9h1.3v1.3h-1.3zM527.2 274.8h0.8v9h-0.8zM545.9 274.5h1.3v1.3h-1.3zM545.9 276.5h1.3v1.3h-1.3zM545.9 280.9h1.3v1.3h-1.3zM545.9 282.9h1.3v1.3h-1.3zM546.2 274.8h0.8v9h-0.8zM564.9 274.5h1.3v1.3h-1.3zM564.9 276.5h1.3v1.3h-1.3zM564.9 280.9h1.3v1.3h-1.3zM564.9 282.9h1.3v1.3h-1.3zM565.2 274.8h0.8v9h-0.8zM583.9 274.5h1.3v1.3h-1.3zM583.9 276.5h1.3v1.3h-1.3zM583.9 280.9h1.3v1.3h-1.3zM583.9 282.9h1.3v1.3h-1.3zM584.2 274.8h0.8v9h-0.8zM622 274.5h1.3v1.3h-1.3zM622 276.5h1.3v1.3h-1.3zM622 280.9h1.3v1.3h-1.3zM622 282.9h1.3v1.3h-1.3zM622.2 274.8h0.8v9h-0.8zM641 274.5h1.3v1.3h-1.3zM641 276.5h1.3v1.3h-1.3zM641 280.9h1.3v1.3h-1.3zM641 282.9h1.3v1.3h-1.3zM641.2 274.8h0.8v9h-0.8zM660 274.5h1.3v1.3h-1.3zM660 276.5h1.3v1.3h-1.3zM660 280.9h1.3v1.3h-1.3zM660 282.9h1.3v1.3h-1.3zM660.2 274.8h0.8v9h-0.8zM679 274.5h1.3v1.3h-1.3zM679 276.5h1.3v1.3h-1.3zM679 280.9h1.3v1.3h-1.3zM679 282.9h1.3v1.3h-1.3zM679.2 274.8h0.8v9h-0.8zM717 274.5h1.3v1.3h-1.3zM717 276.5h1.3v1.3h-1.3zM717 280.9h1.3v1.3h-1.3zM717 282.9h1.3v1.3h-1.3zM717.3 274.8h0.8v9h-0.8zM736 274.5h1.3v1.3h-1.3zM736 276.5h1.3v1.3h-1.3zM736 280.9h1.3v1.3h-1.3zM736 282.9h1.3v1.3h-1.3zM736.3 274.8h0.8v9h-0.8zM755 274.5h1.3v1.3h-1.3zM755 276.5h1.3v1.3h-1.3zM755 280.9h1.3v1.3h-1.3zM755 282.9h1.3v1.3h-1.3zM755.3 274.8h0.8v9h-0.8zM774 274.5h1.3v1.3h-1.3zM774 276.5h1.3v1.3h-1.3zM774 280.9h1.3v1.3h-1.3zM774 282.9h1.3v1.3h-1.3zM774.3 274.8h0.8v9h-0.8zM812.1 274.5h1.3v1.3h-1.3zM812.1 276.5h1.3v1.3h-1.3zM812.1 280.9h1.3v1.3h-1.3zM812.1 282.9h1.3v1.3h-1.3zM812.3 274.8h0.8v9h-0.8zM831.1 274.5h1.3v1.3h-1.3zM831.1 276.5h1.3v1.3h-1.3zM831.1 280.9h1.3v1.3h-1.3zM831.1 282.9h1.3v1.3h-1.3zM831.3 274.8h0.8v9h-0.8zM850.1 274.5h1.3v1.3h-1.3zM850.1 276.5h1.3v1.3h-1.3zM850.1 280.9h1.3v1.3h-1.3zM850.1 282.9h1.3v1.3h-1.3zM850.3 274.8h0.8v9h-0.8zM869.1 274.5h1.3v1.3h-1.3zM869.1 276.5h1.3v1.3h-1.3zM869.1 280.9h1.3v1.3h-1.3zM869.1 282.9h1.3v1.3h-1.3zM869.3 274.8h0.8v9h-0.8zM907.1 274.5h1.3v1.3h-1.3zM907.1 276.5h1.3v1.3h-1.3zM907.1 280.9h1.3v1.3h-1.3zM907.1 282.9h1.3v1.3h-1.3zM907.4 274.8h0.8v9h-0.8zM926.1 274.5h1.3v1.3h-1.3zM926.1 276.5h1.3v1.3h-1.3zM926.1 280.9h1.3v1.3h-1.3zM926.1 282.9h1.3v1.3h-1.3zM926.4 274.8h0.8v9h-0.8zM945.1 274.5h1.3v1.3h-1.3zM945.1 276.5h1.3v1.3h-1.3zM945.1 280.9h1.3v1.3h-1.3zM945.1 282.9h1.3v1.3h-1.3zM945.4 274.8h0.8v9h-0.8zM964.1 274.5h1.3v1.3h-1.3zM964.1 276.5h1.3v1.3h-1.3zM964.1 280.9h1.3v1.3h-1.3zM964.1 282.9h1.3v1.3h-1.3zM964.4 274.8h0.8v9h-0.8zM503.7 63.3h1.3v1.3h-1.3zM505.7 63.3h1.3v1.3h-1.3zM510.1 63.3h1.3v1.3h-1.3zM512.1 63.3h1.3v1.3h-1.3zM504.1 63.6h9v0.8h-9zM503.7 76h1.3v1.3h-1.3zM505.7 76h1.3v1.3h-1.3zM510.1 76h1.3v1.3h-1.3zM512.1 76h1.3v1.3h-1.3zM504.1 76.3h9v0.8h-9zM500.4 88.7h1.3v1.3h-1.3zM502.9 88.7h1.3v1.3h-1.3zM505.4 88.7h1.3v1.3h-1.3zM510.4 88.7h1.3v1.3h-1.3zM512.9 88.7h1.3v1.3h-1.3zM515.4 88.7h1.3v1.3h-1.3zM503.7 101.3h1.3v1.3h-1.3zM505.7 101.3h1.3v1.3h-1.3zM510.1 101.3h1.3v1.3h-1.3zM512.1 101.3h1.3v1.3h-1.3zM504.1 101.6h9v0.8h-9zM503.7 114h1.3v1.3h-1.3zM505.7 114h1.3v1.3h-1.3zM510.1 114h1.3v1.3h-1.3zM512.1 114h1.3v1.3h-1.3zM504.1 114.3h9v0.8h-9zM503.7 126.7h1.3v1.3h-1.3zM505.7 126.7h1.3v1.3h-1.3zM510.1 126.7h1.3v1.3h-1.3zM512.1 126.7h1.3v1.3h-1.3zM504.1 126.9h9v0.8h-9zM503.7 139.3h1.3v1.3h-1.3zM505.7 139.3h1.3v1.3h-1.3zM510.1 139.3h1.3v1.3h-1.3zM512.1 139.3h1.3v1.3h-1.3zM504.1 139.6h9v0.8h-9zM500.4 152h1.3v1.3h-1.3zM502.9 152h1.3v1.3h-1.3zM505.4 152h1.3v1.3h-1.3zM510.4 152h1.3v1.3h-1.3zM512.9 152h1.3v1.3h-1.3zM515.4 152h1.3v1.3h-1.3zM503.7 164.7h1.3v1.3h-1.3zM505.7 164.7h1.3v1.3h-1.3zM510.1 164.7h1.3v1.3h-1.3zM512.1 164.7h1.3v1.3h-1.3zM504.1 164.9h9v0.8h-9zM503.7 177.3h1.3v1.3h-1.3zM505.7 177.3h1.3v1.3h-1.3zM510.1 177.3h1.3v1.3h-1.3zM512.1 177.3h1.3v1.3h-1.3zM504.1 177.6h9v0.8h-9zM503.7 190h1.3v1.3h-1.3zM505.7 190h1.3v1.3h-1.3zM510.1 190h1.3v1.3h-1.3zM512.1 190h1.3v1.3h-1.3zM504.1 190.2h9v0.8h-9zM503.7 202.7h1.3v1.3h-1.3zM505.7 202.7h1.3v1.3h-1.3zM510.1 202.7h1.3v1.3h-1.3zM512.1 202.7h1.3v1.3h-1.3zM504.1 202.9h9v0.8h-9zM500.4 215.3h1.3v1.3h-1.3zM502.9 215.3h1.3v1.3h-1.3zM505.4 215.3h1.3v1.3h-1.3zM510.4 215.3h1.3v1.3h-1.3zM512.9 215.3h1.3v1.3h-1.3zM515.4 215.3h1.3v1.3h-1.3zM503.7 228h1.3v1.3h-1.3zM505.7 228h1.3v1.3h-1.3zM510.1 228h1.3v1.3h-1.3zM512.1 228h1.3v1.3h-1.3zM504.1 228.2h9v0.8h-9zM503.7 240.7h1.3v1.3h-1.3zM505.7 240.7h1.3v1.3h-1.3zM510.1 240.7h1.3v1.3h-1.3zM512.1 240.7h1.3v1.3h-1.3zM504.1 240.9h9v0.8h-9zM503.7 253.3h1.3v1.3h-1.3zM505.7 253.3h1.3v1.3h-1.3zM510.1 253.3h1.3v1.3h-1.3zM512.1 253.3h1.3v1.3h-1.3zM504.1 253.6h9v0.8h-9zM503.7 266h1.3v1.3h-1.3zM505.7 266h1.3v1.3h-1.3zM510.1 266h1.3v1.3h-1.3zM512.1 266h1.3v1.3h-1.3zM504.1 266.2h9v0.8h-9zM503.7 291.3h1.3v1.3h-1.3zM505.7 291.3h1.3v1.3h-1.3zM510.1 291.3h1.3v1.3h-1.3zM512.1 291.3h1.3v1.3h-1.3zM504.1 291.6h9v0.8h-9zM503.7 304h1.3v1.3h-1.3zM505.7 304h1.3v1.3h-1.3zM510.1 304h1.3v1.3h-1.3zM512.1 304h1.3v1.3h-1.3zM504.1 304.2h9v0.8h-9zM503.7 316.6h1.3v1.3h-1.3zM505.7 316.6h1.3v1.3h-1.3zM510.1 316.6h1.3v1.3h-1.3zM512.1 316.6h1.3v1.3h-1.3zM504.1 316.9h9v0.8h-9zM503.7 329.3h1.3v1.3h-1.3zM505.7 329.3h1.3v1.3h-1.3zM510.1 329.3h1.3v1.3h-1.3zM512.1 329.3h1.3v1.3h-1.3zM504.1 329.6h9v0.8h-9zM500.4 342h1.3v1.3h-1.3zM502.9 342h1.3v1.3h-1.3zM505.4 342h1.3v1.3h-1.3zM510.4 342h1.3v1.3h-1.3zM512.9 342h1.3v1.3h-1.3zM515.4 342h1.3v1.3h-1.3zM503.7 354.6h1.3v1.3h-1.3zM505.7 354.6h1.3v1.3h-1.3zM510.1 354.6h1.3v1.3h-1.3zM512.1 354.6h1.3v1.3h-1.3zM504.1 354.9h9v0.8h-9zM503.7 367.3h1.3v1.3h-1.3zM505.7 367.3h1.3v1.3h-1.3zM510.1 367.3h1.3v1.3h-1.3zM512.1 367.3h1.3v1.3h-1.3zM504.1 367.6h9v0.8h-9zM503.7 380h1.3v1.3h-1.3zM505.7 380h1.3v1.3h-1.3zM510.1 380h1.3v1.3h-1.3zM512.1 380h1.3v1.3h-1.3zM504.1 380.2h9v0.8h-9zM503.7 392.6h1.3v1.3h-1.3zM505.7 392.6h1.3v1.3h-1.3zM510.1 392.6h1.3v1.3h-1.3zM512.1 392.6h1.3v1.3h-1.3zM504.1 392.9h9v0.8h-9zM500.4 405.3h1.3v1.3h-1.3zM502.9 405.3h1.3v1.3h-1.3zM505.4 405.3h1.3v1.3h-1.3zM510.4 405.3h1.3v1.3h-1.3zM512.9 405.3h1.3v1.3h-1.3zM515.4 405.3h1.3v1.3h-1.3zM503.7 418h1.3v1.3h-1.3zM505.7 418h1.3v1.3h-1.3zM510.1 418h1.3v1.3h-1.3zM512.1 418h1.3v1.3h-1.3zM504.1 418.2h9v0.8h-9zM503.7 430.6h1.3v1.3h-1.3zM505.7 430.6h1.3v1.3h-1.3zM510.1 430.6h1.3v1.3h-1.3zM512.1 430.6h1.3v1.3h-1.3zM504.1 430.9h9v0.8h-9zM503.7 443.3h1.3v1.3h-1.3zM505.7 443.3h1.3v1.3h-1.3zM510.1 443.3h1.3v1.3h-1.3zM512.1 443.3h1.3v1.3h-1.3zM504.1 443.5h9v0.8h-9zM503.7 456h1.3v1.3h-1.3zM505.7 456h1.3v1.3h-1.3zM510.1 456h1.3v1.3h-1.3zM512.1 456h1.3v1.3h-1.3zM504.1 456.2h9v0.8h-9zM500.4 468.6h1.3v1.3h-1.3zM502.9 468.6h1.3v1.3h-1.3zM505.4 468.6h1.3v1.3h-1.3zM510.4 468.6h1.3v1.3h-1.3zM512.9 468.6h1.3v1.3h-1.3zM515.4 468.6h1.3v1.3h-1.3zM503.7 481.3h1.3v1.3h-1.3zM505.7 481.3h1.3v1.3h-1.3zM510.1 481.3h1.3v1.3h-1.3zM512.1 481.3h1.3v1.3h-1.3zM504.1 481.5h9v0.8h-9zM503.7 494h1.3v1.3h-1.3zM505.7 494h1.3v1.3h-1.3zM510.1 494h1.3v1.3h-1.3zM512.1 494h1.3v1.3h-1.3zM504.1 494.2h9v0.8h-9zM503.7 506.6h1.3v1.3h-1.3zM505.7 506.6h1.3v1.3h-1.3zM510.1 506.6h1.3v1.3h-1.3zM512.1 506.6h1.3v1.3h-1.3zM504.1 506.9h9v0.8h-9zM503.7 519.3h1.3v1.3h-1.3zM505.7 519.3h1.3v1.3h-1.3zM510.1 519.3h1.3v1.3h-1.3zM512.1 519.3h1.3v1.3h-1.3zM504.1 519.5h9v0.8h-9z" fill="#000"/>
<rect x="32" y="24.2" width="952.3" height="1.8" fill="#111"/>
<rect x="32" y="24.2" width="1.3" height="510" fill="#111"/>
<rect x="982.8" y="24.2" width="1.6" height="510" fill="#111"/>
<rect x="32" y="531.8" width="952.3" height="2.3" fill="#111"/>
<rect x="33" y="278.5" width="936" height="1.7" fill="#111"/>
<rect x="507.8" y="53" width="1.3" height="480" fill="#111"/>
<polygon points="969,279.3 976.5,272.3 976.5,286.3" fill="#00e0e6"/>
<rect x="976" y="278.4" width="7" height="1.8" fill="#00e0e6"/>
<polygon points="6,270 22.5,270 31.5,279.5 22.5,289 6,289" fill="#00e0e6"/>
<polyline points="22.5,289 31.5,279.5" stroke="#1a5a60" stroke-width="1" fill="none"/>
<text x="10.81" y="286.30" font-size="18" textLength="11.00" lengthAdjust="spacingAndGlyphs" font-family='"Liberation Sans",sans-serif' fill="#fff" xml:space="preserve" stroke="#fff" stroke-width="0.6">2</text>
<rect x="300" y="12.4" width="417" height="1.6" fill="#00e0e6"/>
<path d="M458.5 5.5h-2.5v16.5h2.5" stroke="#a8a8a8" stroke-width="1.8" fill="none"/>
<path d="M558.5 5.5h2.5v16.5h-2.5" stroke="#a8a8a8" stroke-width="1.8" fill="none"/>
<polygon points="503.5,4.8 513.5,4.8 508.5,9.5" fill="#ff9900"/>
<rect x="503" y="10" width="10.5" height="14" fill="#ff9900"/>
<path d="M504.8 11.8h7v2h-2.4v9h-2.2v-9h-2.4z" fill="#fff"/>
<path d="M502.6 9.8h1.3v1.3h-1.3zM512.9 9.8h1.3v1.3h-1.3zM502.6 23h1.3v1.3h-1.3zM512.9 23h1.3v1.3h-1.3z" fill="#222"/>
<polygon points="501.8,25.5 515.2,25.5 508.5,32.5" fill="#ff9900"/>
<path d="M503.5 36 q0 -2 2 -2 h11 q2 0 2 2 v12.5 l-7.5 5 l-7.5 -5z" fill="#ff9900"/>
<path d="M505.3 36.3h11.2v2.6h-4.2v11.2h-2.8v-11.2h-4.2z" fill="#fff"/>
<text x="6.23" y="22.30" font-size="25" textLength="39.08" lengthAdjust="spacingAndGlyphs" font-family='"Liberation Serif",serif' font-weight="bold" fill="#111" xml:space="preserve" stroke="#111" stroke-width="0.7">Tek</text>
<text x="49.17" y="20.30" font-size="20" textLength="37.80" lengthAdjust="spacingAndGlyphs" font-family='"Liberation Sans",sans-serif' fill="#111" xml:space="preserve" stroke="#cbcbcb" stroke-width="0.3">Stop</text>
<rect x="32.0" y="488.3" width="407.0" height="47.5" rx="5" fill="#fff" stroke="#2a2a2a" stroke-width="1.4"/>
<rect x="442.2" y="488.3" width="429.8" height="47.5" rx="5" fill="#fff" stroke="#2a2a2a" stroke-width="1.4"/>
<rect x="32.0" y="539.2" width="839.5" height="71.6" rx="5" fill="#fff" stroke="#2a2a2a" stroke-width="1.4"/>
<rect x="875.6" y="536.6" width="141.0" height="48.2" rx="5" fill="#fff" stroke="#2a2a2a" stroke-width="1.4"/>
<rect x="241.6" y="491.4" width="32.1" height="20.0" rx="10.0" fill="#00e0e6"/><text x="252.42" y="507.95" font-size="19" textLength="10.57" lengthAdjust="spacingAndGlyphs" font-family='"Liberation Sans",sans-serif' font-weight="bold" fill="#000" xml:space="preserve">2</text>
<text x="293.96" y="507.40" font-size="20" textLength="55.35" lengthAdjust="spacingAndGlyphs" font-family='"Liberation Sans",sans-serif' fill="#00d8dc" xml:space="preserve" stroke="#fff" stroke-width="0.3">1.00 V</text>
<rect x="38.9" y="514.2" width="32.1" height="20.1" rx="10.0" fill="#990099"/><text x="49.77" y="530.80" font-size="19" textLength="10.57" lengthAdjust="spacingAndGlyphs" font-family='"Liberation Sans",sans-serif' font-weight="bold" fill="#000" xml:space="preserve">3</text>
<text x="91.19" y="530.50" font-size="20" textLength="57.13" lengthAdjust="spacingAndGlyphs" font-family='"Liberation Sans",sans-serif' fill="#b800b8" xml:space="preserve" stroke="#fff" stroke-width="0.3">5.00 A</text>
<rect x="241.6" y="514.2" width="32.1" height="20.4" rx="10.2" fill="#009a00"/><text x="252.28" y="530.96" font-size="19" textLength="10.57" lengthAdjust="spacingAndGlyphs" font-family='"Liberation Sans",sans-serif' font-weight="bold" fill="#000" xml:space="preserve">4</text>
<text x="293.48" y="530.50" font-size="20" textLength="57.84" lengthAdjust="spacingAndGlyphs" font-family='"Liberation Sans",sans-serif' fill="#00aa00" xml:space="preserve" stroke="#fff" stroke-width="0.3">5.00 A</text>
<text x="448.73" y="507.70" font-size="20" textLength="59.10" lengthAdjust="spacingAndGlyphs" font-family='"Liberation Sans",sans-serif' fill="#000" xml:space="preserve" stroke="#fff" stroke-width="0.3">10.0µs</text>
<text x="622.28" y="507.70" font-size="20" textLength="76.75" lengthAdjust="spacingAndGlyphs" font-family='"Liberation Sans",sans-serif' fill="#000" xml:space="preserve" stroke="#fff" stroke-width="0.3">2.50GS/s</text>
<rect x="759.0" y="492.0" width="31.7" height="19.7" rx="9.8" fill="#00e0e6"/><text x="769.63" y="508.41" font-size="19" textLength="10.57" lengthAdjust="spacingAndGlyphs" font-family='"Liberation Sans",sans-serif' font-weight="bold" fill="#000" xml:space="preserve">2</text>
<path d="M809.5 506.5h3.5l6.5 -12h3" stroke="#111" stroke-width="1.6" fill="none"/>
<rect x="448.6" y="515.8" width="14.8" height="14.8" rx="2.5" fill="#ff9900"/>
<path d="M450.8 518h10.4v2.4h-3.9v8.6h-2.6v-8.6h-3.9z" fill="#fff"/>
<path d="M464 522.3h9" stroke="#ff9900" stroke-width="1.8"/><polygon points="471,517.8 476.5,522.3 471,526.8" fill="#ff9900"/>
<polygon points="478.3,519.3 491.6,519.3 485,526.5" fill="#ff9900"/>
<text x="493.10" y="530.50" font-size="20" textLength="93.67" lengthAdjust="spacingAndGlyphs" font-family='"Liberation Sans",sans-serif' fill="#ff9900" xml:space="preserve" stroke="#fff" stroke-width="0.3">–300.000ns</text>
<text x="623.12" y="530.50" font-size="20" textLength="79.84" lengthAdjust="spacingAndGlyphs" font-family='"Liberation Sans",sans-serif' fill="#000" xml:space="preserve" stroke="#fff" stroke-width="0.3">1M points</text>
<text x="776.76" y="530.50" font-size="20" textLength="53.66" lengthAdjust="spacingAndGlyphs" font-family='"Liberation Sans",sans-serif' fill="#000" xml:space="preserve" stroke="#fff" stroke-width="0.3">0.00 V</text>
<text x="211.22" y="558.30" font-size="20" textLength="40.88" lengthAdjust="spacingAndGlyphs" font-family='"Liberation Sans",sans-serif' fill="#000" xml:space="preserve" stroke="#fff" stroke-width="0.3">Value</text>
<text x="330.24" y="558.30" font-size="20" textLength="42.60" lengthAdjust="spacingAndGlyphs" font-family='"Liberation Sans",sans-serif' fill="#000" xml:space="preserve" stroke="#fff" stroke-width="0.3">Mean</text>
<text x="463.86" y="558.30" font-size="20" textLength="29.04" lengthAdjust="spacingAndGlyphs" font-family='"Liberation Sans",sans-serif' fill="#000" xml:space="preserve" stroke="#fff" stroke-width="0.3">Min</text>
<text x="598.57" y="558.30" font-size="20" textLength="33.80" lengthAdjust="spacingAndGlyphs" font-family='"Liberation Sans",sans-serif' fill="#000" xml:space="preserve" stroke="#fff" stroke-width="0.3">Max</text>
<text x="733.22" y="558.30" font-size="20" textLength="61.60" lengthAdjust="spacingAndGlyphs" font-family='"Liberation Sans",sans-serif' fill="#000" xml:space="preserve" stroke="#fff" stroke-width="0.3">Std Dev</text>
<rect x="39.4" y="565.2" width="31.7" height="19.5" rx="9.8" fill="#990099"/><text x="50.07" y="581.50" font-size="19" textLength="10.57" lengthAdjust="spacingAndGlyphs" font-family='"Liberation Sans",sans-serif' font-weight="bold" fill="#000" xml:space="preserve">3</text>
<rect x="39.4" y="588.0" width="31.7" height="19.8" rx="9.9" fill="#990099"/><text x="50.07" y="604.45" font-size="19" textLength="10.57" lengthAdjust="spacingAndGlyphs" font-family='"Liberation Sans",sans-serif' font-weight="bold" fill="#000" xml:space="preserve">3</text>
<text x="75.32" y="581.20" font-size="20" textLength="43.13" lengthAdjust="spacingAndGlyphs" font-family='"Liberation Sans",sans-serif' fill="#b800b8" xml:space="preserve" stroke="#fff" stroke-width="0.3">Mean</text>
<text x="75.41" y="604.00" font-size="20" textLength="35.85" lengthAdjust="spacingAndGlyphs" font-family='"Liberation Sans",sans-serif' fill="#b800b8" xml:space="preserve" stroke="#fff" stroke-width="0.3">RMS</text>
<text x="209.79" y="581.20" font-size="20" textLength="57.23" lengthAdjust="spacingAndGlyphs" font-family='"Liberation Sans",sans-serif' fill="#b800b8" xml:space="preserve" stroke="#fff" stroke-width="0.3">10.3 A</text>
<text x="209.74" y="604.00" font-size="20" textLength="57.29" lengthAdjust="spacingAndGlyphs" font-family='"Liberation Sans",sans-serif' fill="#b800b8" xml:space="preserve" stroke="#fff" stroke-width="0.3">11.3 A</text>
<text x="330.82" y="581.20" font-size="20" textLength="37.88" lengthAdjust="spacingAndGlyphs" font-family='"Liberation Sans",sans-serif' fill="#b800b8" xml:space="preserve" stroke="#fff" stroke-width="0.3">3.95</text>
<text x="331.12" y="604.00" font-size="20" textLength="37.58" lengthAdjust="spacingAndGlyphs" font-family='"Liberation Sans",sans-serif' fill="#b800b8" xml:space="preserve" stroke="#fff" stroke-width="0.3">4.38</text>
<text x="463.93" y="581.20" font-size="20" textLength="45.79" lengthAdjust="spacingAndGlyphs" font-family='"Liberation Sans",sans-serif' fill="#b800b8" xml:space="preserve" stroke="#fff" stroke-width="0.3">130m</text>
<text x="464.39" y="604.00" font-size="20" textLength="45.31" lengthAdjust="spacingAndGlyphs" font-family='"Liberation Sans",sans-serif' fill="#b800b8" xml:space="preserve" stroke="#fff" stroke-width="0.3">203m</text>
<text x="598.51" y="581.20" font-size="20" textLength="38.71" lengthAdjust="spacingAndGlyphs" font-family='"Liberation Sans",sans-serif' fill="#b800b8" xml:space="preserve" stroke="#fff" stroke-width="0.3">10.3</text>
<text x="598.46" y="604.00" font-size="20" textLength="38.50" lengthAdjust="spacingAndGlyphs" font-family='"Liberation Sans",sans-serif' fill="#b800b8" xml:space="preserve" stroke="#fff" stroke-width="0.3">11.4</text>
<text x="733.51" y="581.20" font-size="20" textLength="37.89" lengthAdjust="spacingAndGlyphs" font-family='"Liberation Sans",sans-serif' fill="#b800b8" xml:space="preserve" stroke="#fff" stroke-width="0.3">4.70</text>
<text x="733.22" y="604.00" font-size="20" textLength="38.20" lengthAdjust="spacingAndGlyphs" font-family='"Liberation Sans",sans-serif' fill="#b800b8" xml:space="preserve" stroke="#fff" stroke-width="0.3">5.15</text>
<text x="885.07" y="555.60" font-size="20" textLength="58.13" lengthAdjust="spacingAndGlyphs" font-family='"Liberation Sans",sans-serif' fill="#000" xml:space="preserve" stroke="#fff" stroke-width="0.3">20 Aug</text>
<text x="969.99" y="555.60" font-size="20" textLength="40.53" lengthAdjust="spacingAndGlyphs" font-family='"Liberation Sans",sans-serif' fill="#000" xml:space="preserve" stroke="#fff" stroke-width="0.3">2015</text>
<text x="885.15" y="578.80" font-size="20" textLength="85.98" lengthAdjust="spacingAndGlyphs" font-family='"Liberation Sans",sans-serif' fill="#000" xml:space="preserve" stroke="#fff" stroke-width="0.3">14: 44: 21</text>
</svg>
</body></html>
